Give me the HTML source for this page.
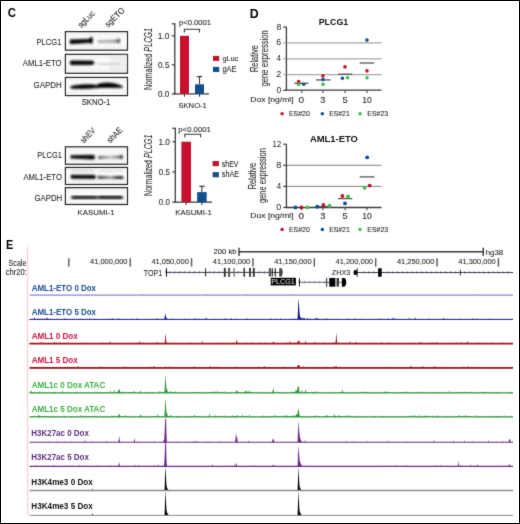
<!DOCTYPE html>
<html><head><meta charset="utf-8"><style>
html,body{margin:0;padding:0;background:#fff;}
svg{display:block;will-change:transform;font-family:"Liberation Sans", sans-serif;}
</style></head><body>
<svg width="520" height="524" viewBox="0 0 520 524">
<defs><filter id="soft" x="0" y="0" width="100%" height="100%" color-interpolation-filters="sRGB"><feConvolveMatrix order="3" kernelMatrix="0.0113 0.0838 0.0113 0.0838 0.6193 0.0838 0.0113 0.0838 0.0113" edgeMode="duplicate" preserveAlpha="true"/></filter><filter id="b6" x="-20%" y="-50%" width="140%" height="200%"><feGaussianBlur stdDeviation="0.8"/></filter><filter id="b7" x="-20%" y="-50%" width="140%" height="200%"><feGaussianBlur stdDeviation="0.8"/></filter><filter id="b9" x="-20%" y="-50%" width="140%" height="200%"><feGaussianBlur stdDeviation="0.9"/></filter><linearGradient id="bg1" x1="0" y1="0" x2="0" y2="1"><stop offset="0" stop-color="#ededed"/><stop offset="0.25" stop-color="#f9f9f9"/><stop offset="0.6" stop-color="#fcfcfc"/><stop offset="1" stop-color="#efefef"/></linearGradient><linearGradient id="g2" x1="0" y1="0" x2="1" y2="0"><stop offset="0" stop-color="#a0a0a0"/><stop offset="0.3" stop-color="#b0b0b0"/><stop offset="0.75" stop-color="#a0a0a0"/><stop offset="1" stop-color="#404040"/></linearGradient><linearGradient id="g3" x1="0" y1="0" x2="1" y2="0"><stop offset="0" stop-color="#222"/><stop offset="0.12" stop-color="#777"/><stop offset="0.5" stop-color="#b8b8b8"/><stop offset="0.82" stop-color="#777"/><stop offset="1" stop-color="#111"/></linearGradient><linearGradient id="g4" x1="0" y1="0" x2="1" y2="0"><stop offset="0" stop-color="#111"/><stop offset="0.2" stop-color="#555"/><stop offset="0.5" stop-color="#999"/><stop offset="0.75" stop-color="#333"/><stop offset="1" stop-color="#111"/></linearGradient><linearGradient id="g5" x1="0" y1="0" x2="1" y2="0"><stop offset="0" stop-color="#555"/><stop offset="0.5" stop-color="#111"/><stop offset="1" stop-color="#000"/></linearGradient></defs>
<rect width="520" height="524" fill="#fff"/>
<g filter="url(#soft)">
<rect width="520" height="524" fill="#fff"/>
<text x="7.83" y="17.30" font-size="12.03" textLength="8.28" lengthAdjust="spacingAndGlyphs" font-weight="bold" id="lC" fill="#000">C</text>
<text x="249.77" y="17.50" font-size="12.06" textLength="8.95" lengthAdjust="spacingAndGlyphs" font-weight="bold" id="lD" fill="#000">D</text>
<text x="6.07" y="248.50" font-size="12.21" textLength="7.25" lengthAdjust="spacingAndGlyphs" font-weight="bold" id="lE" fill="#000">E</text>
<rect x="65.40" y="31.60" width="62.10" height="18.60" fill="url(#bg1)" stroke="#2a2a2a" stroke-width="1.2"/>
<rect x="65.40" y="54.30" width="62.10" height="19.00" fill="url(#bg1)" stroke="#2a2a2a" stroke-width="1.2"/>
<rect x="65.40" y="77.40" width="62.10" height="18.20" fill="url(#bg1)" stroke="#2a2a2a" stroke-width="1.2"/>
<path d="M70.0,41.7 C70.0,39.3 71.6,39.2 72.6,39.9 L89.6,39.3 C90.2,37.6 91.2,36.9 91.9,37.4 C92.6,38.5 92.6,42.5 91.9,43.2 C91.2,43.8 90.2,43.0 89.6,42.6 L72.6,43.6 C71.6,44.3 70.0,44.1 70.0,41.7Z" fill="#000" fill-opacity="1" stroke="#000" stroke-opacity="1" stroke-width="0.8" filter="url(#b7)"/>
<path d="M97.6,41.4 C97.6,40.5 98.5,40.3 99.5,40.4 L117.4,40.0 C118.0,38.6 119.0,38.3 119.5,39.0 C119.9,40.2 119.9,42.2 119.3,42.8 C118.6,43.1 118.0,42.7 117.4,42.4 L99.5,42.5 C98.5,42.5 97.6,42.3 97.6,41.4Z" fill="url(#g2)" fill-opacity="1" stroke="url(#g2)" stroke-opacity="1" stroke-width="0.8" filter="url(#b7)"/>
<path d="M70.2,62.9 C70.2,60.7 71.5,60.8 73.0,60.9 L91.5,61.1 C93.0,61.1 93.9,61.7 93.9,62.9 C93.9,64.1 93.0,64.6 91.5,64.6 L73.0,64.8 C71.5,64.9 70.2,65.1 70.2,62.9Z" fill="#000" fill-opacity="1" stroke="#000" stroke-opacity="1" stroke-width="0.8" filter="url(#b7)"/>
<path d="M97.6,63.7 L120.5,63.5 L120.5,64.6 L97.6,64.8Z" fill="#bbb" fill-opacity="0.7" stroke="#bbb" stroke-opacity="0.7" stroke-width="0.8" filter="url(#b9)"/>
<rect x="110" y="55" width="17" height="17" fill="#ddd" opacity="0.35" filter="url(#b9)"/>
<path d="M70.2,87.2 C72,85.6 78,85.1 85,84.8 C90,84.6 94,84.5 96.6,85.5 L96.6,87.6 C92,88.4 86,88.6 80,88.6 C75,88.6 70.6,88.6 70.2,87.2Z" fill="#050505" fill-opacity="1" stroke="#050505" stroke-opacity="1" stroke-width="0.8" filter="url(#b7)"/>
<path d="M96.2,85.5 C99,83.6 103,82.9 108,83.0 C114,83.2 119,84.6 123.0,86.9 C121,87.9 115,87.6 108,87.4 C103,87.4 99,87.6 96.2,87.7Z" fill="#050505" fill-opacity="1" stroke="#050505" stroke-opacity="1" stroke-width="0.8" filter="url(#b7)"/>
<rect x="65.40" y="146.80" width="62.10" height="17.50" fill="url(#bg1)" stroke="#2a2a2a" stroke-width="1.2"/>
<rect x="65.40" y="167.40" width="62.10" height="17.10" fill="url(#bg1)" stroke="#2a2a2a" stroke-width="1.2"/>
<rect x="65.40" y="187.60" width="62.10" height="16.90" fill="url(#bg1)" stroke="#2a2a2a" stroke-width="1.2"/>
<path d="M70.6,156.9 C70.6,155.4 72.0,155.4 72.8,155.7 L91.5,155.2 C93.5,154.9 94.8,155.6 94.8,157.3 C94.8,158.9 93.5,159.4 91.5,159.1 L72.8,158.1 C72.0,158.4 70.6,158.4 70.6,156.9Z" fill="#000" fill-opacity="1" stroke="#000" stroke-opacity="1" stroke-width="0.8" filter="url(#b7)"/>
<path d="M98.6,157.4 C98.6,156.0 99.6,155.9 100.6,156.4 L119.4,156.0 C120.1,155.0 122.8,155.0 122.8,157.0 C122.8,159.0 120.1,159.0 119.4,158.1 L100.6,158.4 C99.6,158.9 98.6,158.8 98.6,157.4Z" fill="url(#g3)" fill-opacity="1" stroke="url(#g3)" stroke-opacity="1" stroke-width="0.8" filter="url(#b7)"/>
<path d="M70.8,176.6 C70.8,175.0 72.0,174.9 74,175.2 L93,175.3 C95,175.3 95.6,175.8 95.6,177.0 C95.6,178.3 95,178.6 93,178.5 L74,178.3 C72.0,178.4 70.8,178.2 70.8,176.6Z" fill="#000" fill-opacity="1" stroke="#000" stroke-opacity="1" stroke-width="0.8" filter="url(#b6)"/>
<path d="M98.0,177.3 C98.0,176.2 99.2,176.0 101,176.4 L121,176.5 C122.6,176.6 123.2,176.9 123.2,177.6 C123.2,178.5 122.6,178.8 121,178.7 L101,178.4 C99.2,178.6 98.0,178.4 98.0,177.3Z" fill="url(#g4)" fill-opacity="1" stroke="url(#g4)" stroke-opacity="1" stroke-width="0.8" filter="url(#b6)"/>
<rect x="71" y="169.6" width="23" height="2.0" fill="#aaa" opacity="0.45" filter="url(#b9)"/>
<rect x="99" y="169.8" width="23" height="1.8" fill="#bbb" opacity="0.4" filter="url(#b9)"/>
<rect x="72" y="180.0" width="50" height="1.2" fill="#ccc" opacity="0.35" filter="url(#b9)"/>
<path d="M71.2,197.4 C71.2,196.3 73,196.2 76,196.2 L94,196.3 C96,196.4 97,196.7 97.4,197.0 C98,196.6 99,196.3 101,196.2 L120,196.3 C122.6,196.4 123.0,196.8 123.0,197.5 C123.0,198.3 122.6,198.5 120,198.6 L101,198.5 C99,198.5 98,198.3 97.4,198.0 C97,198.3 96,198.6 94,198.6 L76,198.6 C73,198.6 71.2,198.5 71.2,197.4Z" fill="#000" fill-opacity="1" stroke="#000" stroke-opacity="1" stroke-width="0.8" filter="url(#b7)"/>
<text x="36.47" y="45.00" font-size="8.31" textLength="25.00" lengthAdjust="spacingAndGlyphs" id="c_p1" stroke="#231f20" stroke-width="0.08" fill="#231f20">PLCG1</text>
<text x="22.78" y="66.00" font-size="8.16" textLength="38.89" lengthAdjust="spacingAndGlyphs" id="c_a1" stroke="#231f20" stroke-width="0.08" fill="#231f20">AML1-ETO</text>
<text x="33.60" y="88.00" font-size="8.31" textLength="28.04" lengthAdjust="spacingAndGlyphs" id="c_g1" stroke="#231f20" stroke-width="0.08" fill="#231f20">GAPDH</text>
<text x="81.65" y="105.00" font-size="8.31" textLength="28.73" lengthAdjust="spacingAndGlyphs" id="c_s1" stroke="#231f20" stroke-width="0.08" fill="#231f20">SKNO-1</text>
<text x="37.28" y="158.30" font-size="8.31" textLength="24.69" lengthAdjust="spacingAndGlyphs" id="c_p2" stroke="#231f20" stroke-width="0.08" fill="#231f20">PLCG1</text>
<text x="23.38" y="179.70" font-size="8.31" textLength="38.58" lengthAdjust="spacingAndGlyphs" id="c_a2" stroke="#231f20" stroke-width="0.08" fill="#231f20">AML1-ETO</text>
<text x="34.41" y="201.00" font-size="8.16" textLength="27.83" lengthAdjust="spacingAndGlyphs" id="c_g2" stroke="#231f20" stroke-width="0.08" fill="#231f20">GAPDH</text>
<text x="77.56" y="214.70" font-size="7.88" textLength="37.03" lengthAdjust="spacingAndGlyphs" id="c_k2" stroke="#231f20" stroke-width="0.08" fill="#231f20">KASUMI-1</text>
<text id="r1" x="0" y="0" font-size="8.60" textLength="20.18" lengthAdjust="spacingAndGlyphs" fill="#231f20" stroke="#231f20" stroke-width="0.08" transform="translate(81.14,28.36) rotate(-45)">sgLuc</text>
<text id="r2" x="0" y="0" font-size="8.60" textLength="23.86" lengthAdjust="spacingAndGlyphs" fill="#231f20" stroke="#231f20" stroke-width="0.08" transform="translate(108.31,27.81) rotate(-45)">sgETO</text>
<text id="r3" x="0" y="0" font-size="8.60" textLength="17.50" lengthAdjust="spacingAndGlyphs" fill="#231f20" stroke="#231f20" stroke-width="0.08" transform="translate(83.68,143.58) rotate(-45)">shEV</text>
<text id="r4" x="0" y="0" font-size="8.60" textLength="17.93" lengthAdjust="spacingAndGlyphs" fill="#231f20" stroke="#231f20" stroke-width="0.08" transform="translate(110.29,143.48) rotate(-45)">shAE</text>
<line x1="174.80" y1="23.20" x2="174.80" y2="94.50" stroke="#3a3a3a" stroke-width="1.3"/>
<line x1="174.20" y1="93.90" x2="209.00" y2="93.90" stroke="#3a3a3a" stroke-width="1.3"/>
<line x1="171.80" y1="35.80" x2="174.80" y2="35.80" stroke="#3a3a3a" stroke-width="1.2"/>
<line x1="171.80" y1="64.85" x2="174.80" y2="64.85" stroke="#3a3a3a" stroke-width="1.2"/>
<line x1="171.80" y1="23.80" x2="174.80" y2="23.80" stroke="#3a3a3a" stroke-width="1.2"/>
<line x1="171.80" y1="93.90" x2="174.80" y2="93.90" stroke="#3a3a3a" stroke-width="1.2"/>
<rect x="180.00" y="35.80" width="9.00" height="58.10" fill="#c8102e"/>
<rect x="195.00" y="84.30" width="9.00" height="9.60" fill="#12508c"/>
<line x1="199.50" y1="76.60" x2="199.50" y2="84.30" stroke="#3a3a3a" stroke-width="1.1"/>
<line x1="196.80" y1="76.60" x2="202.10" y2="76.60" stroke="#3a3a3a" stroke-width="1.3"/>
<line x1="184.50" y1="93.90" x2="184.50" y2="96.70" stroke="#3a3a3a" stroke-width="1.1"/>
<line x1="199.50" y1="93.90" x2="199.50" y2="96.70" stroke="#3a3a3a" stroke-width="1.1"/>
<path d="M184.40,32.60 L184.40,29.20 L199.50,29.20 L199.50,32.60" fill="none" stroke="#3a3a3a" stroke-width="1.1"/>
<line x1="175.30" y1="127.70" x2="175.30" y2="202.70" stroke="#3a3a3a" stroke-width="1.3"/>
<line x1="174.70" y1="202.10" x2="212.00" y2="202.10" stroke="#3a3a3a" stroke-width="1.3"/>
<line x1="172.30" y1="141.70" x2="175.30" y2="141.70" stroke="#3a3a3a" stroke-width="1.2"/>
<line x1="172.30" y1="171.90" x2="175.30" y2="171.90" stroke="#3a3a3a" stroke-width="1.2"/>
<line x1="172.30" y1="128.30" x2="175.30" y2="128.30" stroke="#3a3a3a" stroke-width="1.2"/>
<line x1="172.30" y1="202.10" x2="175.30" y2="202.10" stroke="#3a3a3a" stroke-width="1.2"/>
<rect x="181.40" y="141.70" width="9.60" height="60.40" fill="#c8102e"/>
<rect x="197.10" y="192.10" width="9.60" height="10.00" fill="#12508c"/>
<line x1="201.90" y1="186.30" x2="201.90" y2="192.10" stroke="#3a3a3a" stroke-width="1.1"/>
<line x1="199.40" y1="186.30" x2="204.60" y2="186.30" stroke="#3a3a3a" stroke-width="1.3"/>
<line x1="186.20" y1="202.10" x2="186.20" y2="204.90" stroke="#3a3a3a" stroke-width="1.1"/>
<line x1="201.90" y1="202.10" x2="201.90" y2="204.90" stroke="#3a3a3a" stroke-width="1.1"/>
<path d="M184.80,137.40 L184.80,134.20 L200.70,134.20 L200.70,137.40" fill="none" stroke="#3a3a3a" stroke-width="1.1"/>
<rect x="213.0" y="55.9" width="6.2" height="5.0" fill="#c8102e"/>
<rect x="213.0" y="66.9" width="6.2" height="5.1" fill="#12508c"/>
<rect x="212.6" y="161.0" width="6.3" height="5.2" fill="#c8102e"/>
<rect x="212.6" y="172.1" width="6.3" height="5.2" fill="#12508c"/>
<text x="178.91" y="25.00" font-size="6.59" textLength="32.17" lengthAdjust="spacingAndGlyphs" id="b_p1" stroke="#231f20" stroke-width="0.08" fill="#231f20">p&lt;0.0001</text>
<text x="178.30" y="131.90" font-size="7.30" textLength="32.58" lengthAdjust="spacingAndGlyphs" id="b_p2" stroke="#231f20" stroke-width="0.08" fill="#231f20">p&lt;0.0001</text>
<text x="157.76" y="38.70" font-size="8.59" textLength="11.67" lengthAdjust="spacingAndGlyphs" id="t10a" stroke="#231f20" stroke-width="0.08" fill="#231f20">1.0</text>
<text x="158.08" y="67.80" font-size="8.59" textLength="11.36" lengthAdjust="spacingAndGlyphs" id="t05a" stroke="#231f20" stroke-width="0.08" fill="#231f20">0.5</text>
<text x="158.08" y="96.90" font-size="8.59" textLength="11.34" lengthAdjust="spacingAndGlyphs" id="t00a" stroke="#231f20" stroke-width="0.08" fill="#231f20">0.0</text>
<text x="158.47" y="144.80" font-size="8.59" textLength="11.45" lengthAdjust="spacingAndGlyphs" id="t10b" stroke="#231f20" stroke-width="0.08" fill="#231f20">1.0</text>
<text x="158.79" y="174.95" font-size="8.59" textLength="11.15" lengthAdjust="spacingAndGlyphs" id="t05b" stroke="#231f20" stroke-width="0.08" fill="#231f20">0.5</text>
<text x="158.79" y="205.10" font-size="8.59" textLength="11.13" lengthAdjust="spacingAndGlyphs" id="t00b" stroke="#231f20" stroke-width="0.08" fill="#231f20">0.0</text>
<text x="222.39" y="60.80" font-size="7.99" textLength="15.90" lengthAdjust="spacingAndGlyphs" id="lg1" stroke="#231f20" stroke-width="0.08" fill="#231f20">gLuc</text>
<text x="222.39" y="71.80" font-size="8.14" textLength="14.14" lengthAdjust="spacingAndGlyphs" id="lg2" stroke="#231f20" stroke-width="0.08" fill="#231f20">gAE</text>
<text x="221.81" y="166.80" font-size="8.43" textLength="16.62" lengthAdjust="spacingAndGlyphs" id="lg3" stroke="#231f20" stroke-width="0.08" fill="#231f20">shEV</text>
<text x="221.80" y="176.90" font-size="8.58" textLength="17.31" lengthAdjust="spacingAndGlyphs" id="lg4" stroke="#231f20" stroke-width="0.08" fill="#231f20">shAE</text>
<text x="178.45" y="107.90" font-size="7.88" textLength="28.42" lengthAdjust="spacingAndGlyphs" id="bx1" stroke="#231f20" stroke-width="0.08" fill="#231f20">SKNO-1</text>
<text x="175.26" y="214.70" font-size="7.73" textLength="36.61" lengthAdjust="spacingAndGlyphs" id="bx2" stroke="#231f20" stroke-width="0.08" fill="#231f20">KASUMI-1</text>
<text x="0" y="0" font-size="10.40" textLength="61.94" lengthAdjust="spacingAndGlyphs" fill="#231f20" stroke="#231f20" stroke-width="0.08" transform="translate(152.40,89.99) rotate(-90)">Normalized <tspan style="font-style:italic">PLCG1</tspan></text>
<text x="0" y="0" font-size="10.40" textLength="61.33" lengthAdjust="spacingAndGlyphs" fill="#231f20" stroke="#231f20" stroke-width="0.08" transform="translate(152.40,195.98) rotate(-90)">Normalized <tspan style="font-style:italic">PLCG1</tspan></text>
<line x1="286.40" y1="42.80" x2="381.50" y2="42.80" stroke="#a6a6a6" stroke-width="1.35"/>
<line x1="286.40" y1="58.80" x2="381.50" y2="58.80" stroke="#a6a6a6" stroke-width="1.35"/>
<line x1="286.40" y1="74.60" x2="381.50" y2="74.60" stroke="#a6a6a6" stroke-width="1.35"/>
<line x1="286.40" y1="27.00" x2="286.40" y2="90.80" stroke="#3a3a3a" stroke-width="1.3"/>
<line x1="285.80" y1="90.20" x2="381.50" y2="90.20" stroke="#3a3a3a" stroke-width="1.3"/>
<line x1="283.20" y1="27.00" x2="286.40" y2="27.00" stroke="#3a3a3a" stroke-width="1.2"/>
<line x1="283.20" y1="42.80" x2="286.40" y2="42.80" stroke="#a6a6a6" stroke-width="1.2"/>
<line x1="283.20" y1="58.80" x2="286.40" y2="58.80" stroke="#a6a6a6" stroke-width="1.2"/>
<line x1="283.20" y1="74.60" x2="286.40" y2="74.60" stroke="#a6a6a6" stroke-width="1.2"/>
<line x1="283.20" y1="90.20" x2="286.40" y2="90.20" stroke="#3a3a3a" stroke-width="1.2"/>
<line x1="301.80" y1="90.20" x2="301.80" y2="93.00" stroke="#3a3a3a" stroke-width="1.0"/>
<line x1="322.90" y1="90.20" x2="322.90" y2="93.00" stroke="#3a3a3a" stroke-width="1.0"/>
<line x1="345.10" y1="90.20" x2="345.10" y2="93.00" stroke="#3a3a3a" stroke-width="1.0"/>
<line x1="367.00" y1="90.20" x2="367.00" y2="93.00" stroke="#3a3a3a" stroke-width="1.0"/>
<line x1="294.30" y1="83.30" x2="308.40" y2="83.30" stroke="#555" stroke-width="1.3"/>
<line x1="315.90" y1="79.90" x2="330.60" y2="79.90" stroke="#555" stroke-width="1.3"/>
<line x1="338.00" y1="74.20" x2="352.30" y2="74.20" stroke="#555" stroke-width="1.3"/>
<line x1="359.70" y1="63.00" x2="374.00" y2="63.00" stroke="#555" stroke-width="1.3"/>
<circle cx="298.60" cy="81.60" r="1.8" fill="#c8102e"/>
<circle cx="298.60" cy="84.50" r="1.8" fill="#3cc043"/>
<circle cx="303.70" cy="84.20" r="1.8" fill="#0f4f8f"/>
<circle cx="323.00" cy="75.90" r="1.8" fill="#c8102e"/>
<circle cx="323.00" cy="79.60" r="1.8" fill="#0f4f8f"/>
<circle cx="323.00" cy="84.20" r="1.8" fill="#3cc043"/>
<circle cx="345.00" cy="66.90" r="1.8" fill="#c8102e"/>
<circle cx="342.40" cy="78.20" r="1.8" fill="#0f4f8f"/>
<circle cx="347.60" cy="77.70" r="1.8" fill="#3cc043"/>
<circle cx="367.00" cy="40.10" r="1.8" fill="#0f4f8f"/>
<circle cx="367.00" cy="70.90" r="1.8" fill="#c8102e"/>
<circle cx="367.00" cy="77.80" r="1.8" fill="#3cc043"/>
<line x1="286.40" y1="165.30" x2="381.50" y2="165.30" stroke="#808080" stroke-width="1.0"/>
<line x1="286.40" y1="186.40" x2="381.50" y2="186.40" stroke="#808080" stroke-width="1.0"/>
<line x1="286.40" y1="144.20" x2="286.40" y2="208.10" stroke="#3a3a3a" stroke-width="1.3"/>
<line x1="285.80" y1="207.50" x2="381.50" y2="207.50" stroke="#3a3a3a" stroke-width="1.3"/>
<line x1="283.20" y1="144.20" x2="286.40" y2="144.20" stroke="#3a3a3a" stroke-width="1.2"/>
<line x1="283.20" y1="165.30" x2="286.40" y2="165.30" stroke="#3a3a3a" stroke-width="1.2"/>
<line x1="283.20" y1="186.30" x2="286.40" y2="186.30" stroke="#3a3a3a" stroke-width="1.2"/>
<line x1="283.20" y1="207.50" x2="286.40" y2="207.50" stroke="#3a3a3a" stroke-width="1.2"/>
<line x1="301.80" y1="207.50" x2="301.80" y2="210.30" stroke="#3a3a3a" stroke-width="1.0"/>
<line x1="322.90" y1="207.50" x2="322.90" y2="210.30" stroke="#3a3a3a" stroke-width="1.0"/>
<line x1="345.10" y1="207.50" x2="345.10" y2="210.30" stroke="#3a3a3a" stroke-width="1.0"/>
<line x1="367.00" y1="207.50" x2="367.00" y2="210.30" stroke="#3a3a3a" stroke-width="1.0"/>
<line x1="315.50" y1="206.60" x2="330.50" y2="206.60" stroke="#555" stroke-width="1.3"/>
<line x1="338.00" y1="198.60" x2="352.30" y2="198.60" stroke="#555" stroke-width="1.3"/>
<line x1="359.70" y1="176.90" x2="374.40" y2="176.90" stroke="#555" stroke-width="1.3"/>
<circle cx="295.40" cy="207.40" r="1.95" fill="#0f4f8f"/>
<circle cx="301.40" cy="207.40" r="1.95" fill="#c8102e"/>
<circle cx="307.30" cy="207.40" r="1.95" fill="#3cc043"/>
<circle cx="317.30" cy="206.80" r="1.95" fill="#0f4f8f"/>
<circle cx="323.40" cy="205.00" r="1.95" fill="#c8102e"/>
<circle cx="329.40" cy="205.80" r="1.95" fill="#3cc043"/>
<circle cx="342.40" cy="196.00" r="1.95" fill="#c8102e"/>
<circle cx="348.00" cy="196.50" r="1.95" fill="#3cc043"/>
<circle cx="345.00" cy="203.40" r="1.95" fill="#0f4f8f"/>
<circle cx="367.20" cy="157.40" r="1.95" fill="#0f4f8f"/>
<circle cx="369.70" cy="185.60" r="1.95" fill="#c8102e"/>
<circle cx="364.60" cy="187.80" r="1.95" fill="#3cc043"/>
<text x="318.71" y="24.50" font-size="9.31" textLength="29.54" lengthAdjust="spacingAndGlyphs" font-weight="bold" id="dt1" fill="#111">PLCG1</text>
<text x="309.97" y="141.50" font-size="9.45" textLength="47.93" lengthAdjust="spacingAndGlyphs" font-weight="bold" id="dt2" fill="#111">AML1-ETO</text>
<text x="276.42" y="29.60" font-size="8.45" textLength="4.86" lengthAdjust="spacingAndGlyphs" id="dy1_0" fill="#231f20">8</text>
<text x="276.35" y="45.40" font-size="8.45" textLength="4.94" lengthAdjust="spacingAndGlyphs" id="dy1_1" fill="#231f20">6</text>
<text x="276.61" y="61.40" font-size="8.58" textLength="4.53" lengthAdjust="spacingAndGlyphs" id="dy1_2" fill="#231f20">4</text>
<text x="276.35" y="77.20" font-size="8.45" textLength="5.01" lengthAdjust="spacingAndGlyphs" id="dy1_3" fill="#231f20">2</text>
<text x="276.46" y="92.80" font-size="8.45" textLength="4.77" lengthAdjust="spacingAndGlyphs" id="dy1_4" fill="#231f20">0</text>
<text x="272.61" y="146.80" font-size="8.45" textLength="8.69" lengthAdjust="spacingAndGlyphs" id="dy2_0" fill="#231f20">12</text>
<text x="276.20" y="167.90" font-size="8.45" textLength="5.10" lengthAdjust="spacingAndGlyphs" id="dy2_1" fill="#231f20">8</text>
<text x="276.40" y="188.90" font-size="8.58" textLength="4.75" lengthAdjust="spacingAndGlyphs" id="dy2_2" fill="#231f20">4</text>
<text x="276.25" y="210.00" font-size="8.45" textLength="5.00" lengthAdjust="spacingAndGlyphs" id="dy2_3" fill="#231f20">0</text>
<text x="250.30" y="102.10" font-size="7.70" textLength="43.31" lengthAdjust="spacingAndGlyphs" id="dox0" stroke="#231f20" stroke-width="0.08" fill="#231f20">Dox [ng/ml]</text>
<text x="298.41" y="102.80" font-size="8.59" textLength="5.58" lengthAdjust="spacingAndGlyphs" id="dx0_0" stroke="#231f20" stroke-width="0.08" fill="#231f20">0</text>
<text x="320.35" y="102.80" font-size="8.59" textLength="5.16" lengthAdjust="spacingAndGlyphs" id="dx0_1" stroke="#231f20" stroke-width="0.08" fill="#231f20">3</text>
<text x="342.53" y="102.80" font-size="8.72" textLength="5.16" lengthAdjust="spacingAndGlyphs" id="dx0_2" stroke="#231f20" stroke-width="0.08" fill="#231f20">5</text>
<text x="362.25" y="102.80" font-size="8.59" textLength="9.48" lengthAdjust="spacingAndGlyphs" id="dx0_3" stroke="#231f20" stroke-width="0.08" fill="#231f20">10</text>
<text x="250.30" y="217.90" font-size="7.41" textLength="43.31" lengthAdjust="spacingAndGlyphs" id="dox1" stroke="#231f20" stroke-width="0.08" fill="#231f20">Dox [ng/ml]</text>
<text x="298.41" y="218.60" font-size="8.31" textLength="5.58" lengthAdjust="spacingAndGlyphs" id="dx1_0" stroke="#231f20" stroke-width="0.08" fill="#231f20">0</text>
<text x="320.35" y="218.60" font-size="8.31" textLength="5.16" lengthAdjust="spacingAndGlyphs" id="dx1_1" stroke="#231f20" stroke-width="0.08" fill="#231f20">3</text>
<text x="342.53" y="218.60" font-size="8.43" textLength="5.16" lengthAdjust="spacingAndGlyphs" id="dx1_2" stroke="#231f20" stroke-width="0.08" fill="#231f20">5</text>
<text x="362.25" y="218.60" font-size="8.31" textLength="9.48" lengthAdjust="spacingAndGlyphs" id="dx1_3" stroke="#231f20" stroke-width="0.08" fill="#231f20">10</text>
<circle cx="282.10" cy="113.80" r="1.75" fill="#c8102e"/>
<text x="288.93" y="116.30" font-size="7.16" textLength="20.94" lengthAdjust="spacingAndGlyphs" id="lgd0_0" stroke="#231f20" stroke-width="0.08" fill="#231f20">ES#20</text>
<circle cx="322.30" cy="113.80" r="1.75" fill="#0f4f8f"/>
<text x="329.14" y="116.30" font-size="7.16" textLength="20.60" lengthAdjust="spacingAndGlyphs" id="lgd0_1" stroke="#231f20" stroke-width="0.08" fill="#231f20">ES#21</text>
<circle cx="360.00" cy="113.80" r="1.75" fill="#3cc043"/>
<text x="367.23" y="116.30" font-size="7.16" textLength="20.98" lengthAdjust="spacingAndGlyphs" id="lgd0_2" stroke="#231f20" stroke-width="0.08" fill="#231f20">ES#23</text>
<circle cx="282.10" cy="229.50" r="1.75" fill="#c8102e"/>
<text x="288.93" y="232.00" font-size="7.16" textLength="20.94" lengthAdjust="spacingAndGlyphs" id="lgd1_0" stroke="#231f20" stroke-width="0.08" fill="#231f20">ES#20</text>
<circle cx="322.30" cy="229.50" r="1.75" fill="#0f4f8f"/>
<text x="329.14" y="232.00" font-size="7.16" textLength="20.60" lengthAdjust="spacingAndGlyphs" id="lgd1_1" stroke="#231f20" stroke-width="0.08" fill="#231f20">ES#21</text>
<circle cx="360.00" cy="229.50" r="1.75" fill="#3cc043"/>
<text x="367.23" y="232.00" font-size="7.16" textLength="20.98" lengthAdjust="spacingAndGlyphs" id="lgd1_2" stroke="#231f20" stroke-width="0.08" fill="#231f20">ES#23</text>
<text x="0" y="0" font-size="10.40" textLength="27.05" lengthAdjust="spacingAndGlyphs" fill="#231f20" stroke="#231f20" stroke-width="0.08" transform="translate(257.90,72.11) rotate(-90)">Relative</text>
<text x="0" y="0" font-size="10.20" textLength="56.52" lengthAdjust="spacingAndGlyphs" fill="#231f20" stroke="#231f20" stroke-width="0.08" transform="translate(268.40,86.62) rotate(-90)">gene expression</text>
<text x="0" y="0" font-size="10.40" textLength="26.32" lengthAdjust="spacingAndGlyphs" fill="#231f20" stroke="#231f20" stroke-width="0.08" transform="translate(255.60,189.30) rotate(-90)">Relative</text>
<text x="0" y="0" font-size="10.20" textLength="54.80" lengthAdjust="spacingAndGlyphs" fill="#231f20" stroke="#231f20" stroke-width="0.08" transform="translate(265.70,203.01) rotate(-90)">gene expression</text>
<line x1="27.6" y1="247" x2="27.6" y2="515.5" stroke="#fbcfd3" stroke-width="1.3"/>
<text x="8.58" y="265.90" font-size="8.45" textLength="17.84" lengthAdjust="spacingAndGlyphs" id="sc1" stroke="#231f20" stroke-width="0.08" fill="#231f20">Scale</text>
<text x="5.68" y="274.80" font-size="8.74" textLength="21.12" lengthAdjust="spacingAndGlyphs" id="sc2" stroke="#231f20" stroke-width="0.08" fill="#231f20">chr20:</text>
<line x1="68.83" y1="258.2" x2="68.83" y2="266.6" stroke="#555" stroke-width="1.4"/>
<line x1="130.20" y1="258.2" x2="130.20" y2="266.6" stroke="#555" stroke-width="1.4"/>
<text x="90.03" y="264.40" font-size="8.02" textLength="37.46" lengthAdjust="spacingAndGlyphs" id="ru0" stroke="#231f20" stroke-width="0.08" fill="#231f20">41,000,000</text>
<line x1="191.57" y1="258.2" x2="191.57" y2="266.6" stroke="#555" stroke-width="1.4"/>
<text x="151.40" y="264.40" font-size="8.02" textLength="37.46" lengthAdjust="spacingAndGlyphs" id="ru1" stroke="#231f20" stroke-width="0.08" fill="#231f20">41,050,000</text>
<line x1="252.94" y1="258.2" x2="252.94" y2="266.6" stroke="#555" stroke-width="1.4"/>
<text x="212.77" y="264.40" font-size="8.02" textLength="37.46" lengthAdjust="spacingAndGlyphs" id="ru2" stroke="#231f20" stroke-width="0.08" fill="#231f20">41,100,000</text>
<line x1="314.31" y1="258.2" x2="314.31" y2="266.6" stroke="#555" stroke-width="1.4"/>
<text x="274.14" y="264.40" font-size="8.02" textLength="37.46" lengthAdjust="spacingAndGlyphs" id="ru3" stroke="#231f20" stroke-width="0.08" fill="#231f20">41,150,000</text>
<line x1="375.68" y1="258.2" x2="375.68" y2="266.6" stroke="#555" stroke-width="1.4"/>
<text x="335.51" y="264.40" font-size="8.02" textLength="37.46" lengthAdjust="spacingAndGlyphs" id="ru4" stroke="#231f20" stroke-width="0.08" fill="#231f20">41,200,000</text>
<line x1="437.05" y1="258.2" x2="437.05" y2="266.6" stroke="#555" stroke-width="1.4"/>
<text x="396.88" y="264.40" font-size="8.02" textLength="37.46" lengthAdjust="spacingAndGlyphs" id="ru5" stroke="#231f20" stroke-width="0.08" fill="#231f20">41,250,000</text>
<line x1="498.42" y1="258.2" x2="498.42" y2="266.6" stroke="#555" stroke-width="1.4"/>
<text x="458.25" y="264.40" font-size="8.02" textLength="37.46" lengthAdjust="spacingAndGlyphs" id="ru6" stroke="#231f20" stroke-width="0.08" fill="#231f20">41,300,000</text>
<line x1="239.0" y1="251.7" x2="483.3" y2="251.7" stroke="#3a3a3a" stroke-width="1.4"/>
<line x1="239.0" y1="247.7" x2="239.0" y2="255.9" stroke="#333" stroke-width="1.4"/>
<line x1="483.3" y1="247.7" x2="483.3" y2="255.9" stroke="#333" stroke-width="1.4"/>
<text x="213.41" y="254.30" font-size="6.87" textLength="23.11" lengthAdjust="spacingAndGlyphs" id="kb" stroke="#231f20" stroke-width="0.08" fill="#231f20">200 kb</text>
<text x="485.65" y="254.50" font-size="7.02" textLength="17.49" lengthAdjust="spacingAndGlyphs" id="hg" stroke="#231f20" stroke-width="0.08" fill="#231f20">hg38</text>
<text x="143.84" y="275.50" font-size="8.45" textLength="18.30" lengthAdjust="spacingAndGlyphs" id="top1" stroke="#231f20" stroke-width="0.08" fill="#231f20">TOP1</text>
<text x="331.87" y="275.40" font-size="7.59" textLength="18.55" lengthAdjust="spacingAndGlyphs" id="zhx3" stroke="#231f20" stroke-width="0.08" fill="#231f20">ZHX3</text>
<line x1="166.0" y1="272.4" x2="282.0" y2="272.4" stroke="#3a3a3a" stroke-width="1.0"/>
<path d="M169.40,271.10 L170.70,272.40 L169.40,273.70 M174.35,271.10 L175.65,272.40 L174.35,273.70 M179.30,271.10 L180.60,272.40 L179.30,273.70 M184.25,271.10 L185.55,272.40 L184.25,273.70 M189.20,271.10 L190.50,272.40 L189.20,273.70 M194.15,271.10 L195.45,272.40 L194.15,273.70 M199.10,271.10 L200.40,272.40 L199.10,273.70 " fill="none" stroke="#7676d6" stroke-width="0.9"/>
<path d="M209.50,271.10 L210.80,272.40 L209.50,273.70 M214.10,271.10 L215.40,272.40 L214.10,273.70 M218.70,271.10 L220.00,272.40 L218.70,273.70 " fill="none" stroke="#7676d6" stroke-width="0.9"/>
<path d="M238.10,271.10 L239.40,272.40 L238.10,273.70 " fill="none" stroke="#7676d6" stroke-width="0.9"/>
<path d="M259.10,271.10 L260.40,272.40 L259.10,273.70 M264.30,271.10 L265.60,272.40 L264.30,273.70 " fill="none" stroke="#7676d6" stroke-width="0.9"/>
<path d="M167.0,268.10 L166.2,268.10 Q165.0,272.40 166.2,276.70 L167.0,276.70Z" fill="#111"/>
<rect x="205.10" y="268.20" width="1.00" height="8.40" fill="#222"/>
<rect x="223.85" y="267.95" width="1.90" height="8.90" fill="#333"/>
<rect x="228.10" y="267.95" width="2.00" height="8.90" fill="#555"/>
<rect x="233.50" y="268.10" width="1.20" height="8.60" fill="#666"/>
<rect x="243.45" y="267.95" width="1.50" height="8.90" fill="#333"/>
<rect x="249.05" y="267.95" width="1.90" height="8.90" fill="#3a3a3a"/>
<rect x="252.85" y="267.95" width="1.90" height="8.90" fill="#333"/>
<rect x="268.80" y="268.30" width="2.20" height="8.20" fill="#555"/>
<rect x="271.70" y="268.30" width="1.20" height="8.20" fill="#222"/>
<rect x="274.70" y="268.30" width="1.20" height="8.20" fill="#222"/>
<rect x="279.20" y="268.30" width="2.20" height="8.20" fill="#444"/>
<path d="M281.4,268.30 L281.9,268.30 Q283.6,272.40 281.9,276.50 L281.4,276.50Z" fill="#111"/>
<rect x="270.7" y="277.8" width="25.2" height="7.6" fill="#000"/>
<text x="271.31" y="283.80" font-size="6.30" textLength="23.44" lengthAdjust="spacingAndGlyphs" id="plg" fill="#e8e8e8">PLCG1</text>
<line x1="299.0" y1="282.3" x2="345.0" y2="282.3" stroke="#666" stroke-width="1.1"/>
<path d="M304.10,281.00 L305.40,282.30 L304.10,283.60 M309.10,281.00 L310.40,282.30 L309.10,283.60 M314.10,281.00 L315.40,282.30 L314.10,283.60 M319.10,281.00 L320.40,282.30 L319.10,283.60 M324.10,281.00 L325.40,282.30 L324.10,283.60 " fill="none" stroke="#7676d6" stroke-width="0.9"/>
<path d="M300.0,277.90 L299.4,277.90 Q297.8,282.30 299.4,286.70 L300.0,286.70Z" fill="#111"/>
<rect x="326.20" y="277.85" width="1.00" height="8.90" fill="#222"/>
<rect x="329.3" y="277.95" width="5.9" height="8.7" fill="#000"/>
<rect x="335.2" y="277.95" width="2.0" height="8.7" fill="#9a9a9a"/>
<rect x="337.2" y="277.95" width="1.6" height="8.7" fill="#111"/>
<path d="M341.9,277.95 L344.2,277.95 Q346.4,278.80 346.2,282.30 Q346.4,285.80 344.2,286.65 L341.9,286.65Z" fill="#000"/>
<line x1="353.8" y1="272.5" x2="513.0" y2="272.5" stroke="#3a3a3a" stroke-width="1.0"/>
<path d="M364.20,271.20 L362.90,272.50 L364.20,273.80 M369.00,271.20 L367.70,272.50 L369.00,273.80 M373.80,271.20 L372.50,272.50 L373.80,273.80 " fill="none" stroke="#7676d6" stroke-width="0.9"/>
<path d="M388.20,271.20 L386.90,272.50 L388.20,273.80 M393.00,271.20 L391.70,272.50 L393.00,273.80 M397.80,271.20 L396.50,272.50 L397.80,273.80 M402.60,271.20 L401.30,272.50 L402.60,273.80 M407.40,271.20 L406.10,272.50 L407.40,273.80 M412.20,271.20 L410.90,272.50 L412.20,273.80 M417.00,271.20 L415.70,272.50 L417.00,273.80 M421.80,271.20 L420.50,272.50 L421.80,273.80 M426.60,271.20 L425.30,272.50 L426.60,273.80 M431.40,271.20 L430.10,272.50 L431.40,273.80 M436.20,271.20 L434.90,272.50 L436.20,273.80 M441.00,271.20 L439.70,272.50 L441.00,273.80 M445.80,271.20 L444.50,272.50 L445.80,273.80 M450.60,271.20 L449.30,272.50 L450.60,273.80 M455.40,271.20 L454.10,272.50 L455.40,273.80 " fill="none" stroke="#7676d6" stroke-width="0.9"/>
<path d="M464.70,271.20 L463.40,272.50 L464.70,273.80 M469.50,271.20 L468.20,272.50 L469.50,273.80 M474.30,271.20 L473.00,272.50 L474.30,273.80 M479.10,271.20 L477.80,272.50 L479.10,273.80 M483.90,271.20 L482.60,272.50 L483.90,273.80 M488.70,271.20 L487.40,272.50 L488.70,273.80 M493.50,271.20 L492.20,272.50 L493.50,273.80 M498.30,271.20 L497.00,272.50 L498.30,273.80 M503.10,271.20 L501.80,272.50 L503.10,273.80 M507.90,271.20 L506.60,272.50 L507.90,273.80 " fill="none" stroke="#7676d6" stroke-width="0.9"/>
<rect x="353.8" y="270.20" width="3.1" height="4.6" fill="#000"/>
<rect x="356.75" y="268.15" width="0.90" height="8.70" fill="#111"/>
<rect x="378.1" y="268.15" width="3.6" height="8.7" rx="0.6" fill="#000"/>
<rect x="459.85" y="269.50" width="0.90" height="6.00" fill="#222"/>
<text x="31.70" y="290.50" font-size="8.45" textLength="64.36" lengthAdjust="spacingAndGlyphs" font-weight="bold" id="tr0" fill="#1f4e8c">AML1-ETO 0 Dox</text>
<path d="M29.6,295.1 L29.6,295.1 L30.1,295.1 L30.6,295.1 L31.1,295.1 L31.6,295.1 L32.1,295.1 L32.6,295.1 L33.1,295.1 L33.6,295.1 L34.1,295.1 L34.6,295.1 L35.1,295.1 L35.6,295.1 L36.1,295.1 L36.6,295.1 L37.1,295.1 L37.6,295.1 L38.1,295.1 L38.6,295.1 L39.1,295.1 L39.6,295.1 L40.1,295.1 L40.6,295.1 L41.1,295.1 L41.6,295.1 L42.1,295.1 L42.6,295.1 L43.1,295.1 L43.6,295.1 L44.1,295.1 L44.6,295.1 L45.1,295.1 L45.6,295.1 L46.1,295.1 L46.6,295.1 L47.1,295.1 L47.6,295.1 L48.1,295.1 L48.6,295.1 L49.1,295.1 L49.6,295.1 L50.1,295.1 L50.6,295.1 L51.1,295.1 L51.6,295.1 L52.1,295.1 L52.6,295.1 L53.1,295.1 L53.6,295.1 L54.1,295.1 L54.6,295.1 L55.1,295.1 L55.6,295.1 L56.1,295.1 L56.6,295.1 L57.1,295.1 L57.6,295.1 L58.1,295.1 L58.6,295.1 L59.1,295.1 L59.6,295.1 L60.1,295.1 L60.6,295.1 L61.1,295.1 L61.6,295.1 L62.1,295.1 L62.6,295.1 L63.1,295.1 L63.6,295.1 L64.1,295.1 L64.6,295.1 L65.1,295.1 L65.6,295.1 L66.1,295.1 L66.6,295.1 L67.1,295.1 L67.6,295.1 L68.1,295.1 L68.6,295.1 L69.1,295.1 L69.6,295.1 L70.1,295.1 L70.6,295.1 L71.1,295.1 L71.6,295.1 L72.1,295.1 L72.6,295.1 L73.1,295.1 L73.6,295.1 L74.1,295.1 L74.6,295.1 L75.1,295.1 L75.6,295.1 L76.1,295.1 L76.6,295.1 L77.1,295.1 L77.6,295.1 L78.1,295.1 L78.6,295.1 L79.1,295.1 L79.6,295.1 L80.1,295.1 L80.6,295.1 L81.1,295.1 L81.6,295.1 L82.1,295.1 L82.6,294.9 L83.1,295.1 L83.6,295.1 L84.1,295.1 L84.6,295.1 L85.1,295.1 L85.6,295.1 L86.1,295.1 L86.6,295.1 L87.1,295.1 L87.6,295.1 L88.1,295.1 L88.6,295.1 L89.1,295.1 L89.6,295.1 L90.1,295.1 L90.6,295.1 L91.1,295.1 L91.6,295.1 L92.1,295.1 L92.6,295.1 L93.1,295.1 L93.6,295.1 L94.1,295.0 L94.6,295.1 L95.1,295.1 L95.6,295.1 L96.1,295.1 L96.6,295.1 L97.1,295.1 L97.6,295.1 L98.1,295.1 L98.6,295.1 L99.1,295.1 L99.6,295.1 L100.1,295.1 L100.6,295.1 L101.1,295.1 L101.6,295.1 L102.1,295.1 L102.6,295.1 L103.1,295.1 L103.6,295.1 L104.1,295.1 L104.6,295.1 L105.1,295.1 L105.6,295.1 L106.1,295.1 L106.6,295.1 L107.1,295.1 L107.6,295.1 L108.1,295.1 L108.6,295.1 L109.1,295.1 L109.6,295.1 L110.1,295.1 L110.6,295.1 L111.1,295.1 L111.6,295.1 L112.1,295.1 L112.6,295.1 L113.1,295.1 L113.6,295.1 L114.1,295.1 L114.6,295.1 L115.1,295.1 L115.6,295.1 L116.1,295.1 L116.6,295.1 L117.1,295.1 L117.6,295.1 L118.1,295.1 L118.6,295.1 L119.1,295.1 L119.6,295.1 L120.1,295.1 L120.6,295.1 L121.1,295.1 L121.6,295.1 L122.1,295.1 L122.6,295.1 L123.1,295.1 L123.6,295.1 L124.1,295.1 L124.6,295.1 L125.1,295.1 L125.6,295.1 L126.1,295.1 L126.6,295.1 L127.1,295.1 L127.6,295.1 L128.1,295.1 L128.6,295.1 L129.1,295.1 L129.6,295.1 L130.1,295.1 L130.6,295.1 L131.1,295.1 L131.6,295.1 L132.1,295.1 L132.6,295.1 L133.1,295.1 L133.6,295.1 L134.1,295.1 L134.6,295.1 L135.1,295.1 L135.6,295.1 L136.1,295.1 L136.6,295.1 L137.1,295.1 L137.6,295.1 L138.1,295.1 L138.6,295.1 L139.1,295.1 L139.6,295.1 L140.1,295.1 L140.6,295.1 L141.1,295.1 L141.6,295.1 L142.1,293.7 L142.6,295.1 L143.1,295.1 L143.6,295.1 L144.1,295.1 L144.6,295.1 L145.1,295.1 L145.6,295.1 L146.1,295.1 L146.6,295.1 L147.1,295.1 L147.6,295.1 L148.1,295.1 L148.6,295.1 L149.1,295.1 L149.6,295.1 L150.1,295.1 L150.6,295.1 L151.1,295.1 L151.6,295.1 L152.1,295.1 L152.6,295.1 L153.1,295.1 L153.6,295.1 L154.1,295.1 L154.6,294.9 L155.1,295.1 L155.6,294.5 L156.1,295.1 L156.6,295.1 L157.1,295.1 L157.6,295.1 L158.1,295.1 L158.6,295.1 L159.1,295.1 L159.6,295.1 L160.1,295.1 L160.6,295.1 L161.1,295.1 L161.6,295.1 L162.1,295.1 L162.6,295.1 L163.1,295.1 L163.6,295.1 L164.1,295.1 L164.6,295.1 L165.1,295.1 L165.6,295.1 L166.1,295.1 L166.6,295.1 L167.1,295.1 L167.6,295.1 L168.1,295.1 L168.6,295.1 L169.1,295.1 L169.6,295.1 L170.1,295.1 L170.6,295.1 L171.1,295.1 L171.6,295.1 L172.1,295.1 L172.6,295.1 L173.1,295.1 L173.6,295.1 L174.1,295.1 L174.6,295.1 L175.1,295.1 L175.6,295.1 L176.1,295.1 L176.6,295.1 L177.1,295.1 L177.6,295.1 L178.1,295.1 L178.6,295.1 L179.1,295.1 L179.6,295.1 L180.1,295.1 L180.6,295.1 L181.1,295.1 L181.6,295.1 L182.1,295.1 L182.6,295.1 L183.1,295.1 L183.6,295.1 L184.1,295.1 L184.6,295.1 L185.1,295.1 L185.6,295.1 L186.1,295.1 L186.6,294.8 L187.1,295.1 L187.6,294.9 L188.1,295.1 L188.6,295.1 L189.1,295.1 L189.6,295.1 L190.1,295.1 L190.6,295.1 L191.1,295.1 L191.6,295.1 L192.1,295.1 L192.6,295.1 L193.1,295.1 L193.6,295.1 L194.1,295.1 L194.6,295.1 L195.1,295.1 L195.6,295.1 L196.1,295.1 L196.6,295.1 L197.1,295.1 L197.6,295.1 L198.1,295.1 L198.6,295.1 L199.1,295.1 L199.6,295.1 L200.1,295.1 L200.6,295.1 L201.1,295.1 L201.6,295.1 L202.1,295.1 L202.6,295.1 L203.1,295.1 L203.6,295.1 L204.1,295.1 L204.6,295.1 L205.1,295.1 L205.6,294.8 L206.0,294.3 L206.1,294.3 L206.6,295.0 L207.1,295.1 L207.6,295.1 L208.1,295.1 L208.6,295.1 L209.1,295.1 L209.6,295.1 L210.1,295.1 L210.6,295.1 L211.1,295.1 L211.6,295.1 L212.1,295.1 L212.6,295.1 L213.1,295.0 L213.6,294.6 L214.1,295.1 L214.6,295.1 L215.1,295.1 L215.6,295.1 L216.1,295.1 L216.6,295.1 L217.1,295.1 L217.6,295.1 L218.1,295.1 L218.6,295.1 L219.1,295.1 L219.6,295.1 L220.1,295.1 L220.6,295.1 L221.1,295.1 L221.6,295.1 L222.1,295.1 L222.6,295.1 L223.1,295.1 L223.6,295.1 L224.1,295.1 L224.6,295.1 L225.1,295.1 L225.6,295.1 L226.1,295.1 L226.6,295.1 L227.1,295.1 L227.6,295.1 L228.1,295.1 L228.6,295.1 L229.1,295.1 L229.6,295.1 L230.1,295.1 L230.6,295.1 L231.1,295.1 L231.6,295.1 L232.1,295.1 L232.6,295.1 L233.1,295.1 L233.6,295.1 L234.1,295.1 L234.6,295.1 L235.1,295.1 L235.6,294.9 L236.1,295.1 L236.6,295.1 L237.1,295.1 L237.6,295.1 L238.1,295.0 L238.6,295.1 L239.1,295.1 L239.6,295.1 L240.1,295.1 L240.6,295.1 L241.1,295.1 L241.6,295.1 L242.1,295.1 L242.6,295.1 L243.1,295.1 L243.6,295.1 L244.1,295.1 L244.6,295.1 L245.1,295.1 L245.6,295.1 L246.1,295.1 L246.6,294.8 L247.0,294.3 L247.1,294.3 L247.6,295.0 L248.1,295.1 L248.6,295.1 L249.1,295.1 L249.6,295.1 L250.1,295.1 L250.6,295.1 L251.1,295.1 L251.6,295.1 L252.1,295.1 L252.6,295.1 L253.1,295.1 L253.6,295.1 L254.1,295.1 L254.6,295.1 L255.1,295.1 L255.6,295.1 L256.1,295.1 L256.6,295.1 L257.1,295.1 L257.6,295.1 L258.1,295.1 L258.6,295.1 L259.1,295.1 L259.6,295.1 L260.1,295.1 L260.6,294.5 L261.1,295.1 L261.6,295.1 L262.1,295.1 L262.6,295.1 L263.1,295.1 L263.6,295.1 L264.1,295.1 L264.6,295.1 L265.1,295.1 L265.6,295.1 L266.1,295.1 L266.6,295.1 L267.1,295.1 L267.6,295.1 L268.1,295.1 L268.6,295.1 L269.1,295.1 L269.6,295.1 L270.1,295.1 L270.6,295.1 L271.1,295.1 L271.6,295.1 L272.1,295.1 L272.6,295.1 L273.1,295.1 L273.6,295.1 L274.1,295.1 L274.6,295.1 L275.1,295.1 L275.6,295.1 L276.1,295.1 L276.6,295.1 L277.1,295.1 L277.6,295.1 L278.1,295.1 L278.6,295.1 L279.1,295.1 L279.6,295.1 L280.1,295.1 L280.6,295.1 L281.1,294.9 L281.6,295.1 L282.1,295.1 L282.6,295.1 L283.1,295.1 L283.6,295.1 L284.1,295.1 L284.6,295.1 L285.1,295.1 L285.6,295.1 L286.1,295.1 L286.6,295.1 L287.1,295.1 L287.6,295.1 L288.1,295.1 L288.6,295.1 L289.1,295.1 L289.6,295.1 L290.1,295.1 L290.6,295.1 L291.1,295.1 L291.6,294.6 L292.0,294.5 L292.1,294.5 L292.6,295.0 L293.1,295.1 L293.6,295.1 L294.1,295.1 L294.6,294.5 L295.1,295.1 L295.6,295.1 L296.1,295.1 L296.6,295.1 L297.1,295.1 L297.6,295.1 L298.1,295.1 L298.6,295.1 L299.1,295.1 L299.6,295.1 L300.1,295.1 L300.6,295.1 L301.1,295.1 L301.6,295.1 L302.1,295.1 L302.6,295.1 L303.1,295.1 L303.6,295.1 L304.1,295.1 L304.6,295.1 L305.1,295.1 L305.6,295.1 L306.1,295.1 L306.6,295.1 L307.1,295.1 L307.6,295.1 L308.1,295.1 L308.6,295.1 L309.1,295.1 L309.6,295.1 L310.1,295.1 L310.6,295.1 L311.1,295.1 L311.6,295.1 L312.1,295.1 L312.6,295.1 L313.1,295.1 L313.6,295.1 L314.1,295.1 L314.6,295.1 L315.1,295.1 L315.6,295.1 L316.1,295.1 L316.6,295.1 L317.1,295.1 L317.6,295.1 L318.1,295.1 L318.6,295.1 L319.1,295.1 L319.6,295.1 L320.1,295.1 L320.6,295.1 L321.1,295.1 L321.6,295.1 L322.1,295.1 L322.6,295.1 L323.1,295.1 L323.6,295.1 L324.1,295.1 L324.6,295.1 L325.1,295.1 L325.6,295.1 L326.1,295.1 L326.6,295.1 L327.1,295.1 L327.6,295.1 L328.1,295.1 L328.6,295.1 L329.1,295.1 L329.6,295.1 L330.1,295.1 L330.6,295.1 L331.1,295.1 L331.6,295.1 L332.1,295.1 L332.6,295.1 L333.1,295.1 L333.6,295.1 L334.1,295.1 L334.6,295.1 L335.1,295.1 L335.6,295.1 L336.1,295.1 L336.6,295.1 L337.1,295.1 L337.6,295.1 L338.1,295.1 L338.6,295.1 L339.1,295.1 L339.6,295.1 L340.1,295.1 L340.6,295.1 L341.1,295.1 L341.6,295.1 L342.1,295.1 L342.6,294.9 L343.1,295.1 L343.6,295.1 L344.1,295.1 L344.6,295.1 L345.1,295.1 L345.6,295.1 L346.1,295.1 L346.6,295.1 L347.1,295.1 L347.6,295.1 L348.1,295.1 L348.6,295.1 L349.1,295.1 L349.6,295.1 L350.1,295.1 L350.6,295.1 L351.1,295.1 L351.6,295.1 L352.1,295.1 L352.6,295.1 L353.1,295.1 L353.6,295.1 L354.1,295.1 L354.6,295.1 L355.1,295.1 L355.6,295.1 L356.1,295.1 L356.6,295.1 L357.1,295.1 L357.6,295.1 L358.1,295.1 L358.6,295.1 L359.1,295.0 L359.6,295.1 L360.1,295.1 L360.6,295.1 L361.1,295.1 L361.6,295.1 L362.1,295.1 L362.6,295.1 L363.1,295.1 L363.6,295.1 L364.1,295.1 L364.6,295.1 L365.1,295.1 L365.6,295.1 L366.1,295.1 L366.6,295.1 L367.1,295.1 L367.6,295.1 L368.1,295.1 L368.6,295.1 L369.1,295.1 L369.6,295.1 L370.1,295.1 L370.6,295.1 L371.1,295.1 L371.6,295.1 L372.1,295.1 L372.6,295.1 L373.1,295.1 L373.6,295.1 L374.1,295.1 L374.6,295.1 L375.1,295.1 L375.6,295.1 L376.1,295.1 L376.6,295.1 L377.1,295.1 L377.6,295.1 L378.1,295.1 L378.6,295.1 L379.1,295.1 L379.6,295.1 L380.1,295.1 L380.6,295.1 L381.1,295.1 L381.6,295.1 L382.1,295.1 L382.6,295.1 L383.1,295.1 L383.6,295.1 L384.1,295.1 L384.6,295.1 L385.1,295.1 L385.6,295.1 L386.1,295.1 L386.6,295.1 L387.1,295.1 L387.6,295.1 L388.1,295.1 L388.6,295.1 L389.1,295.1 L389.6,295.1 L390.1,295.1 L390.6,295.1 L391.1,295.1 L391.6,295.0 L392.1,295.1 L392.6,295.1 L393.1,295.1 L393.6,295.1 L394.1,295.1 L394.6,295.1 L395.1,295.1 L395.6,295.1 L396.1,295.1 L396.6,295.1 L397.1,295.1 L397.6,295.1 L398.1,295.1 L398.6,295.1 L399.1,295.1 L399.6,295.1 L400.1,295.1 L400.6,295.1 L401.1,295.1 L401.6,295.1 L402.1,295.1 L402.6,295.1 L403.1,295.1 L403.6,295.1 L404.1,295.1 L404.6,295.1 L405.1,295.1 L405.6,295.1 L406.1,295.1 L406.6,295.1 L407.1,295.1 L407.6,295.1 L408.1,295.1 L408.6,295.1 L409.1,295.1 L409.6,294.5 L410.1,295.1 L410.6,295.1 L411.1,295.1 L411.6,295.1 L412.1,295.1 L412.6,295.1 L413.1,295.1 L413.6,295.1 L414.1,295.1 L414.6,295.1 L415.1,295.1 L415.6,295.1 L416.1,295.1 L416.6,295.1 L417.1,295.1 L417.6,295.1 L418.1,295.1 L418.6,295.1 L419.1,295.1 L419.6,295.1 L420.1,295.1 L420.6,295.1 L421.1,295.1 L421.6,295.1 L422.1,295.1 L422.6,295.1 L423.1,295.1 L423.6,295.1 L424.1,295.1 L424.6,295.1 L425.1,295.1 L425.6,295.1 L426.1,295.1 L426.6,295.1 L427.1,295.1 L427.6,295.1 L428.1,295.1 L428.6,295.1 L429.1,295.1 L429.6,295.1 L430.1,295.1 L430.6,295.1 L431.1,295.1 L431.6,295.1 L432.1,295.1 L432.6,295.1 L433.1,295.1 L433.6,295.1 L434.1,295.1 L434.6,295.1 L435.1,295.1 L435.6,295.1 L436.1,295.1 L436.6,295.1 L437.1,295.1 L437.6,295.1 L438.1,295.1 L438.6,295.1 L439.1,295.1 L439.6,295.1 L440.1,295.1 L440.6,295.1 L441.1,295.1 L441.6,295.1 L442.1,295.1 L442.6,295.1 L443.1,295.1 L443.6,295.1 L444.1,295.1 L444.6,295.1 L445.1,295.1 L445.6,295.1 L446.1,295.1 L446.6,295.1 L447.1,295.1 L447.6,295.1 L448.1,295.1 L448.6,295.1 L449.1,295.1 L449.6,295.1 L450.1,295.1 L450.6,295.1 L451.1,295.1 L451.6,295.1 L452.1,295.1 L452.6,295.1 L453.1,295.1 L453.6,295.1 L454.1,295.1 L454.6,295.1 L455.1,295.1 L455.6,295.1 L456.1,295.1 L456.6,295.1 L457.1,295.1 L457.6,295.1 L458.1,294.9 L458.6,295.1 L459.1,295.1 L459.6,295.1 L460.1,295.1 L460.6,295.1 L461.1,295.1 L461.6,295.1 L462.1,295.1 L462.6,295.1 L463.1,295.1 L463.6,295.1 L464.1,295.1 L464.6,295.1 L465.1,295.1 L465.6,295.1 L466.1,295.1 L466.6,295.1 L467.1,295.1 L467.6,295.1 L468.1,295.1 L468.6,295.1 L469.1,295.1 L469.6,295.1 L470.1,295.1 L470.6,295.1 L471.1,295.1 L471.6,295.1 L472.1,295.1 L472.6,294.2 L473.1,295.1 L473.6,295.1 L474.1,295.1 L474.6,295.1 L475.1,295.1 L475.6,295.1 L476.1,294.8 L476.6,295.1 L477.1,295.1 L477.6,295.1 L478.1,295.1 L478.6,295.1 L479.1,295.1 L479.6,295.1 L480.1,295.1 L480.6,295.1 L481.1,295.1 L481.6,295.1 L482.1,295.1 L482.6,295.1 L483.1,295.1 L483.6,295.1 L484.1,295.1 L484.6,295.1 L485.1,295.1 L485.6,295.1 L486.1,295.1 L486.6,295.1 L487.1,295.1 L487.6,295.1 L488.1,295.1 L488.6,295.1 L489.1,295.1 L489.6,295.1 L490.1,295.1 L490.6,295.1 L491.1,295.1 L491.6,295.1 L492.1,295.1 L492.6,295.1 L493.1,295.1 L493.6,295.1 L494.1,295.1 L494.6,295.1 L495.1,295.1 L495.6,295.1 L496.1,295.1 L496.6,295.1 L497.1,295.1 L497.6,295.1 L498.1,295.1 L498.6,295.1 L499.1,295.1 L499.6,295.1 L500.1,295.1 L500.6,295.1 L501.1,295.1 L501.6,295.1 L502.1,295.1 L502.6,295.1 L503.1,295.1 L503.6,295.1 L504.1,295.1 L504.6,295.1 L505.1,295.1 L505.6,295.1 L506.1,295.1 L506.6,295.1 L507.1,295.1 L507.6,295.1 L508.1,295.1 L508.6,295.1 L509.1,295.1 L509.6,295.1 L510.1,295.1 L510.6,295.1 L511.1,295.1 L511.6,295.1 L512.1,295.1 L512.6,295.1 L513.0,295.1Z" fill="#6a6abd"/>
<line x1="29.6" y1="295.10" x2="513.0" y2="295.10" stroke="#6a6abd" stroke-width="1.0"/>
<text x="31.70" y="314.50" font-size="8.45" textLength="64.36" lengthAdjust="spacingAndGlyphs" font-weight="bold" id="tr1" fill="#1f4e8c">AML1-ETO 5 Dox</text>
<path d="M29.6,319.4 L29.6,318.8 L30.1,319.4 L30.6,319.4 L31.1,319.2 L31.6,319.4 L32.1,318.5 L32.6,319.4 L33.1,319.4 L33.6,319.4 L34.1,317.6 L34.6,318.0 L35.1,319.4 L35.6,318.7 L36.1,319.4 L36.6,319.2 L37.1,319.4 L37.6,318.4 L38.1,318.6 L38.6,319.1 L39.1,319.4 L39.6,319.3 L40.1,319.2 L40.6,319.3 L41.1,318.2 L41.6,319.4 L42.1,319.4 L42.6,318.7 L43.1,319.1 L43.6,319.4 L44.1,318.5 L44.6,319.4 L45.1,319.4 L45.6,319.4 L46.1,317.2 L46.6,319.4 L47.1,318.7 L47.6,317.3 L48.1,319.4 L48.6,318.7 L49.1,319.3 L49.6,319.4 L50.1,318.6 L50.6,318.9 L51.1,319.4 L51.6,319.4 L52.1,319.4 L52.6,319.4 L53.1,319.3 L53.6,319.4 L54.1,319.1 L54.6,319.4 L55.1,319.3 L55.6,319.4 L56.1,319.4 L56.6,319.3 L57.1,319.3 L57.6,319.4 L58.1,319.4 L58.6,319.0 L59.1,319.3 L59.6,319.4 L60.1,319.3 L60.6,318.9 L61.1,319.4 L61.6,319.4 L62.1,319.3 L62.6,318.9 L63.1,319.4 L63.6,318.9 L64.1,318.2 L64.6,319.4 L65.1,318.3 L65.6,319.1 L66.1,319.3 L66.6,318.7 L67.1,319.0 L67.6,319.4 L68.1,319.3 L68.6,319.4 L69.1,318.9 L69.6,319.4 L70.1,319.2 L70.6,319.4 L71.1,319.4 L71.6,319.4 L72.1,319.4 L72.6,318.6 L73.1,319.4 L73.6,318.8 L74.1,319.3 L74.6,319.3 L75.1,319.2 L75.6,319.4 L76.1,319.4 L76.6,319.4 L77.1,319.4 L77.6,319.0 L78.1,318.7 L78.6,319.3 L79.1,319.4 L79.6,319.4 L80.1,318.4 L80.6,319.3 L81.1,318.8 L81.6,319.4 L82.1,319.4 L82.6,318.4 L83.1,319.3 L83.6,319.4 L84.1,319.4 L84.6,319.4 L85.1,319.4 L85.6,319.4 L86.1,318.6 L86.6,319.4 L87.1,319.4 L87.6,318.8 L88.1,319.4 L88.6,319.3 L89.1,319.4 L89.6,318.3 L90.1,319.4 L90.6,318.2 L91.1,319.3 L91.6,319.4 L92.1,319.4 L92.6,319.4 L93.1,319.4 L93.6,319.4 L94.1,319.0 L94.6,318.6 L95.1,319.4 L95.6,319.4 L96.1,318.5 L96.6,319.4 L97.1,319.4 L97.6,319.3 L98.1,319.4 L98.6,319.4 L99.1,319.4 L99.6,319.4 L100.1,319.4 L100.6,319.4 L101.1,319.4 L101.6,318.8 L102.1,319.2 L102.6,319.4 L103.1,319.3 L103.6,319.4 L104.1,319.2 L104.6,319.4 L105.1,318.5 L105.6,319.4 L106.1,319.2 L106.6,318.7 L107.1,318.9 L107.6,319.3 L108.1,319.4 L108.6,318.6 L109.1,319.4 L109.6,318.8 L110.1,319.4 L110.6,319.1 L111.1,318.7 L111.6,319.1 L112.1,318.6 L112.6,318.1 L113.1,319.3 L113.6,319.4 L114.1,319.3 L114.6,319.4 L115.1,318.7 L115.6,319.4 L116.1,319.4 L116.6,319.4 L117.1,319.2 L117.6,318.4 L118.1,318.4 L118.6,319.3 L119.1,318.4 L119.6,319.2 L120.1,319.4 L120.6,319.1 L121.1,318.8 L121.6,319.4 L122.1,319.4 L122.6,319.2 L123.1,318.6 L123.6,319.4 L124.1,319.4 L124.6,319.1 L125.1,319.4 L125.6,319.4 L126.1,319.1 L126.6,319.4 L127.1,319.3 L127.6,318.9 L128.1,319.4 L128.6,319.3 L129.1,319.2 L129.6,319.3 L130.1,319.3 L130.6,319.4 L131.1,319.4 L131.6,317.9 L132.1,319.2 L132.6,319.4 L133.1,319.4 L133.6,319.4 L134.1,319.3 L134.6,319.4 L135.1,319.3 L135.6,319.4 L136.1,318.7 L136.6,318.9 L137.0,317.9 L137.1,318.4 L137.6,319.2 L138.1,318.8 L138.6,319.4 L139.1,319.0 L139.6,319.4 L140.1,319.3 L140.6,319.4 L141.1,319.4 L141.6,319.4 L142.1,319.4 L142.6,319.4 L143.1,319.4 L143.6,319.4 L144.1,319.2 L144.6,319.4 L145.1,319.2 L145.6,319.4 L146.1,319.4 L146.6,319.4 L147.1,319.2 L147.6,319.0 L148.1,318.9 L148.6,319.4 L149.1,318.9 L149.6,319.4 L150.1,319.1 L150.6,319.4 L151.1,319.0 L151.6,318.7 L152.1,319.4 L152.6,319.4 L153.1,319.4 L153.6,318.8 L154.1,318.9 L154.6,319.4 L155.1,319.2 L155.6,319.4 L156.1,318.9 L156.6,318.8 L157.1,317.5 L157.6,319.4 L158.1,319.2 L158.6,319.2 L159.1,318.9 L159.6,319.3 L160.1,318.8 L160.6,319.4 L161.1,319.3 L161.6,319.4 L162.1,319.3 L162.6,318.7 L163.1,319.4 L163.6,319.4 L164.1,318.9 L164.6,317.3 L165.1,315.2 L165.4,313.4 L165.6,313.8 L166.1,316.8 L166.6,318.5 L167.1,319.1 L167.6,318.5 L168.1,319.2 L168.6,319.1 L169.1,319.4 L169.6,319.4 L170.1,319.3 L170.6,319.1 L171.1,318.9 L171.6,319.4 L172.1,318.2 L172.6,319.4 L173.1,318.6 L173.6,319.4 L174.1,319.4 L174.6,318.6 L175.1,319.4 L175.6,319.4 L176.1,319.4 L176.6,319.4 L177.1,319.4 L177.6,319.3 L178.1,319.4 L178.6,319.3 L179.1,319.4 L179.6,319.4 L180.1,318.4 L180.6,319.4 L181.1,319.4 L181.6,319.4 L182.1,319.4 L182.6,319.4 L183.1,319.4 L183.6,318.9 L184.1,318.8 L184.6,318.4 L185.1,319.4 L185.6,319.3 L186.1,319.1 L186.6,319.1 L187.1,319.1 L187.6,319.1 L188.1,319.4 L188.6,318.6 L189.1,319.0 L189.6,319.4 L190.1,319.4 L190.6,319.2 L191.1,319.4 L191.6,318.9 L192.1,319.4 L192.6,319.0 L193.1,319.4 L193.6,319.4 L194.1,317.6 L194.6,319.1 L195.1,319.4 L195.6,318.8 L196.1,319.4 L196.6,318.5 L197.1,319.1 L197.6,318.7 L198.1,319.1 L198.6,319.0 L199.1,319.4 L199.6,318.6 L200.1,319.1 L200.6,319.1 L201.1,319.4 L201.6,319.4 L202.1,319.4 L202.6,319.2 L203.1,319.0 L203.6,319.4 L204.1,319.4 L204.6,318.8 L205.1,319.3 L205.6,318.5 L206.0,317.8 L206.1,316.7 L206.6,319.0 L207.1,319.4 L207.6,319.4 L208.1,319.4 L208.6,319.4 L209.1,319.4 L209.6,319.4 L210.1,319.4 L210.6,319.4 L211.1,319.4 L211.6,318.9 L212.1,318.8 L212.6,319.3 L213.1,318.7 L213.6,319.4 L214.1,319.4 L214.6,318.6 L215.1,319.4 L215.6,319.4 L216.1,319.2 L216.6,319.2 L217.1,318.9 L217.6,319.4 L218.1,319.0 L218.6,319.3 L219.1,319.4 L219.6,319.4 L220.1,319.4 L220.6,319.4 L221.1,319.0 L221.6,319.4 L222.1,319.4 L222.6,319.2 L223.1,318.9 L223.6,319.3 L224.1,319.4 L224.6,319.4 L225.1,317.9 L225.6,318.5 L226.1,319.4 L226.6,319.4 L227.1,318.8 L227.6,319.4 L228.1,319.4 L228.6,319.4 L229.1,319.4 L229.6,319.4 L230.1,319.0 L230.6,319.4 L231.1,318.2 L231.6,317.9 L232.1,319.4 L232.6,319.4 L233.1,319.4 L233.6,319.4 L234.1,319.2 L234.6,319.4 L235.1,318.5 L235.6,319.4 L236.1,319.0 L236.6,318.9 L237.1,318.7 L237.6,318.9 L238.1,319.4 L238.6,319.2 L239.1,319.4 L239.6,319.4 L240.1,319.4 L240.6,319.4 L241.1,319.4 L241.6,319.4 L242.1,319.4 L242.6,319.4 L243.1,319.0 L243.6,319.4 L244.1,319.4 L244.6,319.4 L245.1,319.1 L245.6,319.4 L246.1,318.8 L246.6,318.8 L247.0,318.4 L247.1,318.4 L247.6,319.0 L248.1,319.1 L248.6,319.4 L249.1,319.4 L249.6,319.4 L250.1,318.6 L250.6,319.4 L251.1,319.4 L251.6,319.4 L252.1,318.5 L252.6,319.4 L253.1,319.4 L253.6,319.4 L254.1,319.4 L254.6,319.4 L255.1,319.4 L255.6,318.8 L256.1,319.4 L256.6,319.0 L257.1,319.4 L257.6,319.3 L258.1,318.8 L258.6,319.4 L259.1,319.4 L259.6,319.4 L260.1,319.4 L260.6,319.0 L261.1,319.4 L261.6,319.4 L262.1,319.1 L262.6,319.4 L263.1,319.3 L263.6,318.9 L264.1,319.0 L264.6,319.1 L265.1,319.4 L265.6,319.4 L266.1,319.3 L266.6,319.4 L267.1,319.4 L267.6,319.0 L268.1,319.1 L268.6,319.4 L269.1,319.4 L269.6,319.4 L270.1,319.0 L270.6,318.7 L271.1,318.1 L271.6,319.4 L272.1,319.4 L272.6,319.4 L273.1,319.4 L273.6,319.3 L274.1,319.4 L274.6,319.4 L275.1,319.4 L275.6,318.1 L276.1,319.4 L276.6,319.0 L277.1,319.3 L277.6,319.4 L278.1,319.0 L278.6,319.4 L279.1,319.4 L279.6,319.4 L280.1,319.1 L280.6,317.9 L281.1,319.4 L281.6,319.4 L282.1,319.2 L282.6,319.4 L283.1,319.4 L283.6,319.4 L284.1,318.7 L284.6,319.4 L285.1,319.4 L285.6,319.4 L286.1,319.3 L286.6,319.4 L287.1,319.4 L287.6,319.4 L288.1,319.0 L288.6,319.4 L289.1,319.2 L289.6,319.3 L290.1,319.3 L290.6,319.3 L291.1,319.4 L291.6,318.8 L292.1,319.4 L292.6,319.4 L293.1,318.2 L293.6,319.4 L294.1,319.4 L294.6,319.1 L295.1,318.2 L295.6,319.4 L296.1,319.4 L296.6,319.2 L297.1,319.3 L297.6,317.7 L298.1,306.3 L298.4,298.7 L298.6,299.7 L299.1,305.6 L299.2,307.9 L299.6,313.3 L300.1,316.4 L300.6,317.4 L301.1,318.0 L301.6,318.7 L302.1,317.3 L302.6,318.2 L303.1,319.0 L303.6,318.3 L304.1,318.1 L304.3,318.0 L304.6,318.3 L305.1,318.8 L305.6,319.2 L306.1,319.2 L306.6,319.4 L307.1,318.8 L307.6,317.7 L308.1,318.7 L308.6,319.3 L309.1,318.6 L309.6,319.3 L310.1,318.3 L310.6,319.0 L311.1,319.3 L311.6,319.4 L312.1,319.4 L312.6,319.4 L313.1,319.0 L313.6,319.2 L314.1,318.8 L314.6,319.0 L315.1,318.7 L315.6,318.5 L316.0,318.4 L316.1,318.4 L316.6,318.0 L317.1,318.1 L317.6,318.2 L318.1,319.3 L318.6,319.3 L319.1,319.4 L319.6,318.5 L320.1,319.3 L320.6,319.4 L321.1,319.3 L321.6,319.0 L322.1,319.1 L322.6,319.1 L323.1,318.8 L323.6,319.4 L324.1,319.4 L324.6,318.8 L325.1,318.8 L325.6,318.5 L326.1,319.4 L326.6,319.1 L327.1,319.1 L327.6,317.9 L328.1,319.3 L328.6,319.3 L329.1,319.4 L329.6,319.4 L330.1,319.4 L330.6,319.4 L331.1,319.4 L331.6,319.4 L332.1,318.9 L332.6,318.5 L333.1,319.4 L333.6,319.3 L334.1,319.1 L334.6,319.3 L335.1,319.3 L335.6,319.4 L336.1,319.4 L336.6,319.0 L337.1,319.4 L337.6,318.6 L338.1,319.4 L338.6,319.2 L339.1,319.4 L339.6,319.2 L340.1,319.4 L340.6,319.4 L341.1,319.3 L341.6,319.1 L342.1,319.4 L342.6,319.4 L343.1,319.4 L343.6,319.4 L344.1,319.4 L344.6,319.1 L345.1,319.4 L345.6,319.4 L346.1,319.2 L346.6,319.4 L347.1,319.1 L347.6,319.1 L348.1,319.4 L348.6,317.8 L349.1,319.4 L349.6,319.4 L350.1,319.4 L350.6,319.4 L351.1,319.4 L351.6,319.4 L352.1,318.9 L352.6,318.9 L353.1,319.0 L353.6,319.4 L354.1,319.4 L354.6,319.1 L355.1,318.0 L355.6,319.2 L356.1,319.4 L356.6,319.0 L357.1,319.4 L357.6,319.3 L358.1,319.1 L358.6,319.3 L359.1,319.2 L359.6,319.2 L360.1,319.4 L360.6,318.6 L361.1,319.4 L361.6,319.4 L362.1,319.4 L362.6,318.8 L363.1,319.0 L363.6,319.4 L364.1,319.2 L364.6,319.3 L365.1,319.2 L365.6,319.4 L366.1,319.2 L366.6,319.4 L367.1,319.0 L367.6,319.2 L368.1,319.4 L368.6,318.7 L369.1,319.4 L369.6,319.4 L370.1,319.4 L370.6,319.1 L371.1,319.4 L371.6,319.3 L372.1,319.4 L372.6,319.4 L373.1,319.2 L373.6,318.9 L374.1,319.4 L374.6,319.4 L375.1,319.4 L375.6,318.8 L376.1,319.4 L376.6,319.4 L377.1,318.7 L377.6,319.4 L378.1,319.4 L378.6,318.5 L379.1,318.7 L379.6,319.4 L380.1,317.9 L380.6,319.4 L381.1,318.7 L381.6,319.4 L382.1,319.4 L382.6,319.1 L383.1,318.8 L383.6,319.2 L384.1,319.4 L384.6,319.2 L385.1,319.4 L385.6,319.4 L386.1,319.1 L386.6,319.2 L387.1,319.0 L387.6,319.4 L388.1,318.3 L388.6,318.6 L389.1,319.4 L389.6,319.4 L390.1,319.1 L390.6,319.4 L391.1,319.4 L391.6,319.4 L392.1,318.3 L392.6,319.4 L393.1,316.5 L393.6,319.1 L394.1,319.4 L394.6,319.2 L395.1,319.4 L395.6,318.1 L396.1,319.4 L396.6,319.4 L397.1,319.2 L397.6,319.4 L398.1,319.4 L398.6,319.4 L399.1,319.4 L399.6,319.1 L400.1,319.4 L400.6,319.4 L401.1,319.1 L401.6,319.4 L402.1,319.2 L402.6,319.4 L403.1,319.4 L403.6,319.3 L404.1,319.4 L404.6,319.4 L405.1,319.4 L405.6,319.4 L406.1,319.4 L406.6,319.3 L407.1,319.1 L407.6,319.3 L408.1,319.0 L408.6,319.4 L409.1,317.1 L409.6,319.4 L410.1,319.2 L410.6,319.4 L411.1,318.9 L411.6,319.2 L412.1,319.4 L412.6,319.4 L413.1,319.4 L413.6,319.1 L414.1,319.4 L414.6,318.9 L415.1,316.8 L415.6,319.4 L416.1,319.3 L416.6,318.8 L417.1,319.4 L417.6,319.1 L418.1,319.4 L418.6,319.4 L419.1,319.4 L419.6,319.4 L420.1,319.4 L420.6,318.8 L421.1,319.3 L421.6,319.4 L422.1,319.4 L422.6,319.4 L423.1,319.1 L423.6,319.4 L424.1,319.4 L424.6,319.4 L425.1,319.4 L425.6,319.0 L426.1,319.4 L426.6,319.4 L427.1,319.4 L427.6,318.4 L428.1,319.4 L428.6,319.0 L429.1,319.4 L429.6,318.1 L430.1,319.2 L430.6,319.4 L431.1,319.2 L431.6,319.4 L432.1,318.7 L432.6,319.3 L433.1,319.3 L433.6,319.4 L434.1,319.0 L434.6,319.1 L435.1,319.2 L435.6,319.3 L436.1,319.4 L436.6,319.3 L437.1,319.2 L437.6,319.4 L438.1,319.4 L438.6,319.3 L439.1,319.4 L439.6,319.3 L440.1,319.4 L440.6,319.1 L441.1,319.4 L441.6,319.4 L442.1,319.2 L442.6,319.4 L443.1,318.0 L443.6,318.0 L444.1,319.3 L444.6,319.3 L445.1,319.4 L445.6,318.4 L446.1,319.4 L446.6,319.3 L447.1,319.4 L447.6,318.5 L448.1,319.1 L448.6,319.3 L449.1,319.4 L449.6,318.9 L450.1,319.4 L450.6,319.2 L451.1,319.3 L451.6,319.4 L452.1,318.9 L452.6,319.0 L453.1,319.1 L453.6,319.4 L454.1,319.3 L454.6,318.8 L455.1,319.2 L455.6,319.4 L456.1,319.4 L456.6,319.4 L457.1,319.4 L457.6,319.3 L458.1,318.9 L458.6,319.4 L459.1,319.2 L459.6,319.4 L460.1,319.4 L460.6,318.6 L461.1,319.0 L461.6,319.3 L462.1,319.4 L462.6,319.4 L463.1,319.4 L463.6,319.4 L464.1,319.3 L464.6,319.2 L465.1,319.2 L465.6,319.4 L466.1,318.6 L466.6,319.4 L467.1,319.4 L467.6,319.1 L468.1,319.4 L468.6,319.4 L469.1,319.4 L469.6,319.4 L470.1,319.4 L470.6,319.4 L471.1,319.4 L471.6,319.3 L472.1,318.7 L472.6,318.3 L473.1,319.4 L473.6,318.9 L474.1,318.8 L474.6,319.4 L475.1,319.4 L475.6,319.4 L476.1,318.2 L476.6,319.4 L477.1,319.4 L477.6,319.4 L478.1,319.4 L478.6,319.4 L479.1,319.4 L479.6,319.1 L480.1,319.4 L480.6,318.8 L481.1,318.9 L481.6,319.4 L482.1,319.0 L482.6,319.4 L483.1,319.4 L483.6,319.3 L484.1,319.2 L484.6,319.3 L485.1,319.3 L485.6,319.4 L486.1,319.4 L486.6,319.3 L487.1,319.1 L487.6,319.4 L488.1,319.2 L488.6,319.4 L489.1,319.0 L489.6,318.6 L490.1,318.8 L490.6,318.9 L491.1,319.4 L491.6,318.7 L492.1,319.4 L492.6,319.2 L493.1,319.3 L493.6,319.3 L494.1,318.9 L494.6,319.3 L495.1,319.1 L495.6,319.3 L496.1,319.4 L496.6,319.4 L497.1,319.4 L497.6,318.8 L498.1,319.4 L498.6,319.4 L499.1,319.1 L499.6,319.3 L500.1,319.4 L500.6,319.4 L501.1,319.4 L501.6,319.4 L502.1,319.4 L502.6,319.4 L503.1,319.3 L503.6,319.4 L504.1,319.4 L504.6,319.4 L505.1,319.3 L505.6,319.4 L506.1,319.4 L506.6,319.4 L507.1,318.7 L507.6,319.4 L508.1,319.4 L508.6,319.3 L509.1,319.4 L509.6,319.2 L510.1,319.4 L510.6,318.6 L511.1,319.4 L511.6,319.4 L512.1,319.4 L512.6,319.4 L513.0,319.4Z" fill="#1c1c86"/>
<line x1="29.6" y1="319.40" x2="513.0" y2="319.40" stroke="#1c1c86" stroke-width="1.0"/>
<text x="31.70" y="339.00" font-size="8.45" textLength="46.06" lengthAdjust="spacingAndGlyphs" font-weight="bold" id="tr2" fill="#cc1440">AML1 0 Dox</text>
<path d="M29.6,343.9 L29.6,342.5 L30.1,343.9 L30.6,343.5 L31.1,343.7 L31.6,343.8 L32.1,343.8 L32.6,341.8 L33.1,343.9 L33.6,343.8 L34.1,343.9 L34.6,342.7 L35.1,343.6 L35.6,343.2 L36.1,343.6 L36.6,343.6 L37.1,342.9 L37.6,343.9 L38.1,343.7 L38.6,343.4 L39.1,343.8 L39.6,343.7 L40.1,341.8 L40.6,343.9 L41.1,341.7 L41.6,343.9 L42.1,342.9 L42.6,343.2 L43.1,343.7 L43.6,342.1 L44.1,343.3 L44.6,343.6 L45.1,343.9 L45.6,343.2 L46.1,343.8 L46.6,343.6 L47.1,343.6 L47.6,343.4 L48.1,343.8 L48.6,342.6 L49.1,343.8 L49.6,343.7 L50.1,343.4 L50.6,343.5 L51.1,343.7 L51.6,343.8 L52.1,343.4 L52.6,343.6 L53.1,343.6 L53.6,343.4 L54.1,343.1 L54.6,341.1 L55.1,343.8 L55.6,343.6 L56.1,342.0 L56.6,343.0 L57.1,343.0 L57.6,343.7 L58.1,343.9 L58.6,343.8 L59.1,343.2 L59.6,342.6 L60.1,342.7 L60.6,342.4 L61.1,343.8 L61.6,343.6 L62.1,343.2 L62.6,343.8 L63.1,343.1 L63.6,343.9 L64.1,343.9 L64.6,343.8 L65.1,342.9 L65.6,342.3 L66.1,343.7 L66.6,343.5 L67.1,343.4 L67.6,343.9 L68.1,342.9 L68.6,343.4 L69.1,343.2 L69.6,343.8 L70.1,343.4 L70.6,342.9 L71.1,343.9 L71.6,343.6 L72.1,343.5 L72.6,342.9 L73.1,343.8 L73.6,343.2 L74.1,343.5 L74.6,342.8 L75.1,342.7 L75.6,343.9 L76.1,343.8 L76.6,343.4 L77.1,343.8 L77.6,343.5 L78.1,343.6 L78.6,343.9 L79.1,343.7 L79.6,343.5 L80.1,343.9 L80.6,343.8 L81.1,343.7 L81.6,343.5 L82.1,343.4 L82.6,342.0 L83.1,343.9 L83.6,343.4 L84.1,342.7 L84.6,343.3 L85.1,343.6 L85.6,342.9 L86.1,342.2 L86.6,343.7 L87.1,343.1 L87.6,343.3 L88.1,343.4 L88.6,343.9 L89.1,343.7 L89.6,343.9 L90.1,343.6 L90.6,343.7 L91.1,343.8 L91.6,342.7 L92.1,343.5 L92.6,343.7 L93.1,343.9 L93.6,343.7 L94.1,343.4 L94.6,343.9 L95.1,342.4 L95.6,343.8 L96.1,343.4 L96.6,343.9 L97.1,343.0 L97.6,342.7 L98.1,343.5 L98.6,343.7 L99.1,343.9 L99.6,343.7 L100.1,343.8 L100.6,343.8 L101.1,342.7 L101.6,343.8 L102.1,341.9 L102.6,343.9 L103.1,342.6 L103.6,343.8 L104.1,343.4 L104.6,343.3 L105.1,343.9 L105.6,343.7 L106.1,343.3 L106.6,343.2 L107.1,343.9 L107.6,343.9 L108.1,343.7 L108.6,343.4 L109.1,343.5 L109.6,342.3 L110.1,341.3 L110.6,343.3 L111.1,343.7 L111.6,343.8 L112.1,343.0 L112.6,342.9 L113.1,343.4 L113.6,343.4 L114.1,343.3 L114.6,343.1 L115.1,343.2 L115.6,343.0 L116.1,343.0 L116.6,343.9 L117.1,343.7 L117.6,342.2 L118.1,343.9 L118.6,343.3 L119.1,343.6 L119.6,343.9 L120.1,343.1 L120.6,343.9 L121.1,343.9 L121.6,343.4 L122.1,342.2 L122.6,343.8 L123.1,343.1 L123.6,343.9 L124.1,343.9 L124.6,343.7 L125.1,343.9 L125.6,343.3 L126.1,342.9 L126.6,343.7 L127.1,343.9 L127.6,343.1 L128.1,343.3 L128.6,342.7 L129.1,343.4 L129.6,342.4 L130.1,343.9 L130.6,343.7 L131.1,343.7 L131.6,343.7 L132.1,343.0 L132.6,343.7 L133.1,343.9 L133.6,343.4 L134.1,342.7 L134.6,343.7 L135.1,342.9 L135.6,343.7 L136.1,342.6 L136.6,343.2 L137.1,343.5 L137.6,342.6 L138.1,342.6 L138.6,343.0 L139.1,343.8 L139.6,340.7 L140.1,343.9 L140.6,341.7 L141.1,342.4 L141.6,343.1 L142.1,343.8 L142.6,343.8 L143.1,342.4 L143.6,342.6 L144.1,343.9 L144.6,343.7 L145.1,343.2 L145.6,343.5 L146.1,343.6 L146.6,343.9 L147.1,343.9 L147.6,342.6 L148.1,343.5 L148.6,343.6 L149.1,343.2 L149.6,343.1 L150.1,343.8 L150.6,343.5 L151.1,343.9 L151.6,343.8 L152.1,343.9 L152.6,343.1 L153.1,343.8 L153.6,343.9 L154.1,343.5 L154.6,343.4 L155.1,343.9 L155.6,343.3 L156.1,343.4 L156.6,341.5 L157.1,343.1 L157.6,343.7 L158.1,341.7 L158.6,343.6 L159.1,343.8 L159.6,343.9 L160.1,343.3 L160.6,343.9 L161.1,343.3 L161.6,343.7 L162.1,343.8 L162.6,343.0 L163.1,343.9 L163.6,343.2 L164.1,343.3 L164.6,343.4 L165.1,339.0 L165.4,333.3 L165.6,334.9 L165.8,335.0 L166.1,340.7 L166.6,342.6 L167.1,343.2 L167.6,343.3 L168.1,343.7 L168.6,343.4 L169.1,343.3 L169.6,342.5 L170.1,343.1 L170.6,343.5 L171.1,343.8 L171.6,343.9 L172.1,343.5 L172.6,342.9 L173.1,343.8 L173.6,343.5 L174.1,342.8 L174.6,342.7 L175.1,343.6 L175.6,342.9 L176.1,343.8 L176.6,343.8 L177.1,342.9 L177.6,343.5 L178.1,343.6 L178.6,343.9 L179.1,343.5 L179.6,342.9 L180.1,343.8 L180.6,343.6 L181.1,343.7 L181.6,343.7 L182.1,343.9 L182.6,343.4 L183.1,343.8 L183.6,343.7 L184.1,343.7 L184.6,343.8 L185.1,342.7 L185.6,343.6 L186.1,343.3 L186.6,343.9 L187.1,343.6 L187.6,343.7 L188.1,343.3 L188.6,343.6 L189.1,343.4 L189.6,343.9 L190.1,341.8 L190.6,343.6 L191.1,343.7 L191.6,343.1 L192.1,343.5 L192.6,342.5 L193.1,343.9 L193.6,343.5 L194.1,342.8 L194.6,343.5 L195.1,343.6 L195.6,343.5 L196.1,343.2 L196.6,343.6 L197.1,343.2 L197.6,343.0 L198.1,343.8 L198.6,343.9 L199.1,343.8 L199.6,343.1 L200.1,343.9 L200.6,343.2 L201.1,343.9 L201.6,343.6 L202.1,340.1 L202.6,342.7 L203.1,343.7 L203.6,343.9 L204.1,343.9 L204.6,343.7 L205.1,343.7 L205.6,343.4 L206.1,343.6 L206.6,343.7 L207.1,342.9 L207.6,343.7 L208.1,343.9 L208.6,343.6 L209.1,343.5 L209.6,343.6 L210.1,343.8 L210.6,343.9 L211.1,343.9 L211.6,343.4 L212.1,343.4 L212.6,343.7 L213.1,343.7 L213.6,342.9 L214.1,343.5 L214.6,343.9 L215.1,342.6 L215.6,343.6 L216.1,343.9 L216.6,343.9 L217.1,343.8 L217.6,343.9 L218.1,342.9 L218.6,343.2 L219.1,343.7 L219.6,342.8 L220.1,342.4 L220.6,343.8 L221.1,343.0 L221.6,343.9 L222.1,343.3 L222.6,342.5 L223.1,343.8 L223.6,343.2 L224.1,342.8 L224.6,343.7 L225.1,343.7 L225.6,343.8 L226.1,343.9 L226.6,342.8 L227.1,342.9 L227.6,343.9 L228.1,343.9 L228.6,343.3 L229.1,343.4 L229.6,343.5 L230.1,343.6 L230.6,343.8 L231.1,343.8 L231.6,343.9 L232.1,343.9 L232.6,343.9 L233.1,343.7 L233.6,343.1 L234.1,342.3 L234.6,343.5 L235.1,343.4 L235.6,343.8 L236.1,342.5 L236.6,339.4 L237.1,341.1 L237.6,343.3 L238.1,343.9 L238.6,342.2 L239.1,343.9 L239.6,343.5 L240.1,343.1 L240.6,343.0 L241.1,343.9 L241.6,343.8 L242.1,343.0 L242.6,343.5 L243.1,343.5 L243.6,343.3 L244.1,343.4 L244.6,343.6 L245.1,343.8 L245.6,342.2 L246.1,342.8 L246.6,343.5 L247.1,343.8 L247.6,343.8 L248.1,343.4 L248.6,343.5 L249.1,343.4 L249.6,343.6 L250.1,343.6 L250.6,343.8 L251.1,342.7 L251.6,342.6 L252.1,342.2 L252.6,343.0 L253.1,343.2 L253.6,343.1 L254.1,343.7 L254.6,343.6 L255.1,343.7 L255.6,343.8 L256.1,343.7 L256.6,343.0 L257.1,343.9 L257.6,343.4 L258.1,343.9 L258.6,343.3 L259.1,342.9 L259.6,342.9 L260.1,342.4 L260.6,342.2 L261.1,343.6 L261.6,343.7 L262.1,343.2 L262.6,343.6 L263.1,343.8 L263.6,343.7 L264.1,343.9 L264.6,343.3 L265.0,342.3 L265.1,341.8 L265.6,343.6 L266.1,343.3 L266.6,343.3 L267.1,343.0 L267.6,343.1 L268.1,343.8 L268.6,343.9 L269.1,343.1 L269.6,342.8 L270.1,343.9 L270.6,343.9 L271.1,342.8 L271.6,343.4 L272.1,342.9 L272.6,342.7 L273.1,342.0 L273.6,342.1 L274.1,341.8 L274.6,343.7 L275.1,343.7 L275.6,343.5 L276.1,343.5 L276.6,343.9 L277.1,343.2 L277.6,343.0 L278.1,343.2 L278.6,343.9 L279.1,343.6 L279.6,343.3 L280.1,343.7 L280.6,342.8 L281.1,343.9 L281.6,343.9 L282.1,342.9 L282.6,343.3 L283.1,343.7 L283.6,343.6 L284.1,343.3 L284.6,343.8 L285.1,343.2 L285.6,343.3 L286.1,343.8 L286.6,343.9 L287.1,343.8 L287.6,342.0 L288.1,343.7 L288.6,343.3 L289.1,343.6 L289.6,342.0 L290.1,341.2 L290.6,342.8 L291.1,343.5 L291.6,343.8 L292.1,343.9 L292.6,342.9 L293.1,343.6 L293.6,343.4 L294.1,343.5 L294.6,342.3 L295.1,343.2 L295.6,343.3 L296.1,342.0 L296.6,343.2 L297.1,343.5 L297.6,342.3 L298.1,341.1 L298.4,340.2 L298.6,340.6 L299.1,340.4 L299.6,342.2 L300.1,342.6 L300.6,343.0 L301.1,343.9 L301.6,343.8 L302.1,343.9 L302.6,343.8 L303.1,343.4 L303.6,343.6 L304.1,343.3 L304.6,343.0 L305.1,343.0 L305.6,339.7 L305.7,340.9 L306.1,342.6 L306.6,343.8 L307.1,343.2 L307.6,343.8 L308.1,342.9 L308.6,343.6 L309.1,343.5 L309.6,343.8 L310.1,343.8 L310.6,343.9 L311.1,343.6 L311.6,343.9 L312.1,343.9 L312.6,343.7 L313.1,343.8 L313.6,342.9 L314.0,342.4 L314.1,342.3 L314.6,341.6 L315.1,343.8 L315.6,343.9 L316.1,342.8 L316.6,343.0 L317.1,343.8 L317.6,343.5 L318.1,343.2 L318.6,343.7 L319.1,342.4 L319.6,343.7 L320.1,343.7 L320.6,343.9 L321.1,343.4 L321.6,342.2 L322.1,343.7 L322.6,343.4 L323.1,343.2 L323.6,342.9 L324.1,343.7 L324.6,341.8 L325.1,343.2 L325.6,343.6 L326.1,343.9 L326.6,343.6 L327.1,342.9 L327.6,343.8 L328.1,343.4 L328.6,343.2 L329.1,343.9 L329.6,343.7 L330.1,343.6 L330.6,342.8 L331.1,343.4 L331.6,343.4 L332.1,342.8 L332.6,342.8 L333.1,343.2 L333.6,343.5 L334.1,342.5 L334.6,342.9 L335.1,342.6 L335.6,343.0 L336.1,335.3 L336.3,332.7 L336.6,335.7 L337.1,343.3 L337.6,343.8 L338.1,341.7 L338.6,343.6 L339.1,343.9 L339.6,343.7 L340.1,343.3 L340.6,343.7 L341.1,343.5 L341.6,342.9 L342.1,342.8 L342.6,343.7 L343.1,343.7 L343.6,343.4 L344.1,343.0 L344.6,342.8 L345.1,343.4 L345.6,343.0 L346.1,343.5 L346.6,343.9 L347.1,343.1 L347.6,343.6 L348.1,343.4 L348.6,342.7 L349.1,343.9 L349.6,341.9 L350.1,341.3 L350.6,343.5 L351.1,343.5 L351.6,343.2 L352.1,343.6 L352.6,343.6 L353.1,343.8 L353.6,343.5 L354.1,343.8 L354.6,343.8 L355.1,343.4 L355.6,341.7 L356.1,342.1 L356.6,343.9 L357.1,343.1 L357.6,343.8 L358.1,342.7 L358.6,343.3 L359.1,343.6 L359.6,343.3 L360.1,343.9 L360.6,343.9 L361.1,343.6 L361.6,342.9 L362.1,343.8 L362.6,343.8 L363.1,343.5 L363.6,343.9 L364.1,343.9 L364.6,343.5 L365.1,343.8 L365.6,343.4 L366.1,343.8 L366.6,343.9 L367.1,343.9 L367.6,342.2 L368.1,343.9 L368.6,343.1 L369.1,342.9 L369.6,343.8 L370.1,343.8 L370.6,343.6 L371.1,342.8 L371.6,343.5 L372.1,342.6 L372.6,343.9 L373.1,343.3 L373.6,343.5 L374.1,343.8 L374.6,342.5 L375.1,343.8 L375.6,343.8 L376.1,343.5 L376.6,343.3 L377.1,343.6 L377.6,343.1 L378.1,343.5 L378.6,343.2 L379.1,343.7 L379.6,343.2 L380.1,343.8 L380.6,343.9 L381.1,343.9 L381.6,341.3 L382.1,343.6 L382.6,342.9 L383.1,343.1 L383.6,343.8 L384.1,343.9 L384.6,343.9 L385.1,343.7 L385.6,343.9 L386.1,343.2 L386.6,343.9 L387.1,342.4 L387.6,343.8 L388.1,343.1 L388.6,341.7 L389.1,343.8 L389.6,343.8 L390.1,343.8 L390.6,342.6 L391.1,343.9 L391.6,342.8 L392.1,342.9 L392.6,343.3 L393.1,342.9 L393.6,343.9 L394.1,343.7 L394.6,343.9 L395.1,343.9 L395.6,342.9 L396.1,343.8 L396.6,343.8 L397.1,343.8 L397.6,343.9 L398.1,343.6 L398.6,343.1 L399.1,342.8 L399.6,343.6 L400.1,343.0 L400.6,343.3 L401.1,343.9 L401.6,343.9 L402.1,343.8 L402.6,343.4 L403.1,343.5 L403.6,343.3 L404.1,342.4 L404.6,342.9 L405.1,343.9 L405.6,343.1 L406.1,343.2 L406.6,343.6 L407.1,343.8 L407.6,343.9 L408.1,343.2 L408.6,343.7 L409.1,343.7 L409.6,343.5 L410.1,343.9 L410.6,342.3 L411.1,342.8 L411.6,343.9 L412.1,343.7 L412.6,343.6 L413.1,343.7 L413.6,342.4 L414.1,343.0 L414.6,342.6 L415.1,343.4 L415.6,342.9 L416.1,343.3 L416.6,343.4 L417.1,343.9 L417.6,343.4 L418.1,343.4 L418.6,343.9 L419.1,342.4 L419.6,341.8 L420.1,343.8 L420.6,342.5 L421.1,343.7 L421.6,341.2 L422.1,343.6 L422.6,343.2 L423.1,343.1 L423.6,343.7 L424.1,343.2 L424.6,343.7 L425.1,343.9 L425.6,343.4 L426.1,343.4 L426.6,343.7 L427.1,343.9 L427.6,343.6 L428.1,343.8 L428.6,341.8 L429.1,343.7 L429.6,343.8 L430.1,343.7 L430.6,343.2 L431.1,343.1 L431.6,342.3 L432.1,342.8 L432.6,342.8 L433.1,342.7 L433.6,343.2 L434.1,343.9 L434.6,342.5 L435.1,343.3 L435.6,343.3 L436.1,343.8 L436.6,341.5 L437.1,343.3 L437.6,343.7 L438.1,343.9 L438.6,343.8 L439.1,343.9 L439.6,343.1 L440.1,343.0 L440.6,343.6 L441.1,343.8 L441.6,342.9 L442.1,343.6 L442.6,343.7 L443.1,343.8 L443.6,343.6 L444.1,343.5 L444.6,343.9 L445.1,342.8 L445.6,343.9 L446.1,343.8 L446.6,343.2 L447.1,343.8 L447.6,343.8 L448.1,343.6 L448.6,343.9 L449.1,343.5 L449.6,343.9 L450.1,343.9 L450.6,343.1 L451.1,342.7 L451.6,343.9 L452.1,343.8 L452.6,343.9 L453.1,343.7 L453.6,342.7 L454.1,343.8 L454.6,342.4 L455.1,343.1 L455.6,343.5 L456.1,343.8 L456.6,343.6 L457.1,341.4 L457.6,343.8 L458.1,343.3 L458.6,343.9 L459.1,343.1 L459.6,343.7 L460.1,343.3 L460.6,343.8 L461.1,342.2 L461.6,342.7 L462.1,342.5 L462.6,343.7 L463.1,342.5 L463.6,343.8 L464.1,343.6 L464.6,343.8 L465.1,343.4 L465.6,343.9 L466.1,343.2 L466.6,342.1 L467.1,343.5 L467.6,342.1 L468.1,341.0 L468.6,343.8 L469.1,343.8 L469.6,343.9 L470.1,343.7 L470.6,343.9 L471.1,343.6 L471.6,343.2 L472.1,343.6 L472.6,342.8 L473.1,343.3 L473.6,343.5 L474.1,343.2 L474.6,343.7 L475.1,342.0 L475.6,343.8 L476.1,343.4 L476.6,343.9 L477.1,343.8 L477.6,343.5 L478.1,342.6 L478.6,342.7 L479.1,343.9 L479.6,342.2 L480.1,343.9 L480.6,343.9 L481.1,343.9 L481.6,343.7 L482.1,343.9 L482.6,343.6 L483.1,342.8 L483.6,343.3 L484.1,343.8 L484.6,343.3 L485.1,342.9 L485.6,341.9 L486.1,343.9 L486.6,343.4 L487.1,343.2 L487.6,343.7 L488.1,343.5 L488.6,343.9 L489.1,343.3 L489.6,343.2 L490.1,343.9 L490.6,343.2 L491.1,343.3 L491.6,342.0 L492.1,343.7 L492.6,342.0 L493.1,343.6 L493.6,343.9 L494.1,343.9 L494.6,343.1 L495.1,343.2 L495.6,343.8 L496.1,343.8 L496.6,343.9 L497.1,343.6 L497.6,343.9 L498.1,342.2 L498.6,343.6 L499.1,343.6 L499.6,343.5 L500.1,343.2 L500.6,343.6 L501.1,343.9 L501.6,342.8 L502.1,343.3 L502.6,341.9 L503.1,343.0 L503.6,343.7 L504.1,343.3 L504.6,342.7 L505.1,343.8 L505.6,343.4 L506.1,343.7 L506.6,343.9 L507.1,343.2 L507.6,343.7 L508.1,343.2 L508.6,343.9 L509.1,343.8 L509.6,343.9 L510.1,343.9 L510.6,343.7 L511.1,343.7 L511.6,343.5 L512.1,343.9 L512.6,343.8 L513.0,343.9Z" fill="#a31520"/>
<line x1="29.6" y1="343.60" x2="513.0" y2="343.60" stroke="#a31520" stroke-width="1.6"/>
<text x="31.70" y="363.10" font-size="8.58" textLength="46.06" lengthAdjust="spacingAndGlyphs" font-weight="bold" id="tr3" fill="#cc1440">AML1 5 Dox</text>
<path d="M29.6,368.2 L29.6,367.6 L30.1,368.0 L30.6,367.4 L31.1,367.8 L31.6,366.6 L32.1,368.2 L32.6,367.5 L33.1,367.4 L33.6,367.2 L34.1,368.1 L34.6,368.1 L35.1,367.2 L35.6,368.0 L36.1,367.5 L36.6,368.1 L37.1,367.7 L37.6,367.6 L38.1,368.0 L38.6,367.7 L39.1,368.2 L39.6,368.1 L40.1,367.6 L40.6,367.6 L41.1,368.2 L41.6,368.0 L42.1,368.0 L42.6,368.0 L43.1,367.1 L43.6,366.3 L44.1,368.0 L44.6,367.4 L45.1,367.6 L45.6,368.2 L46.1,368.1 L46.6,368.2 L47.1,367.8 L47.6,368.1 L48.1,367.8 L48.6,367.4 L49.1,367.3 L49.6,368.2 L50.1,367.8 L50.6,367.5 L51.1,368.0 L51.6,367.5 L52.1,367.9 L52.6,366.6 L53.1,368.2 L53.6,368.1 L54.1,367.6 L54.6,368.2 L55.1,368.2 L55.6,368.2 L56.1,367.8 L56.6,368.0 L57.1,367.4 L57.6,367.9 L58.1,367.9 L58.6,366.2 L59.1,368.0 L59.6,368.1 L60.1,368.2 L60.6,367.7 L61.1,368.1 L61.6,367.3 L62.1,368.0 L62.6,368.0 L63.1,368.2 L63.6,368.0 L64.1,366.9 L64.6,368.2 L65.1,366.3 L65.6,368.0 L66.1,367.4 L66.6,368.1 L67.1,366.3 L67.6,367.2 L68.1,368.0 L68.6,367.8 L69.1,368.2 L69.6,367.0 L70.1,368.1 L70.6,367.9 L71.1,367.9 L71.6,367.0 L72.1,368.2 L72.6,367.6 L73.1,366.4 L73.6,367.1 L74.1,368.0 L74.6,367.9 L75.1,367.9 L75.6,368.0 L76.1,368.2 L76.6,367.6 L77.1,367.4 L77.6,366.7 L78.1,365.4 L78.6,367.4 L79.1,368.0 L79.6,367.9 L80.1,368.1 L80.6,368.0 L81.1,367.9 L81.6,367.1 L82.1,368.1 L82.6,368.2 L83.1,367.5 L83.6,368.2 L84.1,367.7 L84.6,368.0 L85.1,367.3 L85.6,368.1 L86.1,368.0 L86.6,368.0 L87.1,367.2 L87.6,368.2 L88.1,367.4 L88.6,367.8 L89.1,367.2 L89.6,368.2 L90.1,367.6 L90.6,367.8 L91.1,367.4 L91.6,367.0 L92.1,368.1 L92.6,367.1 L93.1,367.8 L93.6,366.9 L94.1,368.1 L94.6,367.9 L95.1,368.2 L95.6,368.1 L96.1,368.2 L96.6,367.7 L97.1,367.4 L97.6,368.1 L98.1,367.2 L98.6,367.9 L99.1,367.4 L99.6,368.1 L100.1,365.3 L100.6,367.9 L101.1,366.6 L101.6,368.0 L102.1,367.4 L102.6,367.7 L103.1,367.5 L103.6,366.3 L104.1,368.2 L104.6,367.2 L105.1,366.8 L105.6,367.3 L106.1,367.9 L106.6,368.2 L107.1,368.2 L107.6,366.8 L108.1,368.2 L108.6,368.2 L109.1,366.6 L109.6,368.1 L110.1,367.2 L110.6,367.6 L111.1,368.0 L111.6,367.8 L112.1,368.1 L112.6,368.0 L113.1,367.4 L113.6,368.0 L114.1,368.1 L114.6,366.8 L115.1,367.7 L115.6,367.4 L116.1,367.5 L116.6,367.1 L117.1,368.2 L117.6,366.5 L118.1,368.1 L118.6,367.2 L119.1,368.1 L119.6,367.6 L120.1,368.2 L120.6,367.3 L121.1,368.1 L121.6,367.9 L122.1,368.0 L122.6,368.1 L123.1,368.1 L123.6,367.8 L124.1,367.8 L124.6,366.0 L125.1,366.5 L125.6,368.1 L126.1,368.1 L126.6,368.2 L127.1,366.2 L127.6,367.9 L128.1,367.9 L128.6,367.9 L129.1,367.0 L129.6,368.2 L130.1,367.4 L130.6,367.6 L131.1,368.2 L131.6,367.9 L132.1,367.7 L132.6,367.4 L133.1,368.2 L133.6,367.9 L134.1,367.3 L134.6,367.5 L135.1,366.5 L135.6,367.9 L136.1,368.1 L136.6,367.2 L137.1,368.0 L137.6,367.8 L138.1,366.8 L138.6,367.7 L139.1,368.2 L139.6,367.8 L140.1,367.9 L140.6,367.3 L141.1,367.9 L141.6,367.9 L142.1,368.2 L142.6,368.0 L143.1,367.2 L143.6,367.5 L144.1,368.1 L144.6,367.2 L145.1,368.0 L145.6,368.0 L146.1,367.4 L146.6,368.2 L147.1,368.2 L147.6,366.7 L148.1,366.6 L148.6,368.1 L149.1,367.0 L149.6,368.1 L150.1,367.4 L150.6,365.9 L151.1,368.2 L151.6,368.2 L152.1,367.6 L152.6,368.1 L153.1,367.6 L153.6,366.1 L154.1,365.9 L154.6,367.9 L155.1,368.0 L155.6,368.2 L156.1,368.2 L156.6,368.1 L157.1,368.1 L157.6,367.4 L158.1,367.7 L158.6,368.2 L159.1,367.3 L159.6,367.8 L160.1,367.6 L160.6,367.9 L161.1,368.2 L161.6,366.7 L162.1,368.1 L162.6,367.9 L163.1,368.2 L163.6,367.3 L164.1,368.2 L164.6,367.8 L165.1,366.6 L165.4,366.3 L165.6,366.8 L166.1,368.0 L166.6,368.2 L167.1,368.0 L167.6,368.0 L168.1,368.2 L168.6,367.3 L169.1,365.4 L169.6,368.0 L170.1,368.0 L170.6,368.1 L171.1,367.8 L171.6,366.7 L172.1,366.6 L172.6,368.1 L173.1,367.7 L173.6,368.2 L174.1,367.9 L174.6,368.2 L175.1,367.3 L175.6,368.0 L176.1,367.0 L176.6,367.4 L177.1,367.4 L177.6,368.1 L178.1,367.4 L178.6,367.6 L179.1,367.9 L179.6,368.2 L180.1,368.2 L180.6,368.2 L181.1,367.7 L181.6,367.3 L182.1,367.0 L182.6,366.4 L183.1,368.1 L183.6,368.1 L184.1,368.2 L184.6,368.2 L185.1,367.4 L185.6,367.6 L186.1,368.0 L186.6,368.2 L187.1,368.1 L187.6,366.9 L188.1,367.8 L188.6,367.4 L189.1,367.9 L189.6,368.2 L190.1,368.1 L190.6,368.1 L191.1,367.8 L191.6,368.1 L192.1,368.2 L192.6,367.3 L193.1,366.7 L193.6,366.8 L194.1,366.1 L194.6,367.6 L195.1,367.0 L195.6,368.1 L196.1,368.2 L196.6,367.5 L197.1,368.0 L197.6,367.2 L198.1,368.2 L198.6,368.2 L199.1,367.5 L199.6,367.9 L200.1,368.1 L200.6,367.8 L201.1,367.9 L201.6,367.3 L202.1,368.1 L202.6,367.9 L203.1,368.2 L203.6,368.2 L204.1,367.7 L204.6,368.2 L205.1,367.7 L205.6,368.2 L206.1,368.1 L206.6,367.6 L207.1,366.4 L207.6,367.9 L208.1,368.2 L208.6,367.7 L209.1,367.5 L209.6,367.6 L210.1,366.1 L210.6,366.0 L211.1,368.2 L211.6,368.1 L212.1,368.1 L212.6,367.5 L213.1,366.6 L213.6,368.2 L214.1,367.5 L214.6,368.2 L215.1,366.1 L215.6,367.7 L216.1,367.9 L216.6,368.2 L217.1,367.2 L217.6,368.1 L218.1,367.1 L218.6,366.6 L219.1,366.9 L219.6,368.0 L220.1,368.2 L220.6,367.5 L221.1,367.1 L221.6,368.2 L222.1,367.4 L222.6,368.1 L223.1,367.5 L223.6,368.2 L224.1,368.2 L224.6,368.2 L225.1,367.6 L225.6,367.4 L226.1,367.9 L226.6,368.2 L227.1,368.1 L227.6,368.1 L228.1,367.2 L228.6,367.8 L229.1,367.7 L229.6,367.7 L230.1,368.2 L230.6,368.0 L231.1,368.0 L231.6,368.0 L232.1,367.8 L232.6,368.0 L233.1,368.0 L233.6,367.1 L234.1,367.8 L234.6,368.2 L235.1,368.1 L235.6,368.1 L236.1,367.6 L236.6,366.3 L237.1,367.2 L237.6,368.2 L238.1,368.1 L238.6,368.0 L239.1,368.2 L239.6,367.9 L240.1,368.2 L240.6,367.1 L241.1,368.1 L241.6,368.2 L242.1,368.0 L242.6,367.4 L243.1,367.8 L243.6,367.5 L244.1,367.6 L244.6,366.8 L245.1,368.0 L245.6,368.1 L246.1,367.5 L246.6,368.2 L247.1,368.0 L247.6,368.0 L248.1,367.5 L248.6,368.1 L249.1,367.7 L249.6,368.2 L250.1,368.2 L250.6,367.8 L251.1,368.1 L251.6,367.8 L252.1,368.0 L252.6,368.2 L253.1,367.8 L253.6,367.8 L254.1,367.5 L254.6,367.7 L255.1,368.2 L255.6,367.4 L256.1,368.1 L256.6,368.2 L257.1,367.4 L257.6,367.5 L258.1,367.5 L258.6,365.9 L259.1,368.2 L259.6,367.4 L260.1,367.6 L260.6,367.0 L261.1,368.1 L261.6,367.5 L262.1,368.2 L262.6,367.0 L263.1,368.2 L263.6,366.8 L264.1,367.0 L264.6,366.1 L265.1,366.4 L265.6,368.1 L266.1,367.8 L266.6,367.9 L267.1,367.7 L267.6,368.0 L268.1,367.8 L268.6,367.5 L269.1,367.7 L269.6,367.3 L270.1,367.3 L270.6,368.0 L271.1,368.2 L271.6,367.9 L272.1,367.9 L272.6,367.2 L273.1,367.4 L273.6,367.8 L274.1,368.0 L274.6,367.4 L275.1,368.1 L275.6,367.3 L276.1,367.5 L276.6,367.5 L277.1,368.2 L277.6,368.2 L278.1,368.2 L278.6,367.5 L279.1,368.2 L279.6,368.0 L280.1,368.1 L280.6,367.4 L281.1,367.9 L281.6,367.8 L282.1,366.8 L282.6,367.0 L283.1,367.9 L283.6,366.0 L284.1,368.1 L284.6,366.7 L285.1,368.0 L285.6,366.9 L286.1,368.1 L286.6,367.9 L287.1,366.8 L287.6,367.9 L288.1,368.0 L288.6,367.9 L289.1,368.2 L289.6,367.3 L290.1,367.5 L290.6,368.1 L291.1,367.5 L291.6,368.0 L292.1,367.0 L292.6,368.2 L293.1,367.7 L293.6,368.0 L294.1,368.0 L294.6,367.6 L295.1,368.1 L295.6,368.0 L296.1,367.9 L296.6,368.2 L297.1,365.6 L297.6,366.5 L298.1,365.2 L298.4,365.0 L298.6,364.2 L299.1,365.6 L299.6,365.1 L300.1,367.8 L300.6,367.6 L301.1,367.1 L301.6,367.9 L302.1,368.1 L302.6,367.4 L303.1,365.2 L303.6,367.8 L304.1,368.2 L304.6,368.1 L305.1,367.9 L305.6,368.0 L306.1,367.8 L306.6,368.2 L307.1,367.8 L307.6,367.9 L308.1,368.1 L308.6,367.9 L309.1,367.6 L309.6,368.0 L310.1,366.3 L310.6,368.1 L311.1,367.7 L311.6,368.0 L312.1,368.0 L312.6,366.3 L313.1,367.9 L313.6,367.5 L314.1,367.8 L314.6,368.0 L315.1,367.8 L315.6,367.9 L316.1,368.2 L316.6,366.3 L317.1,367.5 L317.6,367.8 L318.1,368.1 L318.6,367.5 L319.1,367.6 L319.6,367.6 L320.1,367.8 L320.6,367.7 L321.1,367.8 L321.6,368.1 L322.1,367.5 L322.6,367.6 L323.1,367.7 L323.6,367.8 L324.1,367.7 L324.6,367.9 L325.1,366.1 L325.6,367.6 L326.1,367.6 L326.6,366.6 L327.1,368.2 L327.6,368.0 L328.1,368.1 L328.6,367.8 L329.1,366.9 L329.6,367.1 L330.1,367.7 L330.6,368.1 L331.1,368.0 L331.6,368.0 L332.1,368.2 L332.6,368.1 L333.1,368.0 L333.6,366.7 L334.1,368.2 L334.6,365.4 L335.1,367.2 L335.6,366.6 L336.1,365.7 L336.3,365.7 L336.6,366.8 L337.1,367.6 L337.6,368.1 L338.1,367.8 L338.6,367.8 L339.1,366.3 L339.6,367.4 L340.1,368.0 L340.6,367.9 L341.1,368.1 L341.6,368.2 L342.1,367.8 L342.6,368.2 L343.1,367.4 L343.6,367.9 L344.1,367.9 L344.6,367.6 L345.1,367.8 L345.6,366.7 L346.1,367.8 L346.6,368.1 L347.1,367.9 L347.6,368.1 L348.1,367.6 L348.6,367.9 L349.1,368.1 L349.6,368.2 L350.1,368.0 L350.6,367.7 L351.1,367.6 L351.6,367.3 L352.1,367.0 L352.6,367.5 L353.1,367.9 L353.6,366.4 L354.1,368.1 L354.6,367.8 L355.1,368.1 L355.6,367.9 L356.1,368.1 L356.6,368.1 L357.1,367.7 L357.6,367.8 L358.1,368.2 L358.6,368.2 L359.1,368.2 L359.6,367.7 L360.1,368.1 L360.6,368.0 L361.1,368.0 L361.6,367.6 L362.1,367.8 L362.6,367.6 L363.1,368.1 L363.6,367.4 L364.1,367.1 L364.6,368.2 L365.1,368.1 L365.6,368.1 L366.1,368.0 L366.6,367.8 L367.1,367.3 L367.6,368.1 L368.1,368.2 L368.6,368.1 L369.1,367.3 L369.6,368.2 L370.1,368.2 L370.6,367.9 L371.1,368.2 L371.6,368.0 L372.1,366.4 L372.6,367.9 L373.1,367.3 L373.6,367.8 L374.1,367.9 L374.6,367.9 L375.1,367.7 L375.6,367.7 L376.1,367.7 L376.6,368.2 L377.1,366.9 L377.6,368.2 L378.1,367.6 L378.6,367.1 L379.1,368.1 L379.6,367.5 L380.1,368.1 L380.6,367.6 L381.1,368.2 L381.6,368.0 L382.1,368.0 L382.6,367.5 L383.1,367.3 L383.6,367.7 L384.1,368.1 L384.6,368.2 L385.1,368.2 L385.6,367.4 L386.1,368.1 L386.6,367.8 L387.1,368.1 L387.6,368.0 L388.1,368.2 L388.6,367.9 L389.1,366.1 L389.6,367.6 L390.1,367.9 L390.6,368.0 L391.1,368.2 L391.6,367.0 L392.1,367.9 L392.6,368.0 L393.1,367.8 L393.6,366.5 L394.1,368.0 L394.6,367.9 L395.1,367.8 L395.6,368.2 L396.1,367.7 L396.6,368.2 L397.1,368.2 L397.6,368.0 L398.1,368.2 L398.6,368.1 L399.1,368.2 L399.6,368.0 L400.1,368.1 L400.6,367.8 L401.1,367.2 L401.6,368.0 L402.1,367.1 L402.6,367.4 L403.1,366.5 L403.6,367.7 L404.1,368.1 L404.6,367.5 L405.1,367.4 L405.6,367.8 L406.1,367.9 L406.6,367.7 L407.1,368.0 L407.6,368.1 L408.1,367.8 L408.6,368.1 L409.1,367.8 L409.6,367.9 L410.1,366.9 L410.6,365.8 L411.1,365.4 L411.6,368.2 L412.1,367.2 L412.6,368.1 L413.1,368.2 L413.6,367.2 L414.1,368.2 L414.6,368.1 L415.1,367.6 L415.6,367.8 L416.1,368.1 L416.6,368.1 L417.1,367.6 L417.6,368.2 L418.1,366.3 L418.6,367.9 L419.1,367.5 L419.6,367.6 L420.1,367.7 L420.6,368.1 L421.1,368.2 L421.6,368.2 L422.1,365.3 L422.6,367.1 L423.1,367.4 L423.6,366.5 L424.1,366.9 L424.6,367.3 L425.1,368.0 L425.6,367.2 L426.1,367.1 L426.6,368.1 L427.1,367.7 L427.6,368.0 L428.1,368.1 L428.6,368.0 L429.1,368.0 L429.6,368.0 L430.1,367.9 L430.6,367.9 L431.1,368.2 L431.6,367.9 L432.1,366.3 L432.6,368.0 L433.1,368.1 L433.6,367.7 L434.1,368.0 L434.6,366.1 L435.1,365.5 L435.6,368.1 L436.1,368.2 L436.6,367.2 L437.1,367.7 L437.6,368.1 L438.1,368.0 L438.6,368.1 L439.1,367.7 L439.6,367.6 L440.1,366.7 L440.6,367.7 L441.1,366.6 L441.6,368.1 L442.1,367.5 L442.6,368.2 L443.1,367.5 L443.6,368.2 L444.1,367.8 L444.6,367.3 L445.1,368.1 L445.6,367.2 L446.1,367.5 L446.6,368.1 L447.1,367.8 L447.6,366.4 L448.1,368.2 L448.6,367.3 L449.1,368.1 L449.6,368.2 L450.1,368.2 L450.6,368.2 L451.1,367.9 L451.6,368.2 L452.1,367.1 L452.6,367.7 L453.1,368.0 L453.6,367.9 L454.1,367.8 L454.6,367.6 L455.1,368.2 L455.6,368.0 L456.1,368.1 L456.6,367.9 L457.1,367.5 L457.6,368.2 L458.1,367.7 L458.6,368.2 L459.1,368.0 L459.6,368.2 L460.1,367.9 L460.6,367.9 L461.1,367.4 L461.6,367.7 L462.1,367.7 L462.6,365.6 L463.1,368.2 L463.6,367.5 L464.1,366.7 L464.6,366.8 L465.1,367.7 L465.6,368.0 L466.1,367.6 L466.6,367.7 L467.1,368.2 L467.6,366.7 L468.1,365.3 L468.6,367.8 L469.1,367.4 L469.6,368.2 L470.1,367.8 L470.6,367.7 L471.1,366.4 L471.6,368.0 L472.1,368.2 L472.6,368.2 L473.1,367.2 L473.6,367.9 L474.1,367.5 L474.6,367.6 L475.1,367.7 L475.6,368.2 L476.1,366.4 L476.6,367.8 L477.1,367.9 L477.6,368.1 L478.1,367.3 L478.6,368.2 L479.1,368.0 L479.6,366.5 L480.1,367.1 L480.6,367.7 L481.1,368.2 L481.6,368.0 L482.1,368.1 L482.6,367.5 L483.1,368.1 L483.6,367.8 L484.1,367.2 L484.6,368.1 L485.1,368.2 L485.6,368.0 L486.1,367.0 L486.6,368.1 L487.1,367.3 L487.6,367.1 L488.1,368.2 L488.6,367.1 L489.1,368.2 L489.6,367.5 L490.1,367.1 L490.6,368.0 L491.1,367.7 L491.6,367.0 L492.1,368.0 L492.6,367.5 L493.1,367.3 L493.6,368.0 L494.1,368.0 L494.6,367.8 L495.1,368.1 L495.6,367.9 L496.1,368.1 L496.6,367.4 L497.1,367.5 L497.6,368.0 L498.1,367.0 L498.6,367.8 L499.1,368.0 L499.6,367.3 L500.1,367.3 L500.6,367.5 L501.1,367.9 L501.6,368.0 L502.1,368.1 L502.6,368.0 L503.1,367.6 L503.6,367.9 L504.1,368.2 L504.6,368.2 L505.1,367.7 L505.6,368.0 L506.1,368.1 L506.6,367.3 L507.1,367.9 L507.6,368.2 L508.1,367.9 L508.6,366.9 L509.1,368.1 L509.6,367.4 L510.1,368.2 L510.6,368.0 L511.1,368.0 L511.6,367.8 L512.1,368.2 L512.6,368.2 L513.0,368.2Z" fill="#a31520"/>
<line x1="29.6" y1="367.90" x2="513.0" y2="367.90" stroke="#a31520" stroke-width="1.6"/>
<text x="31.70" y="387.70" font-size="9.02" textLength="73.51" lengthAdjust="spacingAndGlyphs" font-weight="bold" id="tr4" fill="#3cb043">AML1c 0 Dox ATAC</text>
<path d="M29.6,393.0 L29.6,393.0 L30.1,391.2 L30.6,391.6 L31.1,391.9 L31.6,390.4 L32.1,392.0 L32.6,393.0 L33.1,392.0 L33.6,392.2 L34.1,392.7 L34.6,392.1 L35.1,392.9 L35.6,393.0 L36.1,392.7 L36.6,392.5 L37.1,393.0 L37.6,393.0 L38.1,392.7 L38.6,393.0 L39.1,392.5 L39.6,390.8 L40.1,392.8 L40.6,392.9 L41.1,393.0 L41.6,392.6 L42.1,392.8 L42.6,392.6 L43.1,390.9 L43.6,392.9 L44.1,392.9 L44.6,392.2 L45.1,393.0 L45.6,392.2 L46.1,392.6 L46.6,393.0 L47.1,392.4 L47.6,392.7 L48.1,393.0 L48.6,393.0 L49.1,393.0 L49.6,392.4 L50.1,393.0 L50.6,393.0 L51.1,392.5 L51.6,392.7 L52.1,392.9 L52.6,392.1 L53.1,392.3 L53.6,392.1 L54.1,392.4 L54.6,392.5 L55.1,391.0 L55.6,392.6 L56.1,392.9 L56.6,392.9 L57.1,393.0 L57.6,392.7 L58.1,393.0 L58.6,392.3 L59.1,392.9 L59.6,392.8 L60.1,392.8 L60.6,392.5 L61.1,393.0 L61.6,393.0 L62.1,390.6 L62.6,391.8 L63.1,392.6 L63.6,392.2 L64.1,392.9 L64.6,392.6 L65.1,392.6 L65.6,392.2 L66.1,392.6 L66.6,392.8 L67.1,392.2 L67.6,392.7 L68.1,392.4 L68.6,392.6 L69.1,392.3 L69.6,392.8 L70.1,392.9 L70.6,392.3 L71.1,392.9 L71.6,392.9 L72.1,392.9 L72.6,392.8 L73.1,392.8 L73.6,393.0 L74.1,393.0 L74.6,392.2 L75.1,392.5 L75.6,391.4 L76.1,393.0 L76.6,392.8 L77.1,392.9 L77.6,391.7 L78.1,392.0 L78.6,393.0 L79.1,393.0 L79.6,392.9 L80.1,392.7 L80.6,392.9 L81.1,392.5 L81.6,392.8 L82.1,392.2 L82.6,392.8 L83.1,393.0 L83.6,392.5 L84.1,392.8 L84.6,391.8 L85.1,392.9 L85.6,393.0 L86.1,393.0 L86.6,392.3 L87.1,392.6 L87.6,393.0 L88.1,392.6 L88.6,392.9 L89.1,392.7 L89.6,393.0 L90.1,392.3 L90.6,392.8 L91.1,392.9 L91.6,392.9 L92.1,392.9 L92.6,391.9 L93.1,392.9 L93.6,392.7 L94.1,393.0 L94.6,392.7 L95.1,393.0 L95.6,391.1 L96.1,393.0 L96.6,392.6 L97.1,393.0 L97.6,392.0 L98.1,392.2 L98.6,392.9 L99.1,393.0 L99.6,392.2 L100.1,392.8 L100.6,392.7 L101.1,393.0 L101.6,393.0 L102.1,392.1 L102.6,392.1 L103.1,392.6 L103.6,392.6 L104.1,391.9 L104.6,392.7 L105.1,393.0 L105.6,393.0 L106.1,393.0 L106.6,392.3 L107.1,392.5 L107.6,391.6 L108.1,392.5 L108.6,393.0 L109.1,393.0 L109.6,393.0 L110.1,393.0 L110.6,390.1 L111.1,392.9 L111.6,391.7 L112.1,392.5 L112.6,392.7 L113.1,393.0 L113.6,392.7 L114.1,389.6 L114.6,391.3 L115.1,393.0 L115.6,393.0 L116.1,392.6 L116.6,392.9 L117.1,392.0 L117.6,391.5 L118.1,391.4 L118.6,389.7 L119.1,388.7 L119.6,390.0 L120.1,391.2 L120.6,392.6 L121.1,392.9 L121.6,392.8 L122.1,392.7 L122.6,391.6 L123.1,391.8 L123.6,392.3 L124.1,392.8 L124.6,392.9 L125.1,392.5 L125.6,392.9 L126.1,392.0 L126.6,393.0 L127.1,393.0 L127.6,392.9 L128.1,392.3 L128.6,392.4 L129.1,392.6 L129.6,391.6 L130.1,392.4 L130.6,392.6 L131.1,392.5 L131.6,392.7 L132.1,392.7 L132.6,392.8 L133.1,392.7 L133.6,390.9 L134.1,391.9 L134.4,391.2 L134.6,391.2 L135.1,392.6 L135.6,391.9 L136.1,393.0 L136.6,392.7 L137.1,393.0 L137.6,393.0 L138.1,393.0 L138.6,392.8 L139.1,392.1 L139.6,392.7 L140.1,391.1 L140.5,391.0 L140.6,391.1 L141.1,392.0 L141.6,393.0 L142.1,392.7 L142.6,393.0 L143.1,393.0 L143.6,393.0 L144.1,392.6 L144.6,393.0 L145.1,393.0 L145.6,392.9 L146.1,392.7 L146.6,391.5 L147.1,392.9 L147.6,392.8 L148.1,392.8 L148.6,392.1 L149.1,392.3 L149.6,391.4 L150.1,393.0 L150.6,392.5 L151.1,392.7 L151.6,392.4 L152.1,393.0 L152.6,392.5 L153.1,392.8 L153.6,391.7 L154.1,392.8 L154.6,392.8 L155.1,392.9 L155.6,392.7 L156.1,393.0 L156.6,392.9 L157.1,392.9 L157.6,392.7 L158.1,392.7 L158.6,392.7 L159.1,391.7 L159.6,391.6 L160.1,390.9 L160.6,392.4 L161.1,392.8 L161.6,391.8 L162.1,392.3 L162.6,392.6 L163.1,392.9 L163.6,392.3 L164.1,392.8 L164.6,390.8 L165.1,379.0 L165.3,375.1 L165.6,377.5 L166.1,384.7 L166.5,388.6 L166.6,388.5 L167.1,389.6 L167.6,391.5 L168.1,392.1 L168.6,392.2 L169.1,392.9 L169.6,392.7 L170.1,390.8 L170.6,392.8 L171.1,390.8 L171.6,392.0 L172.1,392.4 L172.6,391.8 L173.1,392.9 L173.6,392.1 L174.1,393.0 L174.6,392.4 L175.1,392.8 L175.6,390.7 L176.1,392.5 L176.6,392.9 L177.1,391.5 L177.6,392.9 L178.1,392.4 L178.6,392.9 L179.1,393.0 L179.6,392.9 L180.1,392.6 L180.6,392.6 L181.1,391.8 L181.6,393.0 L182.1,393.0 L182.6,392.8 L183.1,392.5 L183.6,392.9 L184.1,392.0 L184.6,392.9 L185.1,392.1 L185.6,392.9 L186.1,392.8 L186.6,392.9 L187.1,392.9 L187.6,392.6 L188.1,392.7 L188.6,393.0 L189.1,392.8 L189.6,393.0 L190.1,393.0 L190.6,393.0 L191.1,392.6 L191.6,392.5 L192.1,392.8 L192.6,391.9 L193.1,392.7 L193.6,392.9 L194.1,392.1 L194.6,391.8 L195.1,392.9 L195.6,392.4 L196.1,392.8 L196.6,392.0 L197.1,392.1 L197.6,392.8 L198.1,392.2 L198.6,393.0 L199.1,392.3 L199.6,391.9 L200.1,392.6 L200.6,392.8 L201.1,393.0 L201.6,393.0 L202.1,393.0 L202.6,391.2 L203.1,392.1 L203.6,392.6 L204.1,392.7 L204.6,392.9 L205.1,393.0 L205.6,392.9 L206.1,392.4 L206.6,393.0 L207.1,391.5 L207.6,393.0 L208.1,392.2 L208.6,392.6 L209.1,392.9 L209.6,391.7 L210.1,392.7 L210.6,392.8 L211.1,393.0 L211.6,392.4 L212.1,392.3 L212.6,392.1 L213.1,391.8 L213.6,392.7 L214.1,392.1 L214.6,391.2 L215.1,391.7 L215.6,392.6 L216.1,393.0 L216.6,392.8 L217.1,392.0 L217.6,390.2 L218.1,393.0 L218.6,393.0 L219.1,392.8 L219.6,392.7 L220.1,391.7 L220.6,393.0 L221.1,392.7 L221.6,392.5 L222.1,391.0 L222.6,393.0 L223.1,392.0 L223.6,392.9 L224.1,392.9 L224.6,390.6 L225.1,393.0 L225.6,393.0 L226.1,392.9 L226.6,392.8 L227.1,392.6 L227.6,392.4 L228.1,392.5 L228.6,392.3 L229.1,392.3 L229.6,392.7 L230.1,393.0 L230.6,392.5 L231.1,391.9 L231.6,393.0 L232.1,393.0 L232.6,393.0 L233.1,392.9 L233.6,392.3 L234.1,393.0 L234.6,393.0 L235.1,392.8 L235.6,392.8 L236.1,390.7 L236.3,388.7 L236.6,391.1 L237.1,391.1 L237.6,392.0 L238.1,392.6 L238.6,390.7 L239.1,393.0 L239.6,392.7 L240.1,393.0 L240.6,391.3 L241.1,393.0 L241.6,393.0 L242.1,392.5 L242.6,392.5 L243.1,393.0 L243.6,393.0 L244.1,392.9 L244.6,391.6 L245.1,391.5 L245.6,391.1 L245.8,390.7 L246.1,391.0 L246.6,391.4 L247.1,391.2 L247.6,392.3 L248.1,392.9 L248.6,389.6 L249.1,392.7 L249.6,391.1 L250.1,393.0 L250.6,392.8 L251.1,390.8 L251.6,392.4 L252.1,393.0 L252.6,392.5 L253.1,393.0 L253.6,391.9 L254.1,392.6 L254.6,392.9 L255.1,393.0 L255.6,392.9 L256.1,392.5 L256.6,393.0 L257.1,392.3 L257.6,392.8 L258.1,393.0 L258.6,393.0 L259.1,393.0 L259.6,393.0 L260.1,392.5 L260.6,393.0 L261.1,392.9 L261.6,390.8 L262.1,393.0 L262.6,392.9 L263.1,392.7 L263.6,393.0 L264.1,392.8 L264.6,392.9 L265.1,392.3 L265.6,392.1 L266.1,392.9 L266.6,392.7 L267.1,393.0 L267.6,392.2 L268.1,392.7 L268.6,392.5 L269.1,392.6 L269.6,392.4 L270.1,392.7 L270.6,392.7 L271.1,391.8 L271.6,393.0 L272.1,392.5 L272.6,390.5 L273.0,389.8 L273.1,386.1 L273.6,390.4 L274.1,392.3 L274.6,393.0 L275.1,392.8 L275.6,393.0 L276.1,392.8 L276.6,392.2 L277.1,391.5 L277.6,393.0 L278.1,393.0 L278.6,393.0 L279.1,392.4 L279.6,391.9 L280.1,391.2 L280.6,392.5 L281.1,392.8 L281.6,393.0 L282.1,392.8 L282.6,393.0 L283.1,393.0 L283.6,392.5 L284.1,393.0 L284.6,392.2 L285.1,392.6 L285.6,392.7 L286.1,393.0 L286.6,393.0 L287.1,393.0 L287.6,392.3 L288.1,393.0 L288.6,393.0 L289.1,392.5 L289.6,392.8 L290.1,393.0 L290.6,393.0 L291.1,392.8 L291.6,390.9 L292.1,393.0 L292.6,393.0 L293.1,392.7 L293.6,392.2 L294.1,392.8 L294.6,391.6 L295.1,391.9 L295.6,390.2 L296.1,390.7 L296.5,390.4 L296.6,390.5 L297.1,390.5 L297.6,387.2 L298.1,385.9 L298.2,386.7 L298.6,385.5 L299.1,388.9 L299.6,392.2 L300.1,392.1 L300.6,392.8 L301.1,390.5 L301.6,392.7 L302.1,389.7 L302.6,392.3 L303.1,392.2 L303.6,392.7 L304.1,392.3 L304.6,393.0 L305.1,391.5 L305.6,390.0 L305.8,389.5 L306.1,390.9 L306.6,392.7 L307.1,392.3 L307.6,392.5 L308.1,392.3 L308.6,393.0 L309.1,392.9 L309.6,392.7 L310.1,392.9 L310.6,393.0 L311.1,391.5 L311.6,392.8 L312.1,393.0 L312.6,392.6 L313.1,391.7 L313.6,392.4 L314.1,392.1 L314.6,392.7 L315.1,391.3 L315.3,390.9 L315.6,391.5 L316.1,392.8 L316.6,392.6 L317.1,392.8 L317.6,392.9 L318.1,392.8 L318.6,392.8 L319.1,392.8 L319.6,393.0 L320.1,393.0 L320.6,392.6 L321.1,392.9 L321.6,393.0 L322.1,392.9 L322.6,393.0 L323.1,393.0 L323.6,392.6 L324.1,392.9 L324.6,392.5 L325.1,392.5 L325.6,392.7 L326.1,393.0 L326.6,393.0 L327.1,393.0 L327.6,393.0 L328.1,392.2 L328.6,392.8 L329.1,391.9 L329.6,393.0 L330.1,393.0 L330.6,391.5 L331.1,392.5 L331.6,392.9 L332.1,392.9 L332.6,392.9 L333.1,392.8 L333.6,392.4 L334.1,391.9 L334.6,392.9 L335.1,392.9 L335.6,392.9 L336.1,392.8 L336.6,393.0 L337.1,392.9 L337.6,392.5 L338.1,393.0 L338.6,392.5 L339.1,393.0 L339.6,392.8 L340.1,392.6 L340.6,391.4 L341.1,392.7 L341.6,391.9 L342.1,391.4 L342.5,389.6 L342.6,389.6 L343.1,392.3 L343.6,393.0 L344.1,392.9 L344.6,392.7 L345.1,392.2 L345.6,392.3 L346.1,392.7 L346.6,392.3 L347.1,393.0 L347.6,393.0 L348.1,392.8 L348.6,392.6 L349.1,393.0 L349.6,392.8 L350.1,392.7 L350.6,392.8 L351.1,392.6 L351.6,392.9 L352.1,392.8 L352.6,392.6 L353.1,392.9 L353.6,392.5 L354.1,393.0 L354.6,392.8 L355.1,392.3 L355.6,392.1 L356.1,392.9 L356.6,392.7 L357.1,392.7 L357.6,393.0 L358.1,392.5 L358.6,393.0 L359.1,392.5 L359.6,393.0 L360.1,393.0 L360.6,393.0 L361.1,392.5 L361.6,392.2 L362.1,392.4 L362.6,391.6 L363.1,392.8 L363.6,393.0 L364.1,392.8 L364.6,390.8 L365.1,392.9 L365.6,393.0 L366.1,392.2 L366.6,392.1 L367.1,391.8 L367.6,392.1 L368.1,391.8 L368.6,392.8 L369.1,392.6 L369.6,392.9 L370.1,393.0 L370.6,391.9 L371.1,392.6 L371.6,392.9 L372.1,391.6 L372.6,392.6 L373.1,391.9 L373.6,393.0 L374.1,393.0 L374.6,393.0 L375.1,392.8 L375.6,392.6 L376.1,392.7 L376.6,392.9 L377.1,392.6 L377.6,392.0 L378.1,393.0 L378.6,393.0 L379.1,393.0 L379.6,392.7 L380.1,392.8 L380.6,391.7 L381.1,392.6 L381.6,393.0 L382.1,393.0 L382.6,392.9 L383.1,392.6 L383.6,392.9 L384.1,390.7 L384.6,392.5 L385.1,392.2 L385.6,391.6 L386.1,391.8 L386.6,393.0 L387.1,393.0 L387.6,391.0 L388.1,392.3 L388.6,392.6 L389.1,392.9 L389.6,392.7 L390.1,392.0 L390.6,392.9 L391.1,393.0 L391.6,392.4 L392.1,393.0 L392.6,393.0 L393.1,393.0 L393.6,392.1 L394.1,392.6 L394.6,393.0 L395.1,392.9 L395.6,392.9 L396.1,392.5 L396.6,393.0 L397.1,393.0 L397.6,393.0 L398.1,392.8 L398.6,393.0 L399.1,392.1 L399.6,393.0 L400.1,392.5 L400.6,392.5 L401.1,392.2 L401.6,392.9 L402.1,392.4 L402.6,392.9 L403.1,392.1 L403.6,392.8 L404.1,393.0 L404.6,392.9 L405.1,391.9 L405.6,392.7 L406.1,390.6 L406.6,392.9 L407.1,392.8 L407.6,392.3 L408.1,392.6 L408.6,392.5 L409.1,393.0 L409.6,392.5 L410.1,392.8 L410.6,392.6 L411.1,392.2 L411.6,392.8 L412.1,392.0 L412.6,393.0 L413.1,393.0 L413.6,393.0 L414.1,393.0 L414.6,393.0 L415.1,392.8 L415.6,392.4 L416.1,392.8 L416.6,392.4 L417.1,392.9 L417.6,392.8 L418.1,392.4 L418.6,391.6 L419.1,391.6 L419.6,392.6 L420.1,392.7 L420.6,393.0 L421.1,393.0 L421.6,392.9 L422.1,392.6 L422.6,391.6 L423.1,392.9 L423.6,392.3 L424.1,392.4 L424.6,393.0 L425.1,392.0 L425.6,393.0 L426.1,391.7 L426.6,392.9 L427.1,391.6 L427.6,393.0 L428.1,392.1 L428.6,392.7 L429.1,393.0 L429.6,392.9 L430.1,393.0 L430.6,393.0 L431.1,392.6 L431.6,393.0 L432.1,391.9 L432.6,392.5 L433.1,392.8 L433.6,392.7 L434.1,392.4 L434.6,391.7 L435.1,393.0 L435.6,393.0 L436.1,391.5 L436.6,393.0 L437.1,392.9 L437.6,393.0 L438.1,391.7 L438.6,392.8 L439.1,392.3 L439.6,392.8 L440.1,392.3 L440.6,392.9 L441.1,392.4 L441.6,392.8 L442.1,393.0 L442.6,392.2 L443.1,393.0 L443.6,391.9 L444.1,393.0 L444.6,392.5 L445.1,392.4 L445.6,392.9 L446.1,392.9 L446.6,392.0 L447.1,392.6 L447.6,392.6 L448.1,392.6 L448.6,392.8 L449.1,390.0 L449.6,393.0 L450.1,392.9 L450.6,393.0 L451.1,392.1 L451.6,392.5 L452.1,392.8 L452.6,393.0 L453.1,392.2 L453.6,393.0 L454.1,392.7 L454.6,393.0 L455.1,393.0 L455.6,392.6 L456.1,391.8 L456.6,392.8 L457.1,392.6 L457.6,392.8 L458.1,392.4 L458.6,391.5 L459.1,393.0 L459.6,393.0 L460.1,392.6 L460.6,392.8 L461.1,392.6 L461.6,393.0 L462.1,392.8 L462.6,391.5 L463.1,392.0 L463.6,393.0 L464.1,391.3 L464.6,392.7 L465.1,392.5 L465.6,391.9 L466.1,393.0 L466.6,393.0 L467.1,392.4 L467.6,393.0 L468.1,391.7 L468.6,392.6 L469.1,393.0 L469.6,392.4 L470.1,392.5 L470.6,392.9 L471.1,391.1 L471.6,393.0 L472.1,391.4 L472.6,392.6 L473.1,393.0 L473.6,393.0 L474.1,392.4 L474.6,392.8 L475.1,391.9 L475.6,392.8 L476.1,393.0 L476.6,393.0 L477.1,393.0 L477.6,393.0 L478.1,392.7 L478.6,393.0 L479.1,392.5 L479.6,392.7 L480.1,393.0 L480.6,392.6 L481.1,392.9 L481.6,392.6 L482.1,392.7 L482.6,391.5 L483.1,391.8 L483.6,392.4 L484.1,392.8 L484.6,392.2 L485.1,392.7 L485.6,392.6 L486.1,391.3 L486.6,392.9 L487.1,392.8 L487.6,393.0 L488.1,392.8 L488.6,393.0 L489.1,392.7 L489.6,392.6 L490.1,392.4 L490.6,392.3 L491.1,392.7 L491.6,392.3 L492.1,392.7 L492.6,392.9 L493.1,392.9 L493.6,392.4 L494.1,391.7 L494.6,392.8 L495.1,392.9 L495.6,392.5 L496.1,392.1 L496.6,392.7 L497.1,392.4 L497.6,392.9 L498.1,391.4 L498.6,392.4 L499.1,392.2 L499.6,393.0 L500.1,392.7 L500.6,392.8 L501.1,392.9 L501.6,392.6 L502.1,393.0 L502.6,393.0 L503.1,393.0 L503.6,393.0 L504.1,393.0 L504.6,392.9 L505.1,393.0 L505.6,393.0 L506.1,392.5 L506.6,392.7 L507.1,392.6 L507.6,392.9 L508.1,393.0 L508.6,391.9 L509.1,392.5 L509.6,392.0 L510.1,392.4 L510.6,392.8 L511.1,392.6 L511.6,392.1 L512.1,392.9 L512.6,392.1 L513.0,393.0Z" fill="#2d9a3a"/>
<line x1="29.6" y1="392.90" x2="513.0" y2="392.90" stroke="#2d9a3a" stroke-width="1.2"/>
<text x="31.70" y="411.70" font-size="8.45" textLength="73.51" lengthAdjust="spacingAndGlyphs" font-weight="bold" id="tr5" fill="#3cb043">AML1c 5 Dox ATAC</text>
<path d="M29.6,417.0 L29.6,416.4 L30.1,417.0 L30.6,416.6 L31.1,416.6 L31.6,417.0 L32.1,416.6 L32.6,416.6 L33.1,415.8 L33.6,416.8 L34.1,416.9 L34.6,417.0 L35.1,417.0 L35.6,416.5 L36.1,416.9 L36.6,416.3 L37.1,416.5 L37.6,417.0 L38.1,416.4 L38.6,414.4 L39.1,416.6 L39.6,415.3 L40.1,415.9 L40.6,416.0 L41.1,416.9 L41.6,417.0 L42.1,416.9 L42.6,416.9 L43.1,416.5 L43.6,415.3 L44.1,416.4 L44.6,415.8 L45.1,417.0 L45.6,416.5 L46.1,415.7 L46.6,417.0 L47.1,417.0 L47.6,416.1 L48.1,416.0 L48.6,417.0 L49.1,416.7 L49.6,416.4 L50.1,415.9 L50.6,417.0 L51.1,416.9 L51.6,417.0 L52.1,415.8 L52.6,416.9 L53.1,416.4 L53.6,416.5 L54.1,415.4 L54.6,416.6 L55.1,416.7 L55.6,416.9 L56.1,415.5 L56.6,416.6 L57.1,416.9 L57.6,416.6 L58.1,417.0 L58.6,417.0 L59.1,416.2 L59.6,417.0 L60.1,415.9 L60.6,416.8 L61.1,416.3 L61.6,416.8 L62.1,417.0 L62.6,416.7 L63.1,416.6 L63.6,416.8 L64.1,416.6 L64.6,415.2 L65.1,416.6 L65.6,417.0 L66.1,417.0 L66.6,416.9 L67.1,417.0 L67.6,417.0 L68.1,416.6 L68.6,416.8 L69.1,417.0 L69.6,416.9 L70.1,416.9 L70.6,416.4 L71.1,416.6 L71.6,416.2 L72.1,415.7 L72.6,416.9 L73.1,416.3 L73.6,417.0 L74.1,416.7 L74.6,416.7 L75.1,417.0 L75.6,416.3 L76.1,416.8 L76.6,416.7 L77.1,416.6 L77.6,416.9 L78.1,417.0 L78.6,416.8 L79.1,417.0 L79.6,417.0 L80.1,415.3 L80.6,415.3 L81.1,417.0 L81.6,416.9 L82.1,417.0 L82.6,416.8 L83.1,416.6 L83.6,416.3 L84.1,415.2 L84.6,417.0 L85.1,415.6 L85.6,417.0 L86.1,416.6 L86.6,416.8 L87.1,416.9 L87.6,416.8 L88.1,416.5 L88.6,417.0 L89.1,416.0 L89.6,416.4 L90.1,416.3 L90.6,416.3 L91.1,416.9 L91.6,416.2 L92.1,416.5 L92.6,416.3 L93.1,416.6 L93.6,416.2 L94.1,416.6 L94.6,416.5 L95.1,416.9 L95.6,415.8 L96.1,415.8 L96.6,416.8 L97.1,417.0 L97.6,417.0 L98.1,416.9 L98.6,416.6 L99.1,416.8 L99.6,417.0 L100.1,417.0 L100.6,417.0 L101.1,417.0 L101.6,416.3 L102.1,417.0 L102.6,417.0 L103.1,416.0 L103.6,416.1 L104.1,416.7 L104.6,417.0 L105.1,417.0 L105.6,417.0 L106.1,417.0 L106.6,416.3 L107.1,416.7 L107.6,416.6 L108.1,416.8 L108.6,417.0 L109.1,417.0 L109.6,416.4 L110.1,416.5 L110.6,417.0 L111.1,415.1 L111.6,416.7 L112.1,416.8 L112.6,417.0 L113.1,416.1 L113.6,415.9 L114.1,415.5 L114.6,416.7 L115.1,417.0 L115.6,416.4 L116.1,417.0 L116.6,416.9 L117.1,417.0 L117.6,415.2 L118.1,416.2 L118.6,414.6 L119.1,413.7 L119.6,414.8 L120.1,415.8 L120.6,416.7 L121.1,416.8 L121.6,416.5 L122.1,416.8 L122.6,417.0 L123.1,416.7 L123.6,415.8 L124.1,416.2 L124.6,416.8 L125.1,414.3 L125.6,416.7 L126.1,417.0 L126.6,415.3 L127.1,416.7 L127.6,416.4 L128.1,417.0 L128.6,416.9 L129.1,417.0 L129.6,416.6 L130.1,417.0 L130.6,416.5 L131.1,416.2 L131.6,417.0 L132.1,416.8 L132.6,416.7 L133.1,416.6 L133.6,415.8 L134.1,416.8 L134.6,416.9 L135.1,417.0 L135.6,417.0 L136.1,416.8 L136.6,417.0 L137.1,417.0 L137.6,417.0 L138.1,417.0 L138.6,417.0 L139.1,416.6 L139.6,416.7 L140.1,415.1 L140.5,414.4 L140.6,414.5 L141.1,416.3 L141.6,415.8 L142.1,416.1 L142.6,417.0 L143.1,416.8 L143.6,417.0 L144.1,417.0 L144.6,417.0 L145.1,415.6 L145.6,417.0 L146.1,416.4 L146.6,416.4 L147.1,416.9 L147.6,416.9 L148.1,417.0 L148.6,416.4 L149.1,417.0 L149.6,417.0 L150.1,416.6 L150.6,416.6 L151.1,416.6 L151.6,416.6 L152.1,417.0 L152.6,415.9 L153.1,416.9 L153.6,416.5 L154.1,416.7 L154.6,416.4 L155.1,417.0 L155.6,416.2 L156.1,416.9 L156.6,416.8 L157.1,416.6 L157.6,413.6 L158.1,416.7 L158.6,415.6 L159.1,416.5 L159.6,417.0 L160.1,415.8 L160.6,417.0 L161.1,416.9 L161.6,417.0 L162.1,416.8 L162.6,416.3 L163.1,417.0 L163.6,416.9 L164.1,416.7 L164.6,415.0 L165.1,402.3 L165.3,399.0 L165.6,400.5 L166.1,408.5 L166.5,412.6 L166.6,412.3 L167.1,413.6 L167.6,415.4 L168.1,416.1 L168.6,416.6 L169.1,416.4 L169.6,416.8 L170.1,414.8 L170.6,416.5 L171.1,415.0 L171.6,416.1 L172.1,416.9 L172.6,417.0 L173.1,417.0 L173.6,416.9 L174.1,417.0 L174.6,416.8 L175.1,417.0 L175.6,416.9 L176.1,416.1 L176.6,416.1 L177.1,416.1 L177.6,417.0 L178.1,416.3 L178.6,416.2 L179.1,416.8 L179.6,416.0 L180.1,416.9 L180.6,417.0 L181.1,416.8 L181.6,416.3 L182.1,416.9 L182.6,416.4 L183.1,417.0 L183.6,417.0 L184.1,417.0 L184.6,416.6 L185.1,415.6 L185.6,416.6 L186.1,416.6 L186.6,416.6 L187.1,416.8 L187.6,416.9 L188.1,416.2 L188.6,417.0 L189.1,416.0 L189.6,416.6 L190.1,416.2 L190.6,416.9 L191.1,417.0 L191.6,416.4 L192.1,416.9 L192.6,416.7 L193.1,417.0 L193.6,416.2 L194.1,416.2 L194.6,413.9 L195.1,416.5 L195.6,416.9 L196.1,416.3 L196.6,416.8 L197.1,416.2 L197.6,415.7 L198.1,416.2 L198.6,416.5 L199.1,417.0 L199.6,416.4 L200.1,417.0 L200.6,416.6 L201.1,416.9 L201.6,417.0 L202.1,417.0 L202.6,416.9 L203.1,416.9 L203.6,416.3 L204.1,417.0 L204.6,415.3 L205.1,416.4 L205.6,416.7 L206.1,416.9 L206.6,417.0 L207.1,416.8 L207.6,416.6 L208.1,416.9 L208.6,416.7 L209.1,416.6 L209.6,412.8 L210.1,416.9 L210.6,416.6 L211.1,417.0 L211.6,416.9 L212.1,416.8 L212.6,417.0 L213.1,416.5 L213.6,416.7 L214.1,416.7 L214.6,416.9 L215.1,414.6 L215.6,416.6 L216.1,416.1 L216.6,416.7 L217.1,416.9 L217.6,417.0 L218.1,416.9 L218.6,416.3 L219.1,415.9 L219.6,415.3 L220.1,417.0 L220.6,416.0 L221.1,417.0 L221.6,415.9 L222.1,416.2 L222.6,416.2 L223.1,417.0 L223.6,416.5 L224.1,416.9 L224.6,415.1 L225.1,416.1 L225.6,417.0 L226.1,416.7 L226.6,416.7 L227.1,417.0 L227.6,416.9 L228.1,417.0 L228.6,415.9 L229.1,415.7 L229.6,417.0 L230.1,416.7 L230.6,416.5 L231.1,416.0 L231.6,416.4 L232.1,416.7 L232.6,414.8 L233.1,417.0 L233.6,415.3 L234.1,417.0 L234.6,416.5 L235.1,416.1 L235.6,416.0 L236.1,415.7 L236.3,414.8 L236.6,415.9 L237.1,416.8 L237.6,414.8 L238.1,416.9 L238.6,417.0 L239.1,416.9 L239.6,416.4 L240.1,417.0 L240.6,416.3 L241.1,416.6 L241.6,417.0 L242.1,416.6 L242.6,414.2 L243.1,416.0 L243.6,417.0 L244.1,416.6 L244.6,416.0 L245.1,416.9 L245.6,416.6 L246.1,415.3 L246.6,417.0 L247.1,416.6 L247.6,416.2 L248.1,416.9 L248.6,417.0 L249.1,416.9 L249.6,413.8 L250.1,416.8 L250.6,416.8 L251.1,417.0 L251.6,416.9 L252.1,416.0 L252.6,416.4 L253.1,417.0 L253.6,417.0 L254.1,417.0 L254.6,416.6 L255.1,416.9 L255.6,416.3 L256.1,416.9 L256.6,417.0 L257.1,417.0 L257.6,416.6 L258.1,417.0 L258.6,417.0 L259.1,416.8 L259.6,416.5 L260.1,416.6 L260.6,416.6 L261.1,416.4 L261.6,417.0 L262.1,416.6 L262.6,416.2 L263.1,416.0 L263.6,415.2 L264.1,416.5 L264.6,417.0 L265.1,417.0 L265.6,416.9 L266.1,417.0 L266.6,415.6 L267.1,417.0 L267.6,415.4 L268.1,416.2 L268.6,416.9 L269.1,416.3 L269.6,416.9 L270.1,416.8 L270.6,415.9 L271.1,416.2 L271.6,417.0 L272.1,416.7 L272.6,416.8 L273.1,415.8 L273.6,416.3 L274.1,417.0 L274.6,416.2 L275.1,414.1 L275.6,416.8 L276.1,416.0 L276.6,415.7 L277.1,416.8 L277.6,416.6 L278.1,416.8 L278.6,416.5 L279.1,416.3 L279.6,415.9 L280.1,416.9 L280.6,416.6 L281.1,416.9 L281.6,417.0 L282.1,415.2 L282.6,417.0 L283.1,416.4 L283.6,416.6 L284.1,417.0 L284.6,415.4 L285.1,415.6 L285.6,416.0 L286.1,415.6 L286.6,415.1 L287.1,416.7 L287.6,416.2 L288.1,416.6 L288.6,416.3 L289.1,416.5 L289.6,416.7 L290.1,415.7 L290.6,416.6 L291.1,416.0 L291.6,416.8 L292.1,416.4 L292.6,414.9 L293.1,416.3 L293.6,417.0 L294.1,416.5 L294.6,414.7 L295.1,416.2 L295.6,415.8 L296.1,414.7 L296.6,414.3 L297.0,414.0 L297.1,414.1 L297.6,413.7 L298.1,409.6 L298.4,407.5 L298.6,409.0 L299.1,412.0 L299.6,415.5 L300.1,415.9 L300.6,416.7 L301.1,416.7 L301.6,416.4 L302.1,417.0 L302.6,415.5 L303.1,416.8 L303.6,416.7 L304.1,417.0 L304.6,417.0 L305.1,416.9 L305.6,416.7 L306.1,416.4 L306.6,417.0 L307.1,417.0 L307.6,416.8 L308.1,416.7 L308.6,416.3 L309.1,417.0 L309.6,417.0 L310.1,416.4 L310.6,416.5 L311.1,417.0 L311.6,417.0 L312.1,416.9 L312.6,417.0 L313.1,416.2 L313.6,416.5 L314.1,416.3 L314.6,416.6 L315.1,415.0 L315.3,415.5 L315.6,415.7 L316.1,416.0 L316.6,417.0 L317.1,416.9 L317.6,417.0 L318.1,416.7 L318.6,416.3 L319.1,417.0 L319.6,415.9 L320.1,416.7 L320.6,417.0 L321.1,417.0 L321.6,416.3 L322.1,417.0 L322.6,417.0 L323.1,417.0 L323.6,416.7 L324.1,416.6 L324.6,417.0 L325.1,417.0 L325.6,415.5 L326.1,416.5 L326.6,415.1 L326.8,415.1 L327.1,415.0 L327.6,416.5 L328.1,416.1 L328.6,416.6 L329.1,416.3 L329.6,416.8 L330.1,416.7 L330.6,416.7 L331.1,417.0 L331.6,417.0 L332.1,416.7 L332.6,416.7 L333.1,417.0 L333.6,415.5 L334.1,415.8 L334.6,413.7 L335.1,416.3 L335.6,416.7 L336.1,415.9 L336.6,417.0 L337.1,416.9 L337.6,416.6 L338.1,416.6 L338.6,414.8 L339.1,414.9 L339.6,417.0 L340.1,416.2 L340.6,416.5 L341.1,416.3 L341.6,416.4 L342.1,416.2 L342.6,416.4 L343.1,417.0 L343.6,417.0 L344.1,417.0 L344.6,416.4 L345.1,417.0 L345.6,417.0 L346.1,414.6 L346.6,416.3 L347.1,417.0 L347.6,416.7 L348.1,416.8 L348.6,416.0 L349.1,414.5 L349.6,416.5 L350.1,416.8 L350.6,415.9 L351.1,416.6 L351.6,416.8 L352.1,417.0 L352.6,416.7 L353.1,416.9 L353.6,416.8 L354.1,416.9 L354.6,416.8 L355.1,416.3 L355.6,416.3 L356.1,416.7 L356.6,416.0 L357.1,416.5 L357.6,416.6 L358.1,417.0 L358.6,415.1 L359.1,416.7 L359.6,417.0 L360.1,417.0 L360.6,417.0 L361.1,416.7 L361.6,416.0 L362.1,416.0 L362.6,416.8 L363.1,416.9 L363.6,416.6 L364.1,417.0 L364.6,416.8 L365.1,416.4 L365.6,416.4 L366.1,417.0 L366.6,416.3 L367.1,417.0 L367.6,417.0 L368.1,417.0 L368.6,416.9 L369.1,417.0 L369.6,416.8 L370.1,417.0 L370.6,417.0 L371.1,416.4 L371.6,416.6 L372.1,416.6 L372.6,416.0 L373.1,416.7 L373.6,415.2 L374.1,416.7 L374.6,416.9 L375.1,416.1 L375.6,416.6 L376.1,416.5 L376.6,416.9 L377.1,416.9 L377.6,416.4 L378.1,416.9 L378.6,416.8 L379.1,417.0 L379.6,417.0 L380.1,416.7 L380.6,416.9 L381.1,415.3 L381.6,416.7 L382.1,416.0 L382.6,416.6 L383.1,416.4 L383.6,416.1 L384.1,416.3 L384.6,416.8 L385.1,417.0 L385.6,417.0 L386.1,416.6 L386.6,417.0 L387.1,416.2 L387.6,416.9 L388.1,416.7 L388.6,416.7 L389.1,417.0 L389.6,417.0 L390.1,416.6 L390.6,416.7 L391.1,417.0 L391.6,416.1 L392.1,416.6 L392.6,416.5 L393.1,416.1 L393.6,416.9 L394.1,417.0 L394.6,416.3 L395.1,416.5 L395.6,417.0 L396.1,416.8 L396.6,416.4 L397.1,417.0 L397.6,416.9 L398.1,416.7 L398.6,417.0 L399.1,416.8 L399.6,417.0 L400.1,416.7 L400.6,416.7 L401.1,416.3 L401.6,417.0 L402.1,417.0 L402.6,417.0 L403.1,416.4 L403.6,416.6 L404.1,417.0 L404.6,416.3 L405.1,417.0 L405.6,417.0 L406.1,417.0 L406.6,416.6 L407.1,417.0 L407.6,416.8 L408.1,416.9 L408.6,415.5 L409.1,416.8 L409.6,417.0 L410.1,416.7 L410.6,416.7 L411.1,415.4 L411.6,415.0 L412.1,417.0 L412.6,417.0 L413.1,416.1 L413.6,416.8 L414.1,417.0 L414.6,414.7 L415.1,415.4 L415.6,417.0 L416.1,416.4 L416.6,416.4 L417.1,416.4 L417.6,416.9 L418.1,417.0 L418.6,416.9 L419.1,417.0 L419.6,414.0 L420.1,416.7 L420.6,416.7 L421.1,415.9 L421.6,417.0 L422.1,417.0 L422.6,416.4 L423.1,416.1 L423.6,417.0 L424.1,416.1 L424.6,415.4 L425.1,416.9 L425.6,416.4 L426.1,415.5 L426.6,416.6 L427.1,415.5 L427.6,415.8 L428.1,416.5 L428.6,417.0 L429.1,417.0 L429.6,416.6 L430.1,416.9 L430.6,416.9 L431.1,416.8 L431.6,416.0 L432.1,417.0 L432.6,416.7 L433.1,414.7 L433.6,417.0 L434.1,417.0 L434.6,417.0 L435.1,416.9 L435.6,416.9 L436.1,416.4 L436.6,415.7 L437.1,417.0 L437.6,414.8 L438.1,417.0 L438.6,416.0 L439.1,417.0 L439.6,417.0 L440.1,416.3 L440.6,416.9 L441.1,416.9 L441.6,416.9 L442.1,416.9 L442.6,417.0 L443.1,416.5 L443.6,416.9 L444.1,416.6 L444.6,416.9 L445.1,416.0 L445.6,416.8 L446.1,415.8 L446.6,416.6 L447.1,416.7 L447.6,416.9 L448.1,417.0 L448.6,416.8 L449.1,417.0 L449.6,416.0 L450.1,416.9 L450.6,417.0 L451.1,416.6 L451.6,416.6 L452.1,417.0 L452.6,417.0 L453.1,417.0 L453.6,416.4 L454.1,415.7 L454.6,417.0 L455.1,417.0 L455.6,416.6 L456.1,416.9 L456.6,416.7 L457.1,416.2 L457.6,416.9 L458.1,415.6 L458.6,416.8 L459.1,414.1 L459.6,416.4 L460.1,416.6 L460.6,417.0 L461.1,416.5 L461.6,416.2 L462.1,416.7 L462.6,416.2 L463.1,416.5 L463.6,415.4 L464.1,416.4 L464.6,417.0 L465.1,415.7 L465.6,415.3 L466.1,415.0 L466.6,417.0 L467.1,416.7 L467.6,416.5 L468.1,417.0 L468.6,415.7 L469.1,416.6 L469.6,416.9 L470.1,417.0 L470.6,416.5 L471.1,416.1 L471.6,416.4 L472.1,416.8 L472.6,416.9 L473.1,417.0 L473.6,416.5 L474.1,416.4 L474.6,417.0 L475.1,417.0 L475.6,417.0 L476.1,417.0 L476.6,414.6 L477.1,416.8 L477.6,416.6 L478.1,417.0 L478.6,415.8 L479.1,416.5 L479.6,416.7 L480.1,416.3 L480.6,416.3 L481.1,417.0 L481.6,417.0 L482.1,417.0 L482.6,416.1 L483.1,416.9 L483.6,416.7 L484.1,417.0 L484.6,416.8 L485.1,417.0 L485.6,416.8 L486.1,416.7 L486.6,416.8 L487.1,416.6 L487.6,416.7 L488.1,416.6 L488.6,416.8 L489.1,416.9 L489.6,416.5 L490.1,416.9 L490.6,417.0 L491.1,415.7 L491.6,416.6 L492.1,416.7 L492.6,415.8 L493.1,417.0 L493.6,415.8 L494.1,416.2 L494.6,416.8 L495.1,416.5 L495.6,417.0 L496.1,416.8 L496.6,415.7 L497.1,416.1 L497.6,416.4 L498.1,416.3 L498.6,416.9 L499.1,416.3 L499.6,415.7 L500.1,417.0 L500.6,417.0 L501.1,416.3 L501.6,416.7 L502.1,416.9 L502.6,416.7 L503.1,417.0 L503.6,417.0 L504.1,414.8 L504.6,416.7 L505.1,417.0 L505.6,417.0 L506.1,416.5 L506.6,416.7 L507.1,416.8 L507.6,416.4 L508.1,417.0 L508.6,417.0 L509.1,416.9 L509.6,416.8 L510.1,415.7 L510.6,416.5 L511.1,416.8 L511.6,416.7 L512.1,417.0 L512.6,416.6 L513.0,417.0Z" fill="#2d9a3a"/>
<line x1="29.6" y1="416.90" x2="513.0" y2="416.90" stroke="#2d9a3a" stroke-width="1.2"/>
<text x="31.37" y="436.00" font-size="8.59" textLength="57.49" lengthAdjust="spacingAndGlyphs" font-weight="bold" id="tr6" fill="#5c2d7e">H3K27ac 0 Dox</text>
<path d="M29.6,442.3 L29.6,442.0 L30.1,442.3 L30.6,442.3 L31.1,442.3 L31.6,442.3 L32.1,441.6 L32.6,442.3 L33.1,441.9 L33.6,442.3 L34.1,442.3 L34.6,442.3 L35.1,442.3 L35.6,442.3 L36.1,442.3 L36.6,442.3 L37.1,442.3 L37.6,442.3 L38.1,442.3 L38.6,442.3 L39.1,442.3 L39.6,442.3 L40.1,442.3 L40.6,442.3 L41.1,442.3 L41.6,441.8 L42.1,442.3 L42.6,442.3 L43.1,442.3 L43.6,442.3 L44.1,442.3 L44.6,442.3 L45.1,442.3 L45.6,442.3 L46.1,442.3 L46.6,442.3 L47.1,442.3 L47.6,442.3 L48.1,441.1 L48.6,442.3 L49.1,442.3 L49.6,442.3 L50.1,442.3 L50.6,442.3 L51.1,442.3 L51.6,442.3 L52.1,442.3 L52.6,442.3 L53.1,442.3 L53.6,442.3 L54.1,442.3 L54.6,442.3 L55.1,442.3 L55.6,442.3 L56.1,442.3 L56.6,442.3 L57.1,440.8 L57.6,442.3 L58.1,442.3 L58.6,442.3 L59.1,442.3 L59.6,441.9 L60.1,442.3 L60.6,442.3 L61.1,442.3 L61.6,442.3 L62.1,442.3 L62.6,442.3 L63.1,442.3 L63.6,442.3 L64.1,442.3 L64.6,442.3 L65.1,442.2 L65.6,440.7 L66.1,442.0 L66.6,442.3 L67.1,442.3 L67.6,442.3 L68.1,442.3 L68.6,442.3 L69.1,442.3 L69.6,442.1 L70.1,442.1 L70.6,442.3 L71.1,441.1 L71.6,442.3 L72.1,442.3 L72.6,442.3 L73.1,442.3 L73.6,441.7 L74.1,442.3 L74.6,442.3 L75.1,442.3 L75.6,442.3 L76.1,442.3 L76.6,442.3 L77.1,442.3 L77.6,442.3 L78.1,442.3 L78.6,442.3 L79.1,442.3 L79.6,442.3 L80.1,442.3 L80.6,441.9 L81.1,442.3 L81.6,441.8 L82.1,442.3 L82.6,442.3 L83.1,442.3 L83.6,441.4 L84.1,441.7 L84.6,442.3 L85.1,442.3 L85.6,439.8 L86.1,442.3 L86.6,442.3 L87.1,442.3 L87.6,442.3 L88.1,442.3 L88.6,442.3 L89.1,442.3 L89.6,442.3 L90.1,442.3 L90.6,442.3 L91.1,442.3 L91.6,442.3 L92.1,440.7 L92.6,442.3 L93.1,442.3 L93.6,442.2 L94.1,442.3 L94.6,442.3 L95.1,442.3 L95.6,442.3 L96.1,442.3 L96.6,442.3 L97.1,442.3 L97.6,442.3 L98.1,442.3 L98.6,441.4 L99.1,442.3 L99.6,442.3 L100.1,442.3 L100.6,442.3 L101.1,442.3 L101.6,442.3 L102.1,442.3 L102.6,441.4 L103.1,442.3 L103.6,442.3 L104.1,442.3 L104.6,442.3 L105.1,442.3 L105.6,442.3 L106.1,440.2 L106.6,442.3 L107.1,442.3 L107.6,442.3 L108.1,442.3 L108.6,441.8 L109.1,442.3 L109.6,442.3 L110.1,442.3 L110.6,442.3 L111.1,442.3 L111.6,442.3 L112.1,442.3 L112.6,442.3 L113.1,442.3 L113.6,442.3 L114.1,442.3 L114.6,442.3 L115.1,442.3 L115.6,442.3 L116.1,442.3 L116.6,442.3 L117.1,442.3 L117.6,442.3 L118.1,442.3 L118.6,440.5 L119.1,436.1 L119.6,439.2 L120.1,441.9 L120.6,442.3 L121.1,442.3 L121.6,442.3 L122.1,441.9 L122.6,442.3 L123.1,442.3 L123.6,442.3 L124.1,442.3 L124.6,442.3 L125.1,442.3 L125.6,441.9 L126.1,442.3 L126.6,442.3 L127.1,442.3 L127.6,442.3 L128.1,442.3 L128.6,442.3 L129.1,442.3 L129.6,442.3 L130.1,442.3 L130.6,442.3 L131.1,442.3 L131.6,442.3 L132.1,442.3 L132.6,442.3 L133.1,442.3 L133.6,442.3 L134.1,440.5 L134.4,437.3 L134.6,438.7 L135.1,442.2 L135.6,442.0 L136.1,442.3 L136.6,441.3 L137.1,442.3 L137.6,442.3 L138.1,442.3 L138.6,442.2 L139.1,442.3 L139.6,440.9 L140.1,442.3 L140.6,442.3 L141.1,442.3 L141.6,442.3 L142.1,442.3 L142.6,442.3 L143.1,442.3 L143.6,442.3 L144.1,442.3 L144.6,442.3 L145.1,442.3 L145.6,442.3 L146.1,442.3 L146.6,442.3 L147.1,442.3 L147.6,442.3 L148.1,442.3 L148.6,442.3 L149.1,442.3 L149.6,442.3 L150.1,441.7 L150.6,442.3 L151.1,442.3 L151.6,442.3 L152.1,442.3 L152.6,442.3 L153.1,442.3 L153.6,442.3 L154.1,442.3 L154.6,441.0 L155.1,442.3 L155.6,442.3 L156.1,442.3 L156.6,442.3 L157.1,442.3 L157.6,442.2 L158.1,442.3 L158.6,442.3 L159.1,442.3 L159.6,442.3 L160.1,442.3 L160.6,442.3 L161.1,442.3 L161.6,441.6 L162.1,442.3 L162.6,442.3 L163.1,442.3 L163.6,439.7 L164.1,441.1 L164.6,432.8 L165.1,418.9 L165.5,418.9 L165.6,418.9 L166.1,421.2 L166.6,437.6 L167.1,441.9 L167.6,442.3 L168.1,442.3 L168.6,442.3 L169.1,442.3 L169.6,442.3 L170.1,442.3 L170.6,442.3 L171.1,442.3 L171.6,442.3 L172.1,442.3 L172.6,442.3 L173.1,442.3 L173.6,442.1 L174.1,442.3 L174.6,441.6 L175.1,442.3 L175.6,442.3 L176.1,442.3 L176.6,442.3 L177.1,442.3 L177.6,440.9 L178.1,442.3 L178.6,442.3 L179.1,442.3 L179.6,442.3 L180.1,442.3 L180.6,441.9 L181.1,442.3 L181.6,442.3 L182.1,442.3 L182.6,442.3 L183.1,442.3 L183.6,442.2 L184.1,442.3 L184.6,442.3 L185.1,442.3 L185.6,442.3 L186.1,442.3 L186.6,442.3 L187.1,442.3 L187.6,441.3 L188.1,442.3 L188.6,442.3 L189.1,442.3 L189.6,442.3 L190.1,442.3 L190.6,442.3 L191.1,441.5 L191.6,442.3 L192.1,442.3 L192.6,442.3 L193.1,442.3 L193.6,441.3 L194.1,442.3 L194.6,440.9 L195.1,442.1 L195.6,441.7 L196.1,442.3 L196.6,440.5 L197.1,442.3 L197.6,442.3 L198.1,442.3 L198.6,442.3 L199.1,442.1 L199.6,442.3 L200.1,442.3 L200.6,442.3 L201.1,442.3 L201.6,442.3 L202.1,441.9 L202.6,442.3 L203.1,442.3 L203.6,442.3 L204.1,441.8 L204.6,442.3 L205.1,442.3 L205.6,442.3 L206.1,442.3 L206.6,441.2 L207.1,442.3 L207.6,442.3 L208.1,441.7 L208.6,442.3 L209.1,441.4 L209.6,442.3 L210.1,442.3 L210.6,442.3 L211.1,442.3 L211.6,442.3 L212.1,442.3 L212.6,442.3 L213.1,442.3 L213.6,442.3 L214.1,442.3 L214.6,442.3 L215.1,442.3 L215.6,442.3 L216.1,442.2 L216.6,442.3 L217.1,441.7 L217.6,442.3 L218.1,442.3 L218.6,442.3 L219.1,442.3 L219.6,442.3 L220.1,440.9 L220.6,442.3 L221.1,442.3 L221.6,442.3 L222.1,442.3 L222.6,442.3 L223.1,441.8 L223.6,442.3 L224.1,442.3 L224.6,442.3 L225.1,442.3 L225.6,442.3 L226.1,442.3 L226.6,441.9 L227.1,442.3 L227.6,442.3 L228.1,442.3 L228.6,441.4 L229.1,442.3 L229.6,442.3 L230.1,442.3 L230.6,441.8 L231.1,442.3 L231.6,442.3 L232.1,442.3 L232.6,442.2 L233.1,442.3 L233.6,442.3 L234.1,442.3 L234.6,442.3 L235.1,442.1 L235.6,437.7 L236.0,433.3 L236.1,433.6 L236.6,438.0 L237.0,436.1 L237.1,436.5 L237.6,440.9 L238.1,442.3 L238.6,442.3 L239.1,442.3 L239.6,442.3 L240.1,442.3 L240.6,442.3 L241.1,442.3 L241.6,442.3 L242.1,442.3 L242.6,441.7 L243.1,442.3 L243.6,442.3 L244.1,442.3 L244.6,442.3 L245.1,442.3 L245.6,442.3 L246.1,442.1 L246.6,442.3 L247.1,442.3 L247.6,442.3 L248.1,442.3 L248.6,440.6 L249.1,441.7 L249.6,442.3 L250.1,442.3 L250.6,442.3 L251.1,442.3 L251.6,442.3 L252.1,442.3 L252.6,442.3 L253.1,442.3 L253.6,442.3 L254.1,442.3 L254.6,442.3 L255.1,442.3 L255.6,442.3 L256.1,442.3 L256.6,442.3 L257.1,442.3 L257.6,442.1 L258.1,442.3 L258.6,442.3 L259.1,442.3 L259.6,442.3 L260.1,442.3 L260.6,442.3 L261.1,442.2 L261.6,442.3 L262.1,442.3 L262.6,442.3 L263.1,442.3 L263.6,442.3 L264.1,442.3 L264.6,442.3 L265.1,442.3 L265.6,442.3 L266.1,442.3 L266.6,442.3 L267.1,442.2 L267.6,442.3 L268.1,442.3 L268.6,442.3 L269.1,442.3 L269.6,442.3 L270.1,442.3 L270.6,442.3 L271.1,442.3 L271.6,442.2 L272.1,441.2 L272.6,439.7 L273.1,438.6 L273.2,438.5 L273.6,439.3 L274.1,441.2 L274.6,442.1 L275.1,442.3 L275.6,442.3 L276.1,442.3 L276.6,442.3 L277.1,442.3 L277.6,442.3 L278.1,442.3 L278.6,442.1 L279.1,442.3 L279.6,442.3 L280.1,442.3 L280.6,442.3 L281.1,442.0 L281.6,442.3 L282.1,441.8 L282.6,442.3 L283.1,442.3 L283.6,442.3 L284.1,442.3 L284.6,442.3 L285.1,442.3 L285.6,442.3 L286.1,442.3 L286.6,442.3 L287.1,442.3 L287.6,442.3 L288.1,442.3 L288.6,442.3 L289.1,442.3 L289.6,442.3 L290.1,442.3 L290.6,441.7 L291.1,442.1 L291.6,442.3 L292.1,442.3 L292.6,442.3 L293.1,442.3 L293.6,442.3 L294.1,442.3 L294.6,442.3 L295.1,442.3 L295.6,442.3 L296.1,442.3 L296.6,442.3 L297.1,442.3 L297.6,441.4 L298.1,429.3 L298.4,421.4 L298.6,421.9 L299.1,429.7 L299.6,434.7 L300.1,438.0 L300.6,439.2 L301.1,440.4 L301.6,441.4 L302.1,441.9 L302.6,441.6 L303.1,442.3 L303.6,442.3 L304.1,442.3 L304.6,442.3 L305.1,439.3 L305.6,442.1 L306.1,442.3 L306.6,441.9 L307.1,442.3 L307.6,442.3 L308.1,442.3 L308.6,442.3 L309.1,442.3 L309.6,442.1 L310.1,442.1 L310.6,442.3 L311.1,442.3 L311.6,442.1 L312.1,442.3 L312.6,442.3 L313.1,442.3 L313.6,442.3 L314.1,442.3 L314.6,442.3 L315.1,441.8 L315.6,442.3 L316.1,442.1 L316.6,442.3 L317.1,442.3 L317.6,442.3 L318.1,442.3 L318.6,442.3 L319.1,442.3 L319.6,442.3 L320.1,442.3 L320.6,442.3 L321.1,442.3 L321.6,442.3 L322.1,442.3 L322.6,442.3 L323.1,442.3 L323.6,442.3 L324.1,442.3 L324.6,442.3 L325.1,442.3 L325.6,442.3 L326.1,442.3 L326.6,442.3 L327.1,442.3 L327.6,442.3 L328.1,441.9 L328.6,442.3 L329.1,442.3 L329.6,442.3 L330.1,442.3 L330.6,442.3 L331.1,441.5 L331.6,442.3 L332.1,442.3 L332.6,442.3 L333.1,441.9 L333.6,442.3 L334.1,442.3 L334.6,442.3 L335.1,442.3 L335.6,442.3 L336.1,442.3 L336.6,442.3 L337.1,442.3 L337.6,442.3 L338.1,442.3 L338.6,441.6 L339.1,442.3 L339.6,442.3 L340.1,442.1 L340.6,442.3 L341.1,442.3 L341.6,442.3 L342.1,442.3 L342.6,442.3 L343.1,442.1 L343.6,442.3 L344.1,442.3 L344.6,442.1 L345.1,442.3 L345.6,442.3 L346.1,440.5 L346.6,442.3 L347.1,442.3 L347.6,441.7 L348.1,442.3 L348.6,442.3 L349.1,442.3 L349.6,442.3 L350.1,442.3 L350.6,442.0 L351.1,442.3 L351.6,442.3 L352.1,442.3 L352.6,440.9 L353.1,442.3 L353.6,442.3 L354.1,442.3 L354.6,442.3 L355.1,441.6 L355.6,442.3 L356.1,442.3 L356.6,442.3 L357.1,442.3 L357.6,442.3 L358.1,442.3 L358.6,442.3 L359.1,442.3 L359.6,442.3 L360.1,442.3 L360.6,442.3 L361.1,442.3 L361.6,442.3 L362.1,442.3 L362.6,442.3 L363.1,442.3 L363.6,442.3 L364.1,442.3 L364.6,442.3 L365.1,442.3 L365.6,442.3 L366.1,442.1 L366.6,442.3 L367.1,440.6 L367.6,442.3 L368.1,442.3 L368.6,442.3 L369.1,442.3 L369.6,442.3 L370.1,442.3 L370.6,442.3 L371.1,442.1 L371.6,442.3 L372.1,442.3 L372.6,442.3 L373.1,442.3 L373.6,442.3 L374.1,442.3 L374.6,442.3 L375.1,442.3 L375.6,442.3 L376.1,442.3 L376.6,442.3 L377.1,442.3 L377.6,442.3 L378.1,442.3 L378.6,442.3 L379.1,442.3 L379.6,442.1 L380.1,442.3 L380.6,442.3 L381.1,442.3 L381.6,442.3 L382.1,442.3 L382.6,442.3 L383.1,441.4 L383.6,442.3 L384.1,442.3 L384.6,442.3 L385.1,442.3 L385.6,442.3 L386.1,442.3 L386.6,442.3 L387.1,440.3 L387.6,442.3 L388.1,442.3 L388.6,442.3 L389.1,441.7 L389.6,441.4 L390.1,442.3 L390.6,442.3 L391.1,442.3 L391.6,442.3 L392.1,442.3 L392.6,442.3 L393.1,442.3 L393.6,442.3 L394.1,442.3 L394.6,442.3 L395.1,442.3 L395.6,442.3 L396.1,442.3 L396.6,442.3 L397.1,442.3 L397.6,442.3 L398.1,442.3 L398.6,442.3 L399.1,442.3 L399.6,442.3 L400.1,442.3 L400.6,442.3 L401.1,442.3 L401.6,442.3 L402.1,442.3 L402.6,442.3 L403.1,442.3 L403.6,442.3 L404.1,442.3 L404.6,442.3 L405.1,442.3 L405.6,441.2 L406.1,442.3 L406.6,442.3 L407.1,441.8 L407.6,442.3 L408.1,442.3 L408.6,442.3 L409.1,442.3 L409.6,442.3 L410.1,442.3 L410.6,442.3 L411.1,442.3 L411.6,442.3 L412.1,442.3 L412.6,442.3 L413.1,442.3 L413.6,442.3 L414.1,442.3 L414.6,442.3 L415.1,442.3 L415.6,442.2 L416.1,442.3 L416.6,442.3 L417.1,442.3 L417.6,442.3 L418.1,442.3 L418.6,442.3 L419.1,442.3 L419.6,442.3 L420.1,442.3 L420.6,442.3 L421.1,442.3 L421.6,442.3 L422.1,442.3 L422.6,442.3 L423.1,442.0 L423.6,442.3 L424.1,442.3 L424.6,442.3 L425.1,442.3 L425.6,442.3 L426.1,442.3 L426.6,442.3 L427.1,442.3 L427.6,442.3 L428.1,441.9 L428.6,442.3 L429.1,441.8 L429.6,441.7 L430.1,442.3 L430.6,442.3 L431.1,442.3 L431.6,442.3 L432.1,442.3 L432.6,442.1 L433.1,442.3 L433.6,442.3 L434.1,439.7 L434.6,442.3 L435.1,442.3 L435.6,442.3 L436.1,442.3 L436.6,442.3 L437.1,442.3 L437.6,442.3 L438.1,442.3 L438.6,442.3 L439.1,442.3 L439.6,441.9 L440.1,442.3 L440.6,441.8 L441.1,442.3 L441.6,442.3 L442.1,442.3 L442.6,442.3 L443.1,442.3 L443.6,442.3 L444.1,442.3 L444.6,441.7 L445.1,442.3 L445.6,442.3 L446.1,442.3 L446.6,442.3 L447.1,442.3 L447.6,442.3 L448.1,442.3 L448.6,442.3 L449.1,442.3 L449.6,442.3 L450.1,441.4 L450.6,442.3 L451.1,442.3 L451.6,442.3 L452.1,442.3 L452.6,442.3 L453.1,441.1 L453.6,441.5 L454.1,441.4 L454.6,442.2 L455.1,442.3 L455.6,442.3 L456.1,442.3 L456.6,442.3 L457.1,442.3 L457.6,442.3 L458.1,442.3 L458.6,442.3 L459.1,442.3 L459.6,442.3 L460.1,442.3 L460.6,442.3 L461.1,442.3 L461.6,442.3 L462.1,442.3 L462.6,442.3 L463.1,442.3 L463.6,442.3 L464.1,442.3 L464.6,440.2 L465.1,442.3 L465.6,442.3 L466.1,442.3 L466.6,442.3 L467.1,442.3 L467.6,442.0 L468.1,442.3 L468.6,442.3 L469.1,442.3 L469.6,442.3 L470.1,442.3 L470.6,442.3 L471.1,442.3 L471.6,442.3 L472.1,441.2 L472.6,441.8 L473.1,442.3 L473.6,441.6 L474.1,442.3 L474.6,442.3 L475.1,442.3 L475.6,442.3 L476.1,442.3 L476.6,442.0 L477.1,442.3 L477.6,442.3 L478.1,442.3 L478.6,442.3 L479.1,442.3 L479.6,442.3 L480.1,442.3 L480.6,442.3 L481.1,442.3 L481.6,442.3 L482.1,442.3 L482.6,442.3 L483.1,442.3 L483.6,442.3 L484.1,442.2 L484.6,442.1 L485.1,442.3 L485.6,442.3 L486.1,442.3 L486.6,442.3 L487.1,442.3 L487.6,442.3 L488.1,441.6 L488.6,440.5 L489.1,442.3 L489.6,442.3 L490.1,442.3 L490.6,442.3 L491.1,442.3 L491.6,442.3 L492.1,442.3 L492.6,442.3 L493.1,442.3 L493.6,442.3 L494.1,442.3 L494.6,442.3 L495.1,442.3 L495.6,442.3 L496.1,442.3 L496.6,441.3 L497.1,442.3 L497.6,442.3 L498.1,442.3 L498.6,442.3 L499.1,442.3 L499.6,442.3 L500.1,442.3 L500.6,442.2 L501.1,442.3 L501.6,441.9 L502.1,442.3 L502.6,440.4 L503.1,442.3 L503.6,442.3 L504.1,442.3 L504.6,442.3 L505.1,442.3 L505.6,441.8 L506.1,442.3 L506.6,442.3 L507.1,442.3 L507.6,442.3 L508.1,441.9 L508.6,442.0 L509.1,439.4 L509.5,438.7 L509.6,439.4 L510.1,439.1 L510.6,442.2 L511.1,442.3 L511.6,442.3 L512.1,442.3 L512.6,442.3 L513.0,442.3Z" fill="#6a2c91"/>
<line x1="29.6" y1="442.25" x2="513.0" y2="442.25" stroke="#6a2c91" stroke-width="1.1"/>
<rect x="164.6" y="418.90" width="1.8" height="1" fill="#e05090"/>
<text x="31.37" y="460.40" font-size="8.59" textLength="57.49" lengthAdjust="spacingAndGlyphs" font-weight="bold" id="tr7" fill="#5c2d7e">H3K27ac 5 Dox</text>
<path d="M29.6,466.4 L29.6,466.1 L30.1,466.4 L30.6,466.4 L31.1,466.4 L31.6,466.4 L32.1,466.4 L32.6,466.4 L33.1,466.4 L33.6,466.4 L34.1,466.4 L34.6,466.4 L35.1,466.4 L35.6,465.5 L36.1,466.4 L36.6,466.4 L37.1,464.7 L37.6,466.4 L38.1,466.3 L38.6,466.4 L39.1,466.4 L39.6,466.4 L40.1,466.4 L40.6,466.4 L41.1,466.4 L41.6,466.4 L42.1,466.4 L42.6,465.1 L43.1,466.4 L43.6,466.4 L44.1,466.4 L44.6,466.4 L45.1,466.4 L45.6,466.4 L46.1,466.4 L46.6,466.4 L47.1,466.2 L47.6,466.4 L48.1,466.4 L48.6,466.4 L49.1,465.7 L49.6,466.2 L50.1,465.9 L50.6,466.4 L51.1,466.4 L51.6,466.4 L52.1,466.4 L52.6,466.4 L53.1,464.8 L53.6,466.4 L54.1,466.4 L54.6,464.8 L55.1,466.4 L55.6,466.4 L56.1,466.4 L56.6,466.4 L57.1,466.4 L57.6,466.4 L58.1,466.4 L58.6,466.4 L59.1,466.4 L59.6,465.5 L60.1,466.4 L60.6,466.4 L61.1,466.4 L61.6,466.4 L62.1,466.4 L62.6,466.4 L63.1,466.4 L63.6,466.4 L64.1,466.4 L64.6,466.4 L65.1,465.4 L65.6,466.4 L66.1,466.4 L66.6,466.4 L67.1,465.1 L67.6,466.4 L68.1,466.4 L68.6,466.4 L69.1,466.0 L69.6,466.4 L70.1,466.1 L70.6,466.3 L71.1,466.4 L71.6,466.4 L72.1,465.0 L72.6,466.4 L73.1,466.3 L73.6,466.4 L74.1,466.4 L74.6,466.4 L75.1,466.1 L75.6,466.4 L76.1,465.9 L76.6,466.4 L77.1,466.4 L77.6,465.7 L78.1,466.3 L78.6,465.9 L79.1,466.2 L79.6,464.8 L80.1,465.6 L80.6,466.4 L81.1,466.4 L81.6,466.4 L82.1,466.4 L82.6,466.4 L83.1,466.4 L83.6,465.5 L84.1,465.9 L84.6,466.4 L85.1,466.4 L85.6,466.4 L86.1,466.4 L86.6,466.4 L87.1,466.0 L87.6,466.4 L88.1,466.4 L88.6,466.4 L89.1,466.4 L89.6,466.4 L90.1,466.4 L90.6,466.4 L91.1,466.4 L91.6,466.4 L92.1,466.2 L92.6,466.4 L93.1,466.4 L93.6,466.4 L94.1,466.4 L94.6,466.4 L95.1,465.6 L95.6,465.9 L96.1,466.4 L96.6,466.4 L97.1,466.4 L97.6,466.4 L98.1,466.4 L98.6,464.8 L99.1,466.4 L99.6,466.4 L100.1,466.4 L100.6,466.4 L101.1,466.4 L101.6,466.4 L102.1,466.4 L102.6,466.4 L103.1,466.4 L103.6,466.4 L104.1,466.4 L104.6,466.4 L105.1,466.4 L105.6,466.4 L106.1,466.4 L106.6,466.2 L107.1,466.4 L107.6,466.4 L108.1,466.4 L108.6,466.4 L109.1,466.4 L109.6,466.4 L110.1,466.4 L110.6,464.9 L111.1,466.0 L111.6,466.4 L112.1,466.2 L112.6,466.4 L113.1,466.4 L113.6,466.4 L114.1,466.4 L114.6,466.4 L115.1,466.4 L115.6,466.4 L116.1,466.4 L116.6,466.4 L117.1,466.4 L117.6,466.4 L118.1,466.4 L118.6,465.1 L119.1,462.0 L119.6,464.2 L120.1,466.1 L120.6,466.4 L121.1,466.4 L121.6,466.4 L122.1,466.4 L122.6,466.4 L123.1,466.4 L123.6,466.4 L124.1,466.4 L124.6,466.4 L125.1,466.4 L125.6,466.4 L126.1,466.4 L126.6,466.4 L127.1,466.4 L127.6,466.4 L128.1,466.4 L128.6,466.4 L129.1,466.4 L129.6,466.4 L130.1,466.4 L130.6,466.4 L131.1,466.1 L131.6,466.4 L132.1,466.4 L132.6,466.4 L133.1,466.4 L133.6,466.4 L134.1,465.5 L134.4,464.9 L134.6,464.6 L135.1,466.3 L135.6,466.4 L136.1,465.6 L136.6,466.4 L137.1,466.4 L137.6,466.4 L138.1,466.4 L138.6,464.4 L139.1,466.4 L139.6,466.4 L140.1,466.4 L140.6,465.4 L141.1,466.4 L141.6,466.4 L142.1,466.4 L142.6,466.4 L143.1,466.4 L143.6,465.7 L144.1,466.2 L144.6,466.3 L145.1,466.4 L145.6,466.4 L146.1,466.4 L146.6,466.4 L147.1,466.4 L147.6,466.4 L148.1,466.4 L148.6,466.4 L149.1,465.2 L149.6,466.4 L150.1,466.4 L150.6,466.4 L151.1,466.2 L151.6,466.4 L152.1,466.4 L152.6,466.4 L153.1,466.4 L153.6,465.3 L154.1,466.4 L154.6,466.4 L155.1,464.8 L155.6,466.4 L156.1,466.4 L156.6,466.4 L157.1,466.4 L157.6,466.4 L158.1,463.6 L158.6,466.4 L159.1,466.4 L159.6,466.4 L160.1,466.4 L160.6,466.4 L161.1,466.2 L161.6,466.4 L162.1,466.2 L162.6,465.8 L163.1,465.3 L163.6,466.3 L164.1,465.2 L164.6,456.9 L165.1,443.0 L165.5,443.0 L165.6,443.0 L166.1,445.3 L166.6,461.7 L167.1,466.0 L167.6,466.4 L168.1,466.4 L168.6,466.4 L169.1,466.4 L169.6,466.4 L170.1,466.4 L170.6,466.4 L171.1,466.4 L171.6,466.3 L172.1,466.4 L172.6,466.4 L173.1,466.4 L173.6,466.4 L174.1,466.4 L174.6,466.4 L175.1,466.4 L175.6,466.1 L176.1,466.4 L176.6,466.4 L177.1,466.4 L177.6,466.4 L178.1,466.4 L178.6,466.4 L179.1,466.4 L179.6,466.4 L180.1,466.4 L180.6,466.3 L181.1,466.4 L181.6,466.4 L182.1,466.4 L182.6,466.4 L183.1,466.4 L183.6,466.4 L184.1,466.4 L184.6,466.4 L185.1,466.4 L185.6,466.2 L186.1,466.3 L186.6,466.4 L187.1,466.4 L187.6,466.4 L188.1,466.4 L188.6,466.4 L189.1,466.4 L189.6,466.4 L190.1,466.4 L190.6,466.4 L191.1,466.4 L191.6,466.2 L192.1,466.4 L192.6,466.4 L193.1,466.4 L193.6,466.4 L194.1,466.4 L194.6,466.4 L195.1,466.4 L195.6,466.4 L196.1,466.4 L196.6,466.4 L197.1,466.4 L197.6,466.4 L198.1,466.3 L198.6,466.4 L199.1,466.4 L199.6,466.2 L200.1,466.4 L200.6,466.4 L201.1,466.4 L201.6,466.4 L202.1,466.4 L202.6,466.0 L203.1,466.4 L203.6,465.9 L204.1,466.4 L204.6,466.4 L205.1,466.4 L205.6,466.4 L206.1,466.4 L206.6,466.4 L207.1,466.4 L207.6,466.4 L208.1,466.4 L208.6,466.4 L209.1,466.4 L209.6,466.4 L210.1,466.4 L210.6,466.4 L211.1,466.4 L211.6,466.3 L212.1,466.4 L212.6,463.8 L213.1,466.4 L213.6,466.4 L214.1,466.4 L214.6,466.4 L215.1,466.4 L215.6,466.4 L216.1,466.4 L216.6,466.4 L217.1,466.4 L217.6,466.4 L218.1,466.4 L218.6,466.4 L219.1,466.4 L219.6,466.4 L220.1,466.4 L220.6,466.4 L221.1,466.4 L221.6,466.4 L222.1,466.4 L222.6,466.4 L223.1,466.4 L223.6,466.4 L224.1,466.4 L224.6,465.3 L225.1,466.4 L225.6,466.4 L226.1,466.4 L226.6,465.9 L227.1,466.4 L227.6,466.4 L228.1,466.4 L228.6,466.4 L229.1,466.4 L229.6,466.4 L230.1,466.2 L230.6,466.4 L231.1,466.4 L231.6,466.4 L232.1,466.4 L232.6,466.4 L233.1,466.4 L233.6,466.4 L234.1,466.1 L234.6,464.1 L235.1,466.4 L235.6,466.0 L236.1,462.1 L236.3,463.4 L236.6,464.3 L237.1,466.2 L237.6,466.4 L238.1,465.9 L238.6,466.4 L239.1,466.4 L239.6,466.4 L240.1,466.4 L240.6,465.9 L241.1,466.4 L241.6,466.4 L242.1,466.4 L242.6,466.3 L243.1,466.4 L243.6,466.4 L244.1,466.4 L244.6,466.4 L245.1,466.4 L245.6,466.4 L246.1,466.4 L246.6,466.4 L247.1,466.4 L247.6,466.4 L248.1,466.4 L248.6,466.4 L249.1,466.4 L249.6,466.4 L250.1,465.8 L250.6,466.4 L251.1,466.4 L251.6,466.4 L252.1,466.4 L252.6,466.4 L253.1,466.4 L253.6,466.4 L254.1,465.0 L254.6,466.4 L255.1,466.4 L255.6,466.4 L256.1,466.4 L256.6,466.4 L257.1,466.4 L257.6,466.4 L258.1,466.4 L258.6,466.4 L259.1,466.4 L259.6,466.4 L260.1,466.4 L260.6,466.4 L261.1,466.4 L261.6,466.4 L262.1,466.4 L262.6,466.4 L263.1,466.4 L263.6,466.4 L264.1,466.4 L264.6,466.4 L265.1,466.3 L265.6,466.4 L266.1,466.4 L266.6,466.4 L267.1,466.4 L267.6,466.1 L268.1,466.4 L268.6,465.9 L269.1,466.4 L269.6,466.4 L270.1,466.4 L270.6,466.4 L271.1,466.4 L271.6,466.3 L272.1,466.2 L272.6,465.5 L273.1,464.9 L273.2,463.9 L273.6,465.2 L274.1,466.0 L274.6,465.8 L275.1,466.4 L275.6,466.4 L276.1,466.4 L276.6,465.2 L277.1,466.4 L277.6,466.4 L278.1,466.4 L278.6,466.4 L279.1,466.4 L279.6,466.0 L280.1,466.4 L280.6,466.1 L281.1,466.4 L281.6,466.3 L282.1,466.4 L282.6,466.4 L283.1,466.4 L283.6,466.4 L284.1,466.4 L284.6,466.4 L285.1,466.4 L285.6,466.3 L286.1,466.4 L286.6,466.4 L287.1,466.4 L287.6,465.7 L288.1,466.4 L288.6,466.4 L289.1,466.4 L289.6,466.4 L290.1,466.4 L290.6,466.4 L291.1,466.4 L291.6,466.4 L292.1,466.4 L292.6,466.4 L293.1,466.2 L293.6,466.4 L294.1,466.4 L294.6,466.4 L295.1,466.4 L295.6,466.4 L296.1,466.4 L296.6,466.4 L297.1,466.4 L297.6,465.5 L298.1,453.7 L298.4,445.9 L298.6,446.9 L299.1,454.1 L299.6,459.9 L300.1,462.1 L300.6,463.3 L301.1,464.5 L301.6,465.3 L302.1,465.8 L302.6,466.3 L303.1,465.7 L303.6,466.4 L304.1,466.4 L304.6,466.4 L305.1,466.4 L305.6,466.4 L306.1,466.4 L306.6,466.4 L307.1,466.4 L307.6,465.6 L308.1,466.4 L308.6,466.4 L309.1,466.3 L309.6,466.4 L310.1,466.4 L310.6,466.4 L311.1,466.4 L311.6,466.4 L312.1,466.4 L312.6,466.4 L313.1,466.4 L313.6,466.4 L314.1,466.4 L314.6,466.4 L315.1,466.4 L315.6,466.4 L316.1,466.4 L316.6,466.4 L317.1,466.4 L317.6,466.4 L318.1,466.4 L318.6,466.4 L319.1,466.4 L319.6,466.4 L320.1,466.4 L320.6,466.4 L321.1,466.4 L321.6,466.4 L322.1,466.2 L322.6,466.4 L323.1,466.4 L323.6,466.4 L324.1,466.4 L324.6,466.4 L325.1,466.4 L325.6,466.4 L326.1,466.4 L326.6,466.4 L327.1,466.4 L327.6,466.4 L328.1,466.4 L328.6,466.4 L329.1,466.4 L329.6,466.4 L330.1,466.4 L330.6,466.4 L331.1,466.4 L331.6,466.4 L332.1,466.4 L332.6,466.4 L333.1,466.4 L333.6,466.4 L334.1,466.4 L334.6,466.4 L335.1,466.4 L335.6,466.4 L336.1,466.4 L336.6,466.4 L337.1,466.4 L337.6,466.4 L338.1,466.4 L338.6,466.4 L339.1,466.4 L339.6,466.4 L340.1,466.4 L340.6,466.3 L341.1,465.8 L341.6,466.4 L342.1,466.4 L342.6,465.8 L343.1,466.4 L343.6,466.4 L344.1,466.4 L344.6,466.4 L345.1,466.4 L345.6,466.4 L346.1,466.4 L346.6,466.4 L347.1,466.4 L347.6,466.4 L348.1,466.4 L348.6,466.4 L349.1,466.4 L349.6,466.4 L350.1,466.2 L350.6,466.3 L351.1,466.4 L351.6,466.4 L352.1,466.4 L352.6,466.4 L353.1,466.1 L353.6,466.2 L354.1,466.4 L354.6,466.4 L355.1,466.2 L355.6,466.4 L356.1,466.4 L356.6,466.4 L357.1,466.4 L357.6,466.4 L358.1,466.4 L358.6,465.7 L359.1,466.4 L359.6,466.4 L360.1,466.4 L360.6,466.4 L361.1,466.4 L361.6,466.4 L362.1,466.4 L362.6,466.4 L363.1,466.4 L363.6,466.4 L364.1,466.4 L364.6,466.4 L365.1,466.4 L365.6,466.4 L366.1,466.4 L366.6,466.4 L367.1,466.4 L367.6,466.4 L368.1,466.4 L368.6,466.4 L369.1,466.4 L369.6,466.4 L370.1,466.1 L370.6,466.4 L371.1,466.4 L371.6,466.4 L372.1,466.4 L372.6,466.4 L373.1,466.4 L373.6,466.4 L374.1,466.4 L374.6,466.4 L375.1,466.1 L375.6,466.4 L376.1,466.4 L376.6,466.4 L377.1,466.4 L377.6,466.4 L378.1,466.4 L378.6,466.4 L379.1,466.0 L379.6,466.4 L380.1,466.4 L380.6,466.4 L381.1,466.0 L381.6,466.4 L382.1,466.4 L382.6,466.4 L383.1,465.5 L383.6,466.4 L384.1,466.4 L384.6,465.6 L385.1,466.4 L385.6,466.3 L386.1,466.4 L386.6,466.4 L387.1,466.3 L387.6,466.4 L388.1,466.0 L388.6,466.3 L389.1,466.4 L389.6,466.4 L390.1,466.4 L390.6,466.1 L391.1,465.8 L391.6,466.1 L392.1,466.4 L392.6,466.4 L393.1,466.4 L393.6,466.4 L394.1,466.4 L394.6,466.4 L395.1,466.4 L395.6,465.1 L396.1,466.4 L396.6,466.4 L397.1,466.4 L397.6,466.4 L398.1,466.2 L398.6,466.4 L399.1,466.4 L399.6,466.4 L400.1,466.4 L400.6,466.0 L401.1,466.4 L401.6,465.8 L402.1,466.4 L402.6,466.4 L403.1,466.4 L403.6,466.4 L404.1,466.4 L404.6,466.4 L405.1,466.4 L405.6,464.7 L406.1,466.4 L406.6,466.4 L407.1,465.3 L407.6,466.3 L408.1,466.1 L408.6,466.4 L409.1,466.4 L409.6,466.4 L410.1,466.4 L410.6,466.4 L411.1,466.4 L411.6,466.4 L412.1,466.4 L412.6,466.2 L413.1,466.4 L413.6,466.4 L414.1,466.4 L414.6,466.4 L415.1,466.4 L415.6,466.4 L416.1,466.4 L416.6,466.4 L417.1,466.4 L417.6,466.4 L418.1,466.4 L418.6,466.4 L419.1,466.4 L419.6,466.4 L420.1,466.4 L420.6,466.4 L421.1,466.4 L421.6,466.4 L422.1,466.4 L422.6,466.4 L423.1,466.4 L423.6,465.9 L424.1,466.0 L424.6,466.4 L425.1,466.3 L425.6,466.4 L426.1,466.4 L426.6,466.4 L427.1,466.1 L427.6,466.4 L428.1,465.8 L428.6,466.4 L429.1,466.4 L429.6,466.4 L430.1,465.9 L430.6,466.4 L431.1,466.4 L431.6,466.4 L432.1,466.4 L432.6,466.4 L433.1,466.4 L433.6,466.4 L434.1,466.4 L434.6,466.4 L435.1,466.4 L435.6,464.7 L436.1,466.4 L436.6,466.4 L437.1,466.4 L437.6,465.9 L438.1,466.4 L438.6,466.4 L439.1,466.4 L439.6,466.4 L440.1,464.5 L440.6,466.4 L441.1,466.4 L441.6,466.4 L442.1,466.4 L442.6,466.4 L443.1,466.4 L443.6,466.4 L444.1,466.4 L444.6,466.4 L445.1,466.4 L445.6,466.4 L446.1,466.3 L446.6,466.4 L447.1,466.4 L447.6,466.4 L448.1,466.4 L448.6,466.4 L449.1,466.4 L449.6,466.4 L450.1,466.4 L450.6,466.4 L451.1,466.4 L451.6,466.4 L452.1,466.4 L452.6,466.4 L453.1,466.4 L453.6,466.4 L454.1,465.7 L454.6,466.4 L455.1,466.4 L455.6,466.4 L456.1,466.4 L456.6,466.4 L457.1,465.4 L457.6,466.4 L458.1,466.0 L458.6,460.3 L459.1,465.7 L459.6,466.4 L460.1,464.5 L460.6,466.4 L461.1,466.4 L461.6,466.4 L462.1,466.1 L462.6,466.2 L463.1,466.4 L463.6,466.4 L464.1,466.4 L464.6,466.2 L465.1,466.4 L465.6,466.4 L466.1,466.4 L466.6,466.4 L467.1,466.1 L467.6,466.4 L468.1,466.4 L468.6,466.4 L469.1,466.4 L469.6,466.4 L470.1,466.4 L470.6,463.9 L471.1,466.4 L471.6,466.4 L472.1,466.4 L472.6,466.4 L473.1,466.4 L473.6,466.4 L474.1,466.4 L474.6,466.4 L475.1,466.4 L475.6,466.4 L476.1,466.4 L476.6,466.4 L477.1,466.4 L477.6,463.4 L478.1,466.4 L478.6,466.4 L479.1,466.4 L479.6,466.4 L480.1,465.9 L480.6,466.0 L481.1,466.4 L481.6,466.4 L482.1,466.4 L482.6,466.4 L483.1,466.4 L483.6,466.4 L484.1,466.4 L484.6,466.0 L485.1,466.4 L485.6,466.4 L486.1,466.4 L486.6,466.4 L487.1,466.4 L487.6,466.4 L488.1,466.4 L488.6,466.4 L489.1,466.4 L489.6,466.4 L490.1,466.4 L490.6,465.9 L491.1,466.4 L491.6,466.0 L492.1,466.4 L492.6,466.4 L493.1,466.4 L493.6,466.4 L494.1,466.4 L494.6,466.4 L495.1,466.4 L495.6,466.4 L496.1,466.4 L496.6,466.4 L497.1,466.4 L497.6,466.4 L498.1,466.4 L498.6,466.4 L499.1,466.4 L499.6,466.4 L500.1,465.4 L500.6,466.4 L501.1,466.4 L501.6,466.4 L502.1,466.4 L502.6,466.4 L503.1,466.4 L503.6,466.4 L504.1,466.4 L504.6,466.4 L505.1,465.7 L505.6,466.4 L506.1,466.4 L506.6,466.2 L507.1,466.4 L507.6,464.9 L508.1,466.4 L508.6,466.1 L509.1,464.8 L509.5,463.9 L509.6,464.0 L510.1,465.5 L510.6,466.3 L511.1,466.4 L511.6,466.4 L512.1,466.4 L512.6,466.4 L513.0,466.4Z" fill="#6a2c91"/>
<line x1="29.6" y1="466.35" x2="513.0" y2="466.35" stroke="#6a2c91" stroke-width="1.1"/>
<rect x="164.6" y="443.00" width="1.8" height="1" fill="#e05090"/>
<text x="31.36" y="484.60" font-size="8.31" textLength="61.40" lengthAdjust="spacingAndGlyphs" font-weight="bold" id="tr8" fill="#111">H3K4me3 0 Dox</text>
<path d="M29.6,490.8 L29.6,490.8 L30.1,490.8 L30.6,490.8 L31.1,490.8 L31.6,490.8 L32.1,490.8 L32.6,490.8 L33.1,490.8 L33.6,490.8 L34.1,490.8 L34.6,490.8 L35.1,490.8 L35.6,490.8 L36.1,490.8 L36.6,490.8 L37.1,490.8 L37.6,490.8 L38.1,490.8 L38.6,490.8 L39.1,490.8 L39.6,490.8 L40.1,490.8 L40.6,490.8 L41.1,490.8 L41.6,490.8 L42.1,490.8 L42.6,490.8 L43.1,490.8 L43.6,490.8 L44.1,490.8 L44.6,490.8 L45.1,490.8 L45.6,490.8 L46.1,490.8 L46.6,490.8 L47.1,490.8 L47.6,490.8 L48.1,490.8 L48.6,490.8 L49.1,490.8 L49.6,490.8 L50.1,490.8 L50.6,490.8 L51.1,490.8 L51.6,490.8 L52.1,490.8 L52.6,490.8 L53.1,490.8 L53.6,490.8 L54.1,490.8 L54.6,490.8 L55.1,490.8 L55.6,490.8 L56.1,490.8 L56.6,490.8 L57.1,490.8 L57.6,490.8 L58.1,490.8 L58.6,490.8 L59.1,490.8 L59.6,490.8 L60.1,490.8 L60.6,490.8 L61.1,490.8 L61.6,490.8 L62.1,490.8 L62.6,490.8 L63.1,490.8 L63.6,490.8 L64.1,490.8 L64.6,490.8 L65.1,490.8 L65.6,490.8 L66.1,490.8 L66.6,490.8 L67.1,490.8 L67.6,490.8 L68.1,490.8 L68.6,490.8 L69.1,490.8 L69.6,490.8 L70.1,490.8 L70.6,490.8 L71.1,490.8 L71.6,490.8 L72.1,490.8 L72.6,490.8 L73.1,490.8 L73.6,490.8 L74.1,490.8 L74.6,490.8 L75.1,490.8 L75.6,490.8 L76.1,490.8 L76.6,490.8 L77.1,490.8 L77.6,490.8 L78.1,490.8 L78.6,490.8 L79.1,490.8 L79.6,490.8 L80.1,490.8 L80.6,490.8 L81.1,490.8 L81.6,490.8 L82.1,490.8 L82.6,490.8 L83.1,490.8 L83.6,490.8 L84.1,490.8 L84.6,490.8 L85.1,490.8 L85.6,490.8 L86.1,490.8 L86.6,490.8 L87.1,490.8 L87.6,490.8 L88.1,490.8 L88.6,490.8 L89.1,490.8 L89.6,490.8 L90.1,490.8 L90.6,490.8 L91.1,490.8 L91.6,490.8 L92.1,490.1 L92.5,488.4 L92.6,488.6 L93.1,490.7 L93.6,490.8 L94.1,490.8 L94.6,490.8 L95.1,490.8 L95.6,490.8 L96.1,490.8 L96.6,490.8 L97.1,490.8 L97.6,490.8 L98.1,490.8 L98.6,490.8 L99.1,490.8 L99.6,490.8 L100.1,490.8 L100.6,490.8 L101.1,490.8 L101.6,490.8 L102.1,490.8 L102.6,490.8 L103.1,490.8 L103.6,490.8 L104.1,490.8 L104.6,490.8 L105.1,490.8 L105.6,490.8 L106.1,490.8 L106.6,490.8 L107.1,490.8 L107.6,490.8 L108.1,490.8 L108.6,490.8 L109.1,490.8 L109.6,490.8 L110.1,490.8 L110.6,490.8 L111.1,490.8 L111.6,490.8 L112.1,490.8 L112.6,490.8 L113.1,490.8 L113.6,490.8 L114.1,490.8 L114.6,490.8 L115.1,490.8 L115.6,490.8 L116.1,490.8 L116.6,490.8 L117.1,490.8 L117.6,490.8 L118.1,490.8 L118.6,490.8 L119.1,490.8 L119.6,490.8 L120.1,490.8 L120.6,490.8 L121.1,490.8 L121.6,490.8 L122.1,490.8 L122.6,490.8 L123.1,490.8 L123.6,490.8 L124.1,490.8 L124.6,490.8 L125.1,490.8 L125.6,490.8 L126.1,490.8 L126.6,490.8 L127.1,490.8 L127.6,490.8 L128.1,490.8 L128.6,490.8 L129.1,490.8 L129.6,490.8 L130.1,490.8 L130.6,490.8 L131.1,490.8 L131.6,490.8 L132.1,490.8 L132.6,490.8 L133.1,490.8 L133.6,490.8 L134.1,490.8 L134.6,490.8 L135.1,490.8 L135.6,490.8 L136.1,490.8 L136.6,490.8 L137.1,490.8 L137.6,490.8 L138.1,490.8 L138.6,490.8 L139.1,490.8 L139.6,490.8 L140.1,490.8 L140.6,490.8 L141.1,490.8 L141.6,490.8 L142.1,490.8 L142.6,490.8 L143.1,490.8 L143.6,490.8 L144.1,490.8 L144.6,490.8 L145.1,490.8 L145.6,490.8 L146.1,490.8 L146.6,490.8 L147.1,490.8 L147.6,490.8 L148.1,490.8 L148.6,490.8 L149.1,490.8 L149.6,490.8 L150.1,490.8 L150.6,490.8 L151.1,490.8 L151.6,490.8 L152.1,490.8 L152.6,490.8 L153.1,490.8 L153.6,490.8 L154.1,490.8 L154.6,490.8 L155.1,490.8 L155.6,490.8 L156.1,490.8 L156.6,490.8 L157.1,490.8 L157.6,490.8 L158.1,490.8 L158.6,490.8 L159.1,490.8 L159.6,490.8 L160.1,490.8 L160.6,490.8 L161.1,490.8 L161.6,490.8 L162.1,490.8 L162.6,490.8 L163.1,490.8 L163.6,490.8 L164.1,490.8 L164.6,489.6 L165.1,475.4 L165.4,467.4 L165.6,467.6 L166.1,479.0 L166.3,482.9 L166.6,486.2 L167.1,488.0 L167.6,489.0 L168.1,489.8 L168.6,490.4 L169.1,490.6 L169.6,490.8 L170.1,490.8 L170.6,490.8 L171.1,490.8 L171.6,490.8 L172.1,490.8 L172.6,490.8 L173.1,490.8 L173.6,490.8 L174.1,490.8 L174.6,490.8 L175.1,490.8 L175.6,490.8 L176.1,490.8 L176.6,490.8 L177.1,490.8 L177.6,490.8 L178.1,490.8 L178.6,490.8 L179.1,490.8 L179.6,490.8 L180.1,490.8 L180.6,490.8 L181.1,490.8 L181.6,490.8 L182.1,490.8 L182.6,490.8 L183.1,490.8 L183.6,490.8 L184.1,490.8 L184.6,490.8 L185.1,490.8 L185.6,490.8 L186.1,490.8 L186.6,490.8 L187.1,490.8 L187.6,490.8 L188.1,490.8 L188.6,490.8 L189.1,490.8 L189.6,490.8 L190.1,490.8 L190.6,490.8 L191.1,490.8 L191.6,490.8 L192.1,490.8 L192.6,490.8 L193.1,490.8 L193.6,490.8 L194.1,490.8 L194.6,490.8 L195.1,490.8 L195.6,490.8 L196.1,490.8 L196.6,490.8 L197.1,490.8 L197.6,490.8 L198.1,490.8 L198.6,490.8 L199.1,490.8 L199.6,490.8 L200.1,490.8 L200.6,490.8 L201.1,490.8 L201.6,490.8 L202.1,490.8 L202.6,490.8 L203.1,490.8 L203.6,490.8 L204.1,490.8 L204.6,490.8 L205.1,490.8 L205.6,490.8 L206.1,490.8 L206.6,490.8 L207.1,490.8 L207.6,490.8 L208.1,490.8 L208.6,490.8 L209.1,490.8 L209.6,490.8 L210.1,490.8 L210.6,490.8 L211.1,490.8 L211.6,490.8 L212.1,490.8 L212.6,490.8 L213.1,490.8 L213.6,490.8 L214.1,490.8 L214.6,490.8 L215.1,490.8 L215.6,490.8 L216.1,490.8 L216.6,490.8 L217.1,490.8 L217.6,490.8 L218.1,490.8 L218.6,490.8 L219.1,490.8 L219.6,490.8 L220.1,490.8 L220.6,490.8 L221.1,490.8 L221.6,490.8 L222.1,490.8 L222.6,490.8 L223.1,490.8 L223.6,490.8 L224.1,490.8 L224.6,490.8 L225.1,490.8 L225.6,490.8 L226.1,490.8 L226.6,490.8 L227.1,490.8 L227.6,490.8 L228.1,490.8 L228.6,490.8 L229.1,490.8 L229.6,490.8 L230.1,490.8 L230.6,490.8 L231.1,490.8 L231.6,490.8 L232.1,490.8 L232.6,490.8 L233.1,490.8 L233.6,490.8 L234.1,490.8 L234.6,490.8 L235.1,490.8 L235.6,490.8 L236.1,490.8 L236.6,490.8 L237.1,490.8 L237.6,490.8 L238.1,490.8 L238.6,490.8 L239.1,490.8 L239.6,490.8 L240.1,490.8 L240.6,490.8 L241.1,490.8 L241.6,490.8 L242.1,490.8 L242.6,490.8 L243.1,490.8 L243.6,490.8 L244.1,490.8 L244.6,490.8 L245.1,490.8 L245.6,490.8 L246.1,490.8 L246.6,490.8 L247.1,490.8 L247.6,490.8 L248.1,490.8 L248.6,490.8 L249.1,490.8 L249.6,490.8 L250.1,490.8 L250.6,490.8 L251.1,490.8 L251.6,490.8 L252.1,490.8 L252.6,490.8 L253.1,490.8 L253.6,490.8 L254.1,490.8 L254.6,490.8 L255.1,490.8 L255.6,490.8 L256.1,490.8 L256.6,490.8 L257.1,490.8 L257.6,490.8 L258.1,490.8 L258.6,490.8 L259.1,490.8 L259.6,490.8 L260.1,490.8 L260.6,490.8 L261.1,490.8 L261.6,490.8 L262.1,490.8 L262.6,490.8 L263.1,490.8 L263.6,490.8 L264.1,490.8 L264.6,490.8 L265.1,490.8 L265.6,490.8 L266.1,490.8 L266.6,490.8 L267.1,490.8 L267.6,490.8 L268.1,490.8 L268.6,490.8 L269.1,490.8 L269.6,490.8 L270.1,490.8 L270.6,490.8 L271.1,490.8 L271.6,490.8 L272.1,490.8 L272.6,490.8 L273.1,490.8 L273.6,490.8 L274.1,490.8 L274.6,490.8 L275.1,490.8 L275.6,490.8 L276.1,490.8 L276.6,490.8 L277.1,490.8 L277.6,490.8 L278.1,490.8 L278.6,490.8 L279.1,490.8 L279.6,490.8 L280.1,490.8 L280.6,490.8 L281.1,490.8 L281.6,490.8 L282.1,490.8 L282.6,490.8 L283.1,490.8 L283.6,490.8 L284.1,490.8 L284.6,490.8 L285.1,490.8 L285.6,490.8 L286.1,490.8 L286.6,490.8 L287.1,490.8 L287.6,490.8 L288.1,490.8 L288.6,490.8 L289.1,490.8 L289.6,490.8 L290.1,490.8 L290.6,490.8 L291.1,490.8 L291.6,490.8 L292.1,490.8 L292.6,490.8 L293.1,490.8 L293.6,490.8 L294.1,490.8 L294.6,490.8 L295.1,490.8 L295.6,490.8 L296.1,490.8 L296.6,490.8 L297.1,490.8 L297.6,489.7 L298.1,476.5 L298.4,468.2 L298.6,469.3 L299.1,479.7 L299.3,483.3 L299.6,486.3 L300.1,488.0 L300.6,489.0 L301.1,489.8 L301.6,490.4 L302.1,490.6 L302.6,490.8 L303.1,490.8 L303.6,490.8 L304.1,490.8 L304.6,490.8 L305.1,490.8 L305.6,490.8 L306.1,490.8 L306.6,490.8 L307.1,490.8 L307.6,490.8 L308.1,490.8 L308.6,490.8 L309.1,490.8 L309.6,490.8 L310.1,490.8 L310.6,490.8 L311.1,490.8 L311.6,490.8 L312.1,490.8 L312.6,490.8 L313.1,490.8 L313.6,490.8 L314.1,490.8 L314.6,490.8 L315.1,490.8 L315.6,490.8 L316.1,490.8 L316.6,490.8 L317.1,490.8 L317.6,490.8 L318.1,490.8 L318.6,490.8 L319.1,490.8 L319.6,490.8 L320.1,490.8 L320.6,490.8 L321.1,490.8 L321.6,490.8 L322.1,490.8 L322.6,490.8 L323.1,490.8 L323.6,490.8 L324.1,490.8 L324.6,490.8 L325.1,490.8 L325.6,490.8 L326.1,490.8 L326.6,490.8 L327.1,490.8 L327.6,490.8 L328.1,490.8 L328.6,490.8 L329.1,490.8 L329.6,490.8 L330.1,490.8 L330.6,490.8 L331.1,490.8 L331.6,490.8 L332.1,490.8 L332.6,490.8 L333.1,490.8 L333.6,490.8 L334.1,490.8 L334.6,490.8 L335.1,490.8 L335.6,490.8 L336.1,490.8 L336.6,490.8 L337.1,490.8 L337.6,490.8 L338.1,490.8 L338.6,490.8 L339.1,490.8 L339.6,490.8 L340.1,490.8 L340.6,490.8 L341.1,490.8 L341.6,490.8 L342.1,490.8 L342.6,490.8 L343.1,490.8 L343.6,490.8 L344.1,490.8 L344.6,490.8 L345.1,490.8 L345.6,490.8 L346.1,490.8 L346.6,490.8 L347.1,490.8 L347.6,490.8 L348.1,490.8 L348.6,490.8 L349.1,490.8 L349.6,490.8 L350.1,490.8 L350.6,490.8 L351.1,490.8 L351.6,490.8 L352.1,490.8 L352.6,490.8 L353.1,490.8 L353.6,490.8 L354.1,490.8 L354.6,490.8 L355.1,490.8 L355.6,490.8 L356.1,490.8 L356.6,490.8 L357.1,490.8 L357.6,490.8 L358.1,490.8 L358.6,490.8 L359.1,490.8 L359.6,490.8 L360.1,490.8 L360.6,490.8 L361.1,490.8 L361.6,490.8 L362.1,490.8 L362.6,490.8 L363.1,490.8 L363.6,490.8 L364.1,490.8 L364.6,490.8 L365.1,490.8 L365.6,490.8 L366.1,490.8 L366.6,490.8 L367.1,490.8 L367.6,490.8 L368.1,490.8 L368.6,490.8 L369.1,490.8 L369.6,490.8 L370.1,490.8 L370.6,490.8 L371.1,490.8 L371.6,490.8 L372.1,490.8 L372.6,490.8 L373.1,490.8 L373.6,490.8 L374.1,490.8 L374.6,490.8 L375.1,490.8 L375.6,490.8 L376.1,490.8 L376.6,490.8 L377.1,490.8 L377.6,490.8 L378.1,490.8 L378.6,490.8 L379.1,490.8 L379.6,490.8 L380.1,490.8 L380.6,490.8 L381.1,490.8 L381.6,490.8 L382.1,490.8 L382.6,490.8 L383.1,490.8 L383.6,490.8 L384.1,490.8 L384.6,490.8 L385.1,490.8 L385.6,490.8 L386.1,490.8 L386.6,490.8 L387.1,490.8 L387.6,490.8 L388.1,490.8 L388.6,490.8 L389.1,490.8 L389.6,490.8 L390.1,490.8 L390.6,490.8 L391.1,490.8 L391.6,490.8 L392.1,490.8 L392.6,490.8 L393.1,490.8 L393.6,490.8 L394.1,490.8 L394.6,490.8 L395.1,490.8 L395.6,490.8 L396.1,490.8 L396.6,490.8 L397.1,490.8 L397.6,490.8 L398.1,490.8 L398.6,490.8 L399.1,490.8 L399.6,490.8 L400.1,490.8 L400.6,490.8 L401.1,490.8 L401.6,490.8 L402.1,490.8 L402.6,490.8 L403.1,490.8 L403.6,490.8 L404.1,490.8 L404.6,490.8 L405.1,490.8 L405.6,490.8 L406.1,490.8 L406.6,490.8 L407.1,490.8 L407.6,490.8 L408.1,490.8 L408.6,490.8 L409.1,490.8 L409.6,490.8 L410.1,490.8 L410.6,490.8 L411.1,490.8 L411.6,490.8 L412.1,490.8 L412.6,490.8 L413.1,490.8 L413.6,490.8 L414.1,490.8 L414.6,490.8 L415.1,490.8 L415.6,490.8 L416.1,490.8 L416.6,490.8 L417.1,490.8 L417.6,490.8 L418.1,490.8 L418.6,490.8 L419.1,490.8 L419.6,490.8 L420.1,490.8 L420.6,490.8 L421.1,490.8 L421.6,490.8 L422.1,490.8 L422.6,490.8 L423.1,490.8 L423.6,490.8 L424.1,490.8 L424.6,490.8 L425.1,490.8 L425.6,490.8 L426.1,490.8 L426.6,490.8 L427.1,490.8 L427.6,490.8 L428.1,490.8 L428.6,490.8 L429.1,490.8 L429.6,490.8 L430.1,490.8 L430.6,490.8 L431.1,490.8 L431.6,490.8 L432.1,490.8 L432.6,490.8 L433.1,490.8 L433.6,490.8 L434.1,490.8 L434.6,490.8 L435.1,490.8 L435.6,490.8 L436.1,490.8 L436.6,490.8 L437.1,490.8 L437.6,490.8 L438.1,490.8 L438.6,490.8 L439.1,490.8 L439.6,490.8 L440.1,490.8 L440.6,490.8 L441.1,490.8 L441.6,490.8 L442.1,490.8 L442.6,490.8 L443.1,490.8 L443.6,490.8 L444.1,490.8 L444.6,490.8 L445.1,490.8 L445.6,490.8 L446.1,490.8 L446.6,490.8 L447.1,490.8 L447.6,490.8 L448.1,490.8 L448.6,490.8 L449.1,490.8 L449.6,490.8 L450.1,490.8 L450.6,490.8 L451.1,490.8 L451.6,490.8 L452.1,490.8 L452.6,490.8 L453.1,490.8 L453.6,490.8 L454.1,490.8 L454.6,490.8 L455.1,490.8 L455.6,490.8 L456.1,490.8 L456.6,490.8 L457.1,490.8 L457.6,490.8 L458.1,490.8 L458.6,490.8 L459.1,490.8 L459.6,490.8 L460.1,490.8 L460.6,490.8 L461.1,490.8 L461.6,490.8 L462.1,490.8 L462.6,490.8 L463.1,490.8 L463.6,490.8 L464.1,490.8 L464.6,490.8 L465.1,490.8 L465.6,490.8 L466.1,490.8 L466.6,490.8 L467.1,490.8 L467.6,490.8 L468.1,490.8 L468.6,490.8 L469.1,490.8 L469.6,490.8 L470.1,490.8 L470.6,490.8 L471.1,490.8 L471.6,490.8 L472.1,490.8 L472.6,490.8 L473.1,490.8 L473.6,490.8 L474.1,490.8 L474.6,490.8 L475.1,490.8 L475.6,490.8 L476.1,490.8 L476.6,490.8 L477.1,490.8 L477.6,490.8 L478.1,490.8 L478.6,490.8 L479.1,490.8 L479.6,490.8 L480.1,490.8 L480.6,490.8 L481.1,490.8 L481.6,490.8 L482.1,490.8 L482.6,490.8 L483.1,490.8 L483.6,490.8 L484.1,490.8 L484.6,490.8 L485.1,490.8 L485.6,490.8 L486.1,490.8 L486.6,490.8 L487.1,490.8 L487.6,490.8 L488.1,490.8 L488.6,490.8 L489.1,490.8 L489.6,490.8 L490.1,490.8 L490.6,490.8 L491.1,490.8 L491.6,490.8 L492.1,490.8 L492.6,490.8 L493.1,490.8 L493.6,490.8 L494.1,490.8 L494.6,490.8 L495.1,490.8 L495.6,490.8 L496.1,490.8 L496.6,490.8 L497.1,490.8 L497.6,490.8 L498.1,490.8 L498.6,490.8 L499.1,490.8 L499.6,490.8 L500.1,490.8 L500.6,490.8 L501.1,490.8 L501.6,490.8 L502.1,490.8 L502.6,490.8 L503.1,490.8 L503.6,490.8 L504.1,490.8 L504.6,490.8 L505.1,490.8 L505.6,490.8 L506.1,490.8 L506.6,490.8 L507.1,490.8 L507.6,490.8 L508.1,490.8 L508.6,490.8 L509.1,490.8 L509.6,490.8 L510.1,490.8 L510.6,490.8 L511.1,490.8 L511.6,490.8 L512.1,490.8 L512.6,490.8 L513.0,490.8Z" fill="#000"/>
<line x1="29.6" y1="490.55" x2="513.0" y2="490.55" stroke="#8c8c8c" stroke-width="1.5"/>
<text x="31.36" y="508.80" font-size="8.59" textLength="61.40" lengthAdjust="spacingAndGlyphs" font-weight="bold" id="tr9" fill="#111">H3K4me3 5 Dox</text>
<path d="M29.6,515.4 L29.6,515.4 L30.1,515.4 L30.6,515.4 L31.1,515.4 L31.6,515.4 L32.1,515.4 L32.6,515.4 L33.1,515.4 L33.6,515.4 L34.1,515.4 L34.6,515.4 L35.1,515.4 L35.6,515.4 L36.1,515.4 L36.6,515.4 L37.1,515.4 L37.6,515.4 L38.1,515.4 L38.6,515.4 L39.1,515.4 L39.6,515.4 L40.1,515.4 L40.6,515.4 L41.1,515.4 L41.6,515.4 L42.1,515.4 L42.6,515.4 L43.1,515.4 L43.6,515.4 L44.1,515.4 L44.6,515.4 L45.1,515.4 L45.6,515.4 L46.1,515.4 L46.6,515.4 L47.1,515.4 L47.6,515.4 L48.1,515.4 L48.6,515.4 L49.1,515.4 L49.6,515.4 L50.1,515.4 L50.6,515.4 L51.1,515.4 L51.6,515.4 L52.1,515.4 L52.6,515.4 L53.1,515.4 L53.6,515.4 L54.1,515.4 L54.6,515.4 L55.1,515.4 L55.6,515.4 L56.1,515.4 L56.6,515.4 L57.1,515.4 L57.6,515.4 L58.1,515.4 L58.6,515.4 L59.1,515.4 L59.6,515.4 L60.1,515.4 L60.6,515.4 L61.1,515.4 L61.6,515.4 L62.1,515.4 L62.6,515.4 L63.1,515.4 L63.6,515.4 L64.1,515.4 L64.6,515.4 L65.1,515.4 L65.6,515.4 L66.1,515.4 L66.6,515.4 L67.1,515.4 L67.6,515.4 L68.1,515.4 L68.6,515.4 L69.1,515.4 L69.6,515.4 L70.1,515.4 L70.6,515.4 L71.1,515.4 L71.6,515.4 L72.1,515.4 L72.6,515.4 L73.1,515.4 L73.6,515.4 L74.1,515.4 L74.6,515.4 L75.1,515.4 L75.6,515.4 L76.1,515.4 L76.6,515.4 L77.1,515.4 L77.6,515.4 L78.1,515.4 L78.6,515.4 L79.1,515.4 L79.6,515.4 L80.1,515.4 L80.6,515.4 L81.1,515.4 L81.6,515.4 L82.1,515.4 L82.6,515.4 L83.1,515.4 L83.6,515.4 L84.1,515.4 L84.6,515.4 L85.1,515.4 L85.6,515.4 L86.1,515.4 L86.6,515.4 L87.1,515.4 L87.6,515.4 L88.1,515.4 L88.6,515.4 L89.1,515.4 L89.6,515.4 L90.1,515.4 L90.6,515.4 L91.1,515.4 L91.6,515.4 L92.1,514.8 L92.5,513.2 L92.6,513.4 L93.1,515.3 L93.6,515.4 L94.1,515.4 L94.6,515.4 L95.1,515.4 L95.6,515.4 L96.1,515.4 L96.6,515.4 L97.1,515.4 L97.6,515.4 L98.1,515.4 L98.6,515.4 L99.1,515.4 L99.6,515.4 L100.1,515.4 L100.6,515.4 L101.1,515.4 L101.6,515.4 L102.1,515.4 L102.6,515.4 L103.1,515.4 L103.6,515.4 L104.1,515.4 L104.6,515.4 L105.1,515.4 L105.6,515.4 L106.1,515.4 L106.6,515.4 L107.1,515.4 L107.6,515.4 L108.1,515.4 L108.6,515.4 L109.1,515.4 L109.6,515.4 L110.1,515.4 L110.6,515.4 L111.1,515.4 L111.6,515.4 L112.1,515.4 L112.6,515.4 L113.1,515.4 L113.6,515.4 L114.1,515.4 L114.6,515.4 L115.1,515.4 L115.6,515.4 L116.1,515.4 L116.6,515.4 L117.1,515.4 L117.6,515.4 L118.1,515.4 L118.6,515.4 L119.1,515.4 L119.6,515.4 L120.1,515.4 L120.6,515.4 L121.1,515.4 L121.6,515.4 L122.1,515.4 L122.6,515.4 L123.1,515.4 L123.6,515.4 L124.1,515.4 L124.6,515.4 L125.1,515.4 L125.6,515.4 L126.1,515.4 L126.6,515.4 L127.1,515.4 L127.6,515.4 L128.1,515.4 L128.6,515.4 L129.1,515.4 L129.6,515.4 L130.1,515.4 L130.6,515.4 L131.1,515.4 L131.6,515.4 L132.1,515.4 L132.6,515.4 L133.1,515.4 L133.6,515.4 L134.1,515.4 L134.6,515.4 L135.1,515.4 L135.6,515.4 L136.1,515.4 L136.6,515.4 L137.1,515.4 L137.6,515.4 L138.1,515.4 L138.6,515.4 L139.1,515.4 L139.6,515.4 L140.1,515.4 L140.6,515.4 L141.1,515.4 L141.6,515.4 L142.1,515.4 L142.6,515.4 L143.1,515.4 L143.6,515.4 L144.1,515.4 L144.6,515.4 L145.1,515.4 L145.6,515.4 L146.1,515.4 L146.6,515.4 L147.1,515.4 L147.6,515.4 L148.1,515.4 L148.6,515.4 L149.1,515.4 L149.6,515.4 L150.1,515.4 L150.6,515.4 L151.1,515.4 L151.6,515.4 L152.1,515.4 L152.6,515.4 L153.1,515.4 L153.6,515.4 L154.1,515.4 L154.6,515.4 L155.1,515.4 L155.6,515.4 L156.1,515.4 L156.6,515.4 L157.1,515.4 L157.6,515.4 L158.1,515.4 L158.6,515.4 L159.1,515.4 L159.6,515.4 L160.1,515.4 L160.6,515.4 L161.1,515.4 L161.6,515.4 L162.1,515.4 L162.6,515.4 L163.1,515.4 L163.6,515.4 L164.1,515.4 L164.6,514.2 L165.1,499.6 L165.4,492.0 L165.6,492.0 L166.1,503.5 L166.3,507.4 L166.6,510.8 L167.1,512.6 L167.6,513.6 L168.1,514.4 L168.6,515.0 L169.1,515.2 L169.6,515.4 L170.1,515.4 L170.6,515.4 L171.1,515.4 L171.6,515.4 L172.1,515.4 L172.6,515.4 L173.1,515.4 L173.6,515.4 L174.1,515.4 L174.6,515.4 L175.1,515.4 L175.6,515.4 L176.1,515.4 L176.6,515.4 L177.1,515.4 L177.6,515.4 L178.1,515.4 L178.6,515.4 L179.1,515.4 L179.6,515.4 L180.1,515.4 L180.6,515.4 L181.1,515.4 L181.6,515.4 L182.1,515.4 L182.6,515.4 L183.1,515.4 L183.6,515.4 L184.1,515.4 L184.6,515.4 L185.1,515.4 L185.6,515.4 L186.1,515.4 L186.6,515.4 L187.1,515.4 L187.6,515.4 L188.1,515.4 L188.6,515.4 L189.1,515.4 L189.6,515.4 L190.1,515.4 L190.6,515.4 L191.1,515.4 L191.6,515.4 L192.1,515.4 L192.6,515.4 L193.1,515.4 L193.6,515.4 L194.1,515.4 L194.6,515.4 L195.1,515.4 L195.6,515.4 L196.1,515.4 L196.6,515.4 L197.1,515.4 L197.6,515.4 L198.1,515.4 L198.6,515.4 L199.1,515.4 L199.6,515.4 L200.1,515.4 L200.6,515.4 L201.1,515.4 L201.6,515.4 L202.1,515.4 L202.6,515.4 L203.1,515.4 L203.6,515.4 L204.1,515.4 L204.6,515.4 L205.1,515.4 L205.6,515.4 L206.1,515.4 L206.6,515.4 L207.1,515.4 L207.6,515.4 L208.1,515.4 L208.6,515.4 L209.1,515.4 L209.6,515.4 L210.1,515.4 L210.6,515.4 L211.1,515.4 L211.6,515.4 L212.1,515.4 L212.6,515.4 L213.1,515.4 L213.6,515.4 L214.1,515.4 L214.6,515.4 L215.1,515.4 L215.6,515.4 L216.1,515.4 L216.6,515.4 L217.1,515.4 L217.6,515.4 L218.1,515.4 L218.6,515.4 L219.1,515.4 L219.6,515.4 L220.1,515.4 L220.6,515.4 L221.1,515.4 L221.6,515.4 L222.1,515.4 L222.6,515.4 L223.1,515.4 L223.6,515.4 L224.1,515.4 L224.6,515.4 L225.1,515.4 L225.6,515.4 L226.1,515.4 L226.6,515.4 L227.1,515.4 L227.6,515.4 L228.1,515.4 L228.6,515.4 L229.1,515.4 L229.6,515.4 L230.1,515.4 L230.6,515.4 L231.1,515.4 L231.6,515.4 L232.1,515.4 L232.6,515.4 L233.1,515.4 L233.6,515.4 L234.1,515.4 L234.6,515.4 L235.1,515.4 L235.6,515.4 L236.1,515.4 L236.6,515.4 L237.1,515.4 L237.6,515.4 L238.1,515.4 L238.6,515.4 L239.1,515.4 L239.6,515.4 L240.1,515.4 L240.6,515.4 L241.1,515.4 L241.6,515.4 L242.1,515.4 L242.6,515.4 L243.1,515.4 L243.6,515.4 L244.1,515.4 L244.6,515.4 L245.1,515.4 L245.6,515.4 L246.1,515.4 L246.6,515.4 L247.1,515.4 L247.6,515.4 L248.1,515.4 L248.6,515.4 L249.1,515.4 L249.6,515.4 L250.1,515.4 L250.6,515.4 L251.1,515.4 L251.6,515.4 L252.1,515.4 L252.6,515.4 L253.1,515.4 L253.6,515.4 L254.1,515.4 L254.6,515.4 L255.1,515.4 L255.6,515.4 L256.1,515.4 L256.6,515.4 L257.1,515.4 L257.6,515.4 L258.1,515.4 L258.6,515.4 L259.1,515.4 L259.6,515.4 L260.1,515.4 L260.6,515.4 L261.1,515.4 L261.6,515.4 L262.1,515.4 L262.6,515.4 L263.1,515.4 L263.6,515.4 L264.1,515.4 L264.6,515.4 L265.1,515.4 L265.6,515.4 L266.1,515.4 L266.6,515.4 L267.1,515.4 L267.6,515.4 L268.1,515.4 L268.6,515.4 L269.1,515.4 L269.6,515.4 L270.1,515.4 L270.6,515.4 L271.1,515.4 L271.6,515.4 L272.1,515.4 L272.6,515.4 L273.1,515.4 L273.6,515.4 L274.1,515.4 L274.6,515.4 L275.1,515.4 L275.6,515.4 L276.1,515.4 L276.6,515.4 L277.1,515.4 L277.6,515.4 L278.1,515.4 L278.6,515.4 L279.1,515.4 L279.6,515.4 L280.1,515.4 L280.6,515.4 L281.1,515.4 L281.6,515.4 L282.1,515.4 L282.6,515.4 L283.1,515.4 L283.6,515.4 L284.1,515.4 L284.6,515.4 L285.1,515.4 L285.6,515.4 L286.1,515.4 L286.6,515.4 L287.1,515.4 L287.6,515.4 L288.1,515.4 L288.6,515.4 L289.1,515.4 L289.6,515.4 L290.1,515.4 L290.6,515.4 L291.1,515.4 L291.6,515.4 L292.1,515.4 L292.6,515.4 L293.1,515.4 L293.6,515.4 L294.1,515.4 L294.6,515.4 L295.1,515.4 L295.6,515.4 L296.1,515.4 L296.6,515.4 L297.1,515.4 L297.6,514.3 L298.1,500.7 L298.4,492.1 L298.6,493.3 L299.1,504.1 L299.3,507.7 L299.6,510.9 L300.1,512.6 L300.6,513.6 L301.1,514.4 L301.6,515.0 L302.1,515.2 L302.6,515.4 L303.1,515.4 L303.6,515.4 L304.1,515.4 L304.6,515.4 L305.1,515.4 L305.6,515.4 L306.1,515.4 L306.6,515.4 L307.1,515.4 L307.6,515.4 L308.1,515.4 L308.6,515.4 L309.1,515.4 L309.6,515.4 L310.1,515.4 L310.6,515.4 L311.1,515.4 L311.6,515.4 L312.1,515.4 L312.6,515.4 L313.1,515.4 L313.6,515.4 L314.1,515.4 L314.6,515.4 L315.1,515.4 L315.6,515.4 L316.1,515.4 L316.6,515.4 L317.1,515.4 L317.6,515.4 L318.1,515.4 L318.6,515.4 L319.1,515.4 L319.6,515.4 L320.1,515.4 L320.6,515.4 L321.1,515.4 L321.6,515.4 L322.1,515.4 L322.6,515.4 L323.1,515.4 L323.6,515.4 L324.1,515.4 L324.6,515.4 L325.1,515.4 L325.6,515.4 L326.1,515.4 L326.6,515.4 L327.1,515.4 L327.6,515.4 L328.1,515.4 L328.6,515.4 L329.1,515.4 L329.6,515.4 L330.1,515.4 L330.6,515.4 L331.1,515.4 L331.6,515.4 L332.1,515.4 L332.6,515.4 L333.1,515.4 L333.6,515.4 L334.1,515.4 L334.6,515.4 L335.1,515.4 L335.6,515.4 L336.1,515.4 L336.6,515.4 L337.1,515.4 L337.6,515.4 L338.1,515.4 L338.6,515.4 L339.1,515.4 L339.6,515.4 L340.1,515.4 L340.6,515.4 L341.1,515.4 L341.6,515.4 L342.1,515.4 L342.6,515.4 L343.1,515.4 L343.6,515.4 L344.1,515.4 L344.6,515.4 L345.1,515.4 L345.6,515.4 L346.1,515.4 L346.6,515.4 L347.1,515.4 L347.6,515.4 L348.1,515.4 L348.6,515.4 L349.1,515.4 L349.6,515.4 L350.1,515.4 L350.6,515.4 L351.1,515.4 L351.6,515.4 L352.1,515.4 L352.6,515.4 L353.1,515.4 L353.6,515.4 L354.1,515.4 L354.6,515.4 L355.1,515.4 L355.6,515.4 L356.1,515.4 L356.6,515.4 L357.1,515.4 L357.6,515.4 L358.1,515.4 L358.6,515.4 L359.1,515.4 L359.6,515.4 L360.1,515.4 L360.6,515.4 L361.1,515.4 L361.6,515.4 L362.1,515.4 L362.6,515.4 L363.1,515.4 L363.6,515.4 L364.1,515.4 L364.6,515.4 L365.1,515.4 L365.6,515.4 L366.1,515.4 L366.6,515.4 L367.1,515.4 L367.6,515.4 L368.1,515.4 L368.6,515.4 L369.1,515.4 L369.6,515.4 L370.1,515.4 L370.6,515.4 L371.1,515.4 L371.6,515.4 L372.1,515.4 L372.6,515.4 L373.1,515.4 L373.6,515.4 L374.1,515.4 L374.6,515.4 L375.1,515.4 L375.6,515.4 L376.1,515.4 L376.6,515.4 L377.1,515.4 L377.6,515.4 L378.1,515.4 L378.6,515.4 L379.1,515.4 L379.6,515.4 L380.1,515.4 L380.6,515.4 L381.1,515.4 L381.6,515.4 L382.1,515.4 L382.6,515.4 L383.1,515.4 L383.6,515.4 L384.1,515.4 L384.6,515.4 L385.1,515.4 L385.6,515.4 L386.1,515.4 L386.6,515.4 L387.1,515.4 L387.6,515.4 L388.1,515.4 L388.6,515.4 L389.1,515.4 L389.6,515.4 L390.1,515.4 L390.6,515.4 L391.1,515.4 L391.6,515.4 L392.1,515.4 L392.6,515.4 L393.1,515.4 L393.6,515.4 L394.1,515.4 L394.6,515.4 L395.1,515.4 L395.6,515.4 L396.1,515.4 L396.6,515.4 L397.1,515.4 L397.6,515.4 L398.1,515.4 L398.6,515.4 L399.1,515.4 L399.6,515.4 L400.1,515.4 L400.6,515.4 L401.1,515.4 L401.6,515.4 L402.1,515.4 L402.6,515.4 L403.1,515.4 L403.6,515.4 L404.1,515.4 L404.6,515.4 L405.1,515.4 L405.6,515.4 L406.1,515.4 L406.6,515.4 L407.1,515.4 L407.6,515.4 L408.1,515.4 L408.6,515.4 L409.1,515.4 L409.6,515.4 L410.1,515.4 L410.6,515.4 L411.1,515.4 L411.6,515.4 L412.1,515.4 L412.6,515.4 L413.1,515.4 L413.6,515.4 L414.1,515.4 L414.6,515.4 L415.1,515.4 L415.6,515.4 L416.1,515.4 L416.6,515.4 L417.1,515.4 L417.6,515.4 L418.1,515.4 L418.6,515.4 L419.1,515.4 L419.6,515.4 L420.1,515.4 L420.6,515.4 L421.1,515.4 L421.6,515.4 L422.1,515.4 L422.6,515.4 L423.1,515.4 L423.6,515.4 L424.1,515.4 L424.6,515.4 L425.1,515.4 L425.6,515.4 L426.1,515.4 L426.6,515.4 L427.1,515.4 L427.6,515.4 L428.1,515.4 L428.6,515.4 L429.1,515.4 L429.6,515.4 L430.1,515.4 L430.6,515.4 L431.1,515.4 L431.6,515.4 L432.1,515.4 L432.6,515.4 L433.1,515.4 L433.6,515.4 L434.1,515.4 L434.6,515.4 L435.1,515.4 L435.6,515.4 L436.1,515.4 L436.6,515.4 L437.1,515.4 L437.6,515.4 L438.1,515.4 L438.6,515.4 L439.1,515.4 L439.6,515.4 L440.1,515.4 L440.6,515.4 L441.1,515.4 L441.6,515.4 L442.1,515.4 L442.6,515.4 L443.1,515.4 L443.6,515.4 L444.1,515.4 L444.6,515.4 L445.1,515.4 L445.6,515.4 L446.1,515.4 L446.6,515.4 L447.1,515.4 L447.6,515.4 L448.1,515.4 L448.6,515.4 L449.1,515.4 L449.6,515.4 L450.1,515.4 L450.6,515.4 L451.1,515.4 L451.6,515.4 L452.1,515.4 L452.6,515.4 L453.1,515.4 L453.6,515.4 L454.1,515.4 L454.6,515.4 L455.1,515.4 L455.6,515.4 L456.1,515.4 L456.6,515.4 L457.1,515.4 L457.6,515.4 L458.1,515.4 L458.6,515.4 L459.1,515.4 L459.6,515.4 L460.1,515.4 L460.6,515.4 L461.1,515.4 L461.6,515.4 L462.1,515.4 L462.6,515.4 L463.1,515.4 L463.6,515.4 L464.1,515.4 L464.6,515.4 L465.1,515.4 L465.6,515.4 L466.1,515.4 L466.6,515.4 L467.1,515.4 L467.6,515.4 L468.1,515.4 L468.6,515.4 L469.1,515.4 L469.6,515.4 L470.1,515.4 L470.6,515.4 L471.1,515.4 L471.6,515.4 L472.1,515.4 L472.6,515.4 L473.1,515.4 L473.6,515.4 L474.1,515.4 L474.6,515.4 L475.1,515.4 L475.6,515.4 L476.1,515.4 L476.6,515.4 L477.1,515.4 L477.6,515.4 L478.1,515.4 L478.6,515.4 L479.1,515.4 L479.6,515.4 L480.1,515.4 L480.6,515.4 L481.1,515.4 L481.6,515.4 L482.1,515.4 L482.6,515.4 L483.1,515.4 L483.6,515.4 L484.1,515.4 L484.6,515.4 L485.1,515.4 L485.6,515.4 L486.1,515.4 L486.6,515.4 L487.1,515.4 L487.6,515.4 L488.1,515.4 L488.6,515.4 L489.1,515.4 L489.6,515.4 L490.1,515.4 L490.6,515.4 L491.1,515.4 L491.6,515.4 L492.1,515.4 L492.6,515.4 L493.1,515.4 L493.6,515.4 L494.1,515.4 L494.6,515.4 L495.1,515.4 L495.6,515.4 L496.1,515.4 L496.6,515.4 L497.1,515.4 L497.6,515.4 L498.1,515.4 L498.6,515.4 L499.1,515.4 L499.6,515.4 L500.1,515.4 L500.6,515.4 L501.1,515.4 L501.6,515.4 L502.1,515.4 L502.6,515.4 L503.1,515.4 L503.6,515.4 L504.1,515.4 L504.6,515.4 L505.1,515.4 L505.6,515.4 L506.1,515.4 L506.6,515.4 L507.1,515.4 L507.6,515.4 L508.1,515.4 L508.6,515.4 L509.1,515.4 L509.6,515.4 L510.1,515.4 L510.6,515.4 L511.1,515.4 L511.6,515.4 L512.1,515.4 L512.6,515.4 L513.0,515.4Z" fill="#000"/>
<line x1="29.6" y1="515.40" x2="513.0" y2="515.40" stroke="#8c8c8c" stroke-width="1.0"/>
</g>
<rect x="0.5" y="0.5" width="519" height="523" fill="none" stroke="#000" stroke-width="1"/>
</svg></body></html>
